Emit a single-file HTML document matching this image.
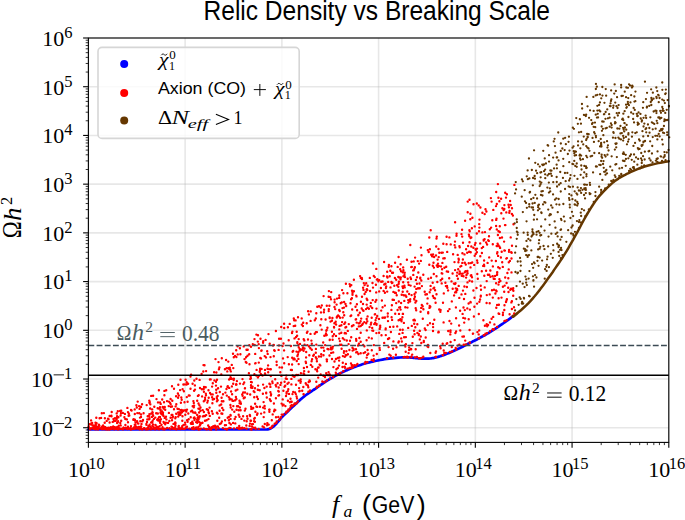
<!DOCTYPE html>
<html><head><meta charset="utf-8"><style>
html,body{margin:0;padding:0;background:#fff;width:685px;height:520px;overflow:hidden}
svg{display:block}
</style></head><body>
<svg width="685" height="520" viewBox="0 0 685 520">
<rect width="685" height="520" fill="#fff"/>
<g stroke="#b0b0b0" stroke-opacity="0.3" stroke-width="1.6"><line x1="88.40" y1="38.0" x2="88.40" y2="442.4"/><line x1="185.13" y1="38.0" x2="185.13" y2="442.4"/><line x1="281.87" y1="38.0" x2="281.87" y2="442.4"/><line x1="378.60" y1="38.0" x2="378.60" y2="442.4"/><line x1="475.33" y1="38.0" x2="475.33" y2="442.4"/><line x1="572.07" y1="38.0" x2="572.07" y2="442.4"/><line x1="668.80" y1="38.0" x2="668.80" y2="442.4"/><line x1="88.4" y1="427.73" x2="668.8" y2="427.73"/><line x1="88.4" y1="379.02" x2="668.8" y2="379.02"/><line x1="88.4" y1="330.30" x2="668.8" y2="330.30"/><line x1="88.4" y1="281.58" x2="668.8" y2="281.58"/><line x1="88.4" y1="232.87" x2="668.8" y2="232.87"/><line x1="88.4" y1="184.15" x2="668.8" y2="184.15"/><line x1="88.4" y1="135.43" x2="668.8" y2="135.43"/><line x1="88.4" y1="86.72" x2="668.8" y2="86.72"/><line x1="88.4" y1="38.00" x2="668.8" y2="38.00"/></g>
<polyline points="88.4,429.5 94.9,429.5 103.7,429.5 114.2,429.5 125.8,429.5 138.0,429.5 150.0,429.5 162.8,429.5 177.1,429.5 191.8,429.5 206.2,429.5 219.2,429.5 230.0,429.5 238.4,429.5 245.2,429.5 250.7,429.5 255.1,429.5 258.8,429.5 262.0,429.5 264.5,429.5 265.9,429.5 266.5,429.5 266.8,429.5 267.0,429.5 267.5,429.4 268.2,429.3 268.8,429.1 269.4,429.0 269.9,428.7 270.4,428.5 271.0,428.2 271.6,427.9 272.1,427.5 272.7,427.1 273.3,426.7 273.9,426.2 274.5,425.6 275.1,425.0 275.8,424.2 276.5,423.5 277.2,422.7 277.9,421.9 278.5,421.2 279.0,420.6 279.4,420.1 279.8,419.6 280.2,419.1 280.7,418.4 281.5,417.6 282.5,416.6 283.7,415.4 285.1,414.0 286.5,412.7 288.0,411.3 289.4,409.9 290.8,408.5 292.3,407.1 293.8,405.7 295.3,404.3 296.8,402.9 298.2,401.6 299.5,400.4 300.8,399.3 302.0,398.2 303.2,397.2 304.5,396.1 306.0,395.0 307.7,393.8 309.5,392.6 311.4,391.3 313.3,390.0 315.2,388.8 316.9,387.6 318.5,386.5 320.0,385.4 321.5,384.4 323.0,383.3 324.4,382.3 326.0,381.3 327.6,380.3 329.3,379.3 331.1,378.3 332.8,377.3 334.5,376.3 336.2,375.4 337.9,374.5 339.5,373.7 341.1,372.9 342.8,372.1 344.4,371.3 346.0,370.6 347.6,369.9 349.1,369.2 350.7,368.6 352.2,367.9 353.8,367.3 355.4,366.7 357.1,366.1 358.9,365.5 360.6,364.9 362.4,364.3 364.2,363.8 366.0,363.3 367.7,362.8 369.4,362.4 371.0,362.0 372.7,361.6 374.4,361.2 376.3,360.8 378.3,360.4 380.3,360.0 382.5,359.6 384.6,359.2 386.8,358.9 389.0,358.6 391.3,358.3 393.6,358.1 396.0,357.9 398.3,357.7 400.5,357.5 402.5,357.4 404.2,357.3 405.7,357.3 407.1,357.4 408.4,357.4 409.7,357.5 411.0,357.6 412.3,357.7 413.6,357.8 414.8,357.9 416.0,358.1 417.2,358.2 418.3,358.3 419.3,358.4 420.3,358.5 421.2,358.6 422.1,358.6 423.1,358.7 424.0,358.7 425.0,358.7 426.0,358.7 427.0,358.7 428.0,358.7 429.0,358.6 430.0,358.5 431.0,358.4 432.0,358.2 433.0,358.1 434.0,357.9 435.0,357.6 436.0,357.4 437.0,357.1 438.0,356.9 439.0,356.6 440.0,356.3 441.0,355.9 442.0,355.6 443.1,355.2 444.1,354.9 445.2,354.5 446.3,354.1 447.4,353.6 448.5,353.2 449.6,352.7 450.7,352.2 451.8,351.7 452.9,351.2 454.0,350.7 455.1,350.2 456.2,349.7 457.2,349.2 458.3,348.7 459.4,348.2 460.4,347.7 461.5,347.2 462.6,346.7 463.7,346.1 464.8,345.5 466.0,344.9 467.1,344.4 468.2,343.8 469.3,343.2 470.4,342.7 471.5,342.2 472.6,341.6 473.7,341.1 474.8,340.5 475.9,339.9 477.0,339.4 478.1,338.8 479.2,338.2 480.3,337.6 481.4,337.0 482.5,336.4 483.6,335.8 484.7,335.2 485.8,334.6 486.9,333.9 488.0,333.3 489.1,332.7 490.1,332.0 491.1,331.4 492.1,330.7 493.3,330.0 494.5,329.2 495.9,328.3 497.4,327.3 498.9,326.3 500.5,325.2 502.1,324.1 503.7,323.0 505.3,321.8 507.1,320.6 508.9,319.3 510.5,318.1 511.9,317.0 512.9,316.3" fill="none" stroke="#0000ff" stroke-width="2.7" stroke-linejoin="round" stroke-linecap="round"/>
<path fill="#ff0000" d="M184.1 424.6a1.2 1.2 0 1 0 2.4 0a1.2 1.2 0 1 0 -2.4 0M222.2 401.3a1.2 1.2 0 1 0 2.4 0a1.2 1.2 0 1 0 -2.4 0M427.0 312.2a1.2 1.2 0 1 0 2.4 0a1.2 1.2 0 1 0 -2.4 0M375.4 323.9a1.2 1.2 0 1 0 2.4 0a1.2 1.2 0 1 0 -2.4 0M253.9 403.7a1.2 1.2 0 1 0 2.4 0a1.2 1.2 0 1 0 -2.4 0M229.0 378.9a1.2 1.2 0 1 0 2.4 0a1.2 1.2 0 1 0 -2.4 0M342.1 312.3a1.2 1.2 0 1 0 2.4 0a1.2 1.2 0 1 0 -2.4 0M166.8 422.9a1.2 1.2 0 1 0 2.4 0a1.2 1.2 0 1 0 -2.4 0M373.9 314.2a1.2 1.2 0 1 0 2.4 0a1.2 1.2 0 1 0 -2.4 0M488.5 294.4a1.2 1.2 0 1 0 2.4 0a1.2 1.2 0 1 0 -2.4 0M193.0 428.4a1.2 1.2 0 1 0 2.4 0a1.2 1.2 0 1 0 -2.4 0M491.5 276.3a1.2 1.2 0 1 0 2.4 0a1.2 1.2 0 1 0 -2.4 0M371.5 300.1a1.2 1.2 0 1 0 2.4 0a1.2 1.2 0 1 0 -2.4 0M275.5 365.0a1.2 1.2 0 1 0 2.4 0a1.2 1.2 0 1 0 -2.4 0M464.9 277.6a1.2 1.2 0 1 0 2.4 0a1.2 1.2 0 1 0 -2.4 0M384.4 329.4a1.2 1.2 0 1 0 2.4 0a1.2 1.2 0 1 0 -2.4 0M399.9 303.0a1.2 1.2 0 1 0 2.4 0a1.2 1.2 0 1 0 -2.4 0M181.0 426.1a1.2 1.2 0 1 0 2.4 0a1.2 1.2 0 1 0 -2.4 0M155.3 399.1a1.2 1.2 0 1 0 2.4 0a1.2 1.2 0 1 0 -2.4 0M232.1 406.1a1.2 1.2 0 1 0 2.4 0a1.2 1.2 0 1 0 -2.4 0M285.4 393.5a1.2 1.2 0 1 0 2.4 0a1.2 1.2 0 1 0 -2.4 0M200.7 389.3a1.2 1.2 0 1 0 2.4 0a1.2 1.2 0 1 0 -2.4 0M434.8 255.4a1.2 1.2 0 1 0 2.4 0a1.2 1.2 0 1 0 -2.4 0M169.6 406.7a1.2 1.2 0 1 0 2.4 0a1.2 1.2 0 1 0 -2.4 0M142.4 413.2a1.2 1.2 0 1 0 2.4 0a1.2 1.2 0 1 0 -2.4 0M126.3 429.0a1.2 1.2 0 1 0 2.4 0a1.2 1.2 0 1 0 -2.4 0M342.2 293.3a1.2 1.2 0 1 0 2.4 0a1.2 1.2 0 1 0 -2.4 0M451.4 273.5a1.2 1.2 0 1 0 2.4 0a1.2 1.2 0 1 0 -2.4 0M343.6 332.9a1.2 1.2 0 1 0 2.4 0a1.2 1.2 0 1 0 -2.4 0M484.3 209.2a1.2 1.2 0 1 0 2.4 0a1.2 1.2 0 1 0 -2.4 0M396.0 326.4a1.2 1.2 0 1 0 2.4 0a1.2 1.2 0 1 0 -2.4 0M453.9 270.1a1.2 1.2 0 1 0 2.4 0a1.2 1.2 0 1 0 -2.4 0M483.2 335.3a1.2 1.2 0 1 0 2.4 0a1.2 1.2 0 1 0 -2.4 0M319.9 356.6a1.2 1.2 0 1 0 2.4 0a1.2 1.2 0 1 0 -2.4 0M486.7 274.7a1.2 1.2 0 1 0 2.4 0a1.2 1.2 0 1 0 -2.4 0M298.1 391.2a1.2 1.2 0 1 0 2.4 0a1.2 1.2 0 1 0 -2.4 0M203.9 399.5a1.2 1.2 0 1 0 2.4 0a1.2 1.2 0 1 0 -2.4 0M279.7 338.8a1.2 1.2 0 1 0 2.4 0a1.2 1.2 0 1 0 -2.4 0M370.6 338.4a1.2 1.2 0 1 0 2.4 0a1.2 1.2 0 1 0 -2.4 0M472.2 247.8a1.2 1.2 0 1 0 2.4 0a1.2 1.2 0 1 0 -2.4 0M196.7 395.9a1.2 1.2 0 1 0 2.4 0a1.2 1.2 0 1 0 -2.4 0M232.0 383.8a1.2 1.2 0 1 0 2.4 0a1.2 1.2 0 1 0 -2.4 0M197.5 429.5a1.2 1.2 0 1 0 2.4 0a1.2 1.2 0 1 0 -2.4 0M238.7 407.4a1.2 1.2 0 1 0 2.4 0a1.2 1.2 0 1 0 -2.4 0M89.3 429.3a1.2 1.2 0 1 0 2.4 0a1.2 1.2 0 1 0 -2.4 0M355.0 295.6a1.2 1.2 0 1 0 2.4 0a1.2 1.2 0 1 0 -2.4 0M207.5 397.7a1.2 1.2 0 1 0 2.4 0a1.2 1.2 0 1 0 -2.4 0M116.2 429.2a1.2 1.2 0 1 0 2.4 0a1.2 1.2 0 1 0 -2.4 0M350.0 315.5a1.2 1.2 0 1 0 2.4 0a1.2 1.2 0 1 0 -2.4 0M162.3 408.6a1.2 1.2 0 1 0 2.4 0a1.2 1.2 0 1 0 -2.4 0M216.9 388.2a1.2 1.2 0 1 0 2.4 0a1.2 1.2 0 1 0 -2.4 0M151.2 412.3a1.2 1.2 0 1 0 2.4 0a1.2 1.2 0 1 0 -2.4 0M180.1 397.4a1.2 1.2 0 1 0 2.4 0a1.2 1.2 0 1 0 -2.4 0M289.3 398.7a1.2 1.2 0 1 0 2.4 0a1.2 1.2 0 1 0 -2.4 0M290.2 384.4a1.2 1.2 0 1 0 2.4 0a1.2 1.2 0 1 0 -2.4 0M196.0 422.7a1.2 1.2 0 1 0 2.4 0a1.2 1.2 0 1 0 -2.4 0M206.1 402.6a1.2 1.2 0 1 0 2.4 0a1.2 1.2 0 1 0 -2.4 0M198.2 417.4a1.2 1.2 0 1 0 2.4 0a1.2 1.2 0 1 0 -2.4 0M292.9 358.4a1.2 1.2 0 1 0 2.4 0a1.2 1.2 0 1 0 -2.4 0M298.4 350.3a1.2 1.2 0 1 0 2.4 0a1.2 1.2 0 1 0 -2.4 0M164.0 409.7a1.2 1.2 0 1 0 2.4 0a1.2 1.2 0 1 0 -2.4 0M454.6 288.4a1.2 1.2 0 1 0 2.4 0a1.2 1.2 0 1 0 -2.4 0M163.2 429.4a1.2 1.2 0 1 0 2.4 0a1.2 1.2 0 1 0 -2.4 0M407.0 282.4a1.2 1.2 0 1 0 2.4 0a1.2 1.2 0 1 0 -2.4 0M347.6 324.1a1.2 1.2 0 1 0 2.4 0a1.2 1.2 0 1 0 -2.4 0M176.3 408.7a1.2 1.2 0 1 0 2.4 0a1.2 1.2 0 1 0 -2.4 0M411.0 354.6a1.2 1.2 0 1 0 2.4 0a1.2 1.2 0 1 0 -2.4 0M193.4 429.1a1.2 1.2 0 1 0 2.4 0a1.2 1.2 0 1 0 -2.4 0M123.7 413.9a1.2 1.2 0 1 0 2.4 0a1.2 1.2 0 1 0 -2.4 0M350.6 365.5a1.2 1.2 0 1 0 2.4 0a1.2 1.2 0 1 0 -2.4 0M316.0 371.3a1.2 1.2 0 1 0 2.4 0a1.2 1.2 0 1 0 -2.4 0M357.6 323.4a1.2 1.2 0 1 0 2.4 0a1.2 1.2 0 1 0 -2.4 0M161.5 406.9a1.2 1.2 0 1 0 2.4 0a1.2 1.2 0 1 0 -2.4 0M192.9 390.7a1.2 1.2 0 1 0 2.4 0a1.2 1.2 0 1 0 -2.4 0M379.0 327.2a1.2 1.2 0 1 0 2.4 0a1.2 1.2 0 1 0 -2.4 0M460.1 265.9a1.2 1.2 0 1 0 2.4 0a1.2 1.2 0 1 0 -2.4 0M269.9 394.2a1.2 1.2 0 1 0 2.4 0a1.2 1.2 0 1 0 -2.4 0M350.7 326.2a1.2 1.2 0 1 0 2.4 0a1.2 1.2 0 1 0 -2.4 0M220.6 401.2a1.2 1.2 0 1 0 2.4 0a1.2 1.2 0 1 0 -2.4 0M163.5 417.9a1.2 1.2 0 1 0 2.4 0a1.2 1.2 0 1 0 -2.4 0M91.3 425.4a1.2 1.2 0 1 0 2.4 0a1.2 1.2 0 1 0 -2.4 0M176.7 393.5a1.2 1.2 0 1 0 2.4 0a1.2 1.2 0 1 0 -2.4 0M457.9 325.5a1.2 1.2 0 1 0 2.4 0a1.2 1.2 0 1 0 -2.4 0M501.7 286.7a1.2 1.2 0 1 0 2.4 0a1.2 1.2 0 1 0 -2.4 0M275.4 361.8a1.2 1.2 0 1 0 2.4 0a1.2 1.2 0 1 0 -2.4 0M248.6 415.0a1.2 1.2 0 1 0 2.4 0a1.2 1.2 0 1 0 -2.4 0M204.8 395.3a1.2 1.2 0 1 0 2.4 0a1.2 1.2 0 1 0 -2.4 0M498.9 247.9a1.2 1.2 0 1 0 2.4 0a1.2 1.2 0 1 0 -2.4 0M112.0 426.5a1.2 1.2 0 1 0 2.4 0a1.2 1.2 0 1 0 -2.4 0M261.4 426.5a1.2 1.2 0 1 0 2.4 0a1.2 1.2 0 1 0 -2.4 0M159.1 428.6a1.2 1.2 0 1 0 2.4 0a1.2 1.2 0 1 0 -2.4 0M189.5 417.3a1.2 1.2 0 1 0 2.4 0a1.2 1.2 0 1 0 -2.4 0M419.6 336.5a1.2 1.2 0 1 0 2.4 0a1.2 1.2 0 1 0 -2.4 0M174.0 422.5a1.2 1.2 0 1 0 2.4 0a1.2 1.2 0 1 0 -2.4 0M322.4 296.1a1.2 1.2 0 1 0 2.4 0a1.2 1.2 0 1 0 -2.4 0M243.6 397.5a1.2 1.2 0 1 0 2.4 0a1.2 1.2 0 1 0 -2.4 0M303.4 344.8a1.2 1.2 0 1 0 2.4 0a1.2 1.2 0 1 0 -2.4 0M229.3 415.0a1.2 1.2 0 1 0 2.4 0a1.2 1.2 0 1 0 -2.4 0M207.7 413.3a1.2 1.2 0 1 0 2.4 0a1.2 1.2 0 1 0 -2.4 0M207.3 390.3a1.2 1.2 0 1 0 2.4 0a1.2 1.2 0 1 0 -2.4 0M123.6 428.3a1.2 1.2 0 1 0 2.4 0a1.2 1.2 0 1 0 -2.4 0M292.5 326.1a1.2 1.2 0 1 0 2.4 0a1.2 1.2 0 1 0 -2.4 0M463.6 262.8a1.2 1.2 0 1 0 2.4 0a1.2 1.2 0 1 0 -2.4 0M490.8 290.3a1.2 1.2 0 1 0 2.4 0a1.2 1.2 0 1 0 -2.4 0M98.9 428.1a1.2 1.2 0 1 0 2.4 0a1.2 1.2 0 1 0 -2.4 0M478.3 219.6a1.2 1.2 0 1 0 2.4 0a1.2 1.2 0 1 0 -2.4 0M405.9 357.5a1.2 1.2 0 1 0 2.4 0a1.2 1.2 0 1 0 -2.4 0M469.2 213.8a1.2 1.2 0 1 0 2.4 0a1.2 1.2 0 1 0 -2.4 0M158.8 407.3a1.2 1.2 0 1 0 2.4 0a1.2 1.2 0 1 0 -2.4 0M228.4 399.5a1.2 1.2 0 1 0 2.4 0a1.2 1.2 0 1 0 -2.4 0M248.3 364.2a1.2 1.2 0 1 0 2.4 0a1.2 1.2 0 1 0 -2.4 0M235.0 350.2a1.2 1.2 0 1 0 2.4 0a1.2 1.2 0 1 0 -2.4 0M307.2 391.8a1.2 1.2 0 1 0 2.4 0a1.2 1.2 0 1 0 -2.4 0M91.0 427.9a1.2 1.2 0 1 0 2.4 0a1.2 1.2 0 1 0 -2.4 0M461.2 253.3a1.2 1.2 0 1 0 2.4 0a1.2 1.2 0 1 0 -2.4 0M124.4 419.1a1.2 1.2 0 1 0 2.4 0a1.2 1.2 0 1 0 -2.4 0M293.5 359.3a1.2 1.2 0 1 0 2.4 0a1.2 1.2 0 1 0 -2.4 0M292.3 359.4a1.2 1.2 0 1 0 2.4 0a1.2 1.2 0 1 0 -2.4 0M420.7 286.1a1.2 1.2 0 1 0 2.4 0a1.2 1.2 0 1 0 -2.4 0M498.2 201.3a1.2 1.2 0 1 0 2.4 0a1.2 1.2 0 1 0 -2.4 0M388.5 276.2a1.2 1.2 0 1 0 2.4 0a1.2 1.2 0 1 0 -2.4 0M203.8 420.7a1.2 1.2 0 1 0 2.4 0a1.2 1.2 0 1 0 -2.4 0M372.7 345.1a1.2 1.2 0 1 0 2.4 0a1.2 1.2 0 1 0 -2.4 0M235.3 409.8a1.2 1.2 0 1 0 2.4 0a1.2 1.2 0 1 0 -2.4 0M414.5 349.3a1.2 1.2 0 1 0 2.4 0a1.2 1.2 0 1 0 -2.4 0M375.1 268.9a1.2 1.2 0 1 0 2.4 0a1.2 1.2 0 1 0 -2.4 0M503.7 250.6a1.2 1.2 0 1 0 2.4 0a1.2 1.2 0 1 0 -2.4 0M456.5 345.6a1.2 1.2 0 1 0 2.4 0a1.2 1.2 0 1 0 -2.4 0M106.8 418.7a1.2 1.2 0 1 0 2.4 0a1.2 1.2 0 1 0 -2.4 0M210.9 397.3a1.2 1.2 0 1 0 2.4 0a1.2 1.2 0 1 0 -2.4 0M454.7 307.4a1.2 1.2 0 1 0 2.4 0a1.2 1.2 0 1 0 -2.4 0M343.2 339.6a1.2 1.2 0 1 0 2.4 0a1.2 1.2 0 1 0 -2.4 0M233.9 355.9a1.2 1.2 0 1 0 2.4 0a1.2 1.2 0 1 0 -2.4 0M110.9 427.3a1.2 1.2 0 1 0 2.4 0a1.2 1.2 0 1 0 -2.4 0M412.3 320.3a1.2 1.2 0 1 0 2.4 0a1.2 1.2 0 1 0 -2.4 0M126.8 422.3a1.2 1.2 0 1 0 2.4 0a1.2 1.2 0 1 0 -2.4 0M510.5 252.7a1.2 1.2 0 1 0 2.4 0a1.2 1.2 0 1 0 -2.4 0M417.9 263.6a1.2 1.2 0 1 0 2.4 0a1.2 1.2 0 1 0 -2.4 0M457.2 262.2a1.2 1.2 0 1 0 2.4 0a1.2 1.2 0 1 0 -2.4 0M290.5 405.0a1.2 1.2 0 1 0 2.4 0a1.2 1.2 0 1 0 -2.4 0M159.1 428.6a1.2 1.2 0 1 0 2.4 0a1.2 1.2 0 1 0 -2.4 0M314.7 348.9a1.2 1.2 0 1 0 2.4 0a1.2 1.2 0 1 0 -2.4 0M268.6 399.1a1.2 1.2 0 1 0 2.4 0a1.2 1.2 0 1 0 -2.4 0M156.7 427.2a1.2 1.2 0 1 0 2.4 0a1.2 1.2 0 1 0 -2.4 0M157.9 429.2a1.2 1.2 0 1 0 2.4 0a1.2 1.2 0 1 0 -2.4 0M197.2 427.0a1.2 1.2 0 1 0 2.4 0a1.2 1.2 0 1 0 -2.4 0M489.1 270.5a1.2 1.2 0 1 0 2.4 0a1.2 1.2 0 1 0 -2.4 0M507.7 207.3a1.2 1.2 0 1 0 2.4 0a1.2 1.2 0 1 0 -2.4 0M387.0 281.9a1.2 1.2 0 1 0 2.4 0a1.2 1.2 0 1 0 -2.4 0M395.3 347.3a1.2 1.2 0 1 0 2.4 0a1.2 1.2 0 1 0 -2.4 0M399.3 279.2a1.2 1.2 0 1 0 2.4 0a1.2 1.2 0 1 0 -2.4 0M307.7 314.4a1.2 1.2 0 1 0 2.4 0a1.2 1.2 0 1 0 -2.4 0M162.8 402.3a1.2 1.2 0 1 0 2.4 0a1.2 1.2 0 1 0 -2.4 0M461.2 336.6a1.2 1.2 0 1 0 2.4 0a1.2 1.2 0 1 0 -2.4 0M462.3 307.5a1.2 1.2 0 1 0 2.4 0a1.2 1.2 0 1 0 -2.4 0M389.5 355.7a1.2 1.2 0 1 0 2.4 0a1.2 1.2 0 1 0 -2.4 0M484.9 270.8a1.2 1.2 0 1 0 2.4 0a1.2 1.2 0 1 0 -2.4 0M504.8 197.6a1.2 1.2 0 1 0 2.4 0a1.2 1.2 0 1 0 -2.4 0M301.7 326.0a1.2 1.2 0 1 0 2.4 0a1.2 1.2 0 1 0 -2.4 0M410.0 267.1a1.2 1.2 0 1 0 2.4 0a1.2 1.2 0 1 0 -2.4 0M349.9 299.3a1.2 1.2 0 1 0 2.4 0a1.2 1.2 0 1 0 -2.4 0M136.2 422.4a1.2 1.2 0 1 0 2.4 0a1.2 1.2 0 1 0 -2.4 0M221.8 394.3a1.2 1.2 0 1 0 2.4 0a1.2 1.2 0 1 0 -2.4 0M116.1 429.3a1.2 1.2 0 1 0 2.4 0a1.2 1.2 0 1 0 -2.4 0M465.1 344.5a1.2 1.2 0 1 0 2.4 0a1.2 1.2 0 1 0 -2.4 0M96.6 428.4a1.2 1.2 0 1 0 2.4 0a1.2 1.2 0 1 0 -2.4 0M316.1 306.8a1.2 1.2 0 1 0 2.4 0a1.2 1.2 0 1 0 -2.4 0M162.9 428.8a1.2 1.2 0 1 0 2.4 0a1.2 1.2 0 1 0 -2.4 0M157.9 408.6a1.2 1.2 0 1 0 2.4 0a1.2 1.2 0 1 0 -2.4 0M460.9 229.7a1.2 1.2 0 1 0 2.4 0a1.2 1.2 0 1 0 -2.4 0M297.9 388.1a1.2 1.2 0 1 0 2.4 0a1.2 1.2 0 1 0 -2.4 0M232.5 380.1a1.2 1.2 0 1 0 2.4 0a1.2 1.2 0 1 0 -2.4 0M513.0 313.5a1.2 1.2 0 1 0 2.4 0a1.2 1.2 0 1 0 -2.4 0M319.8 312.4a1.2 1.2 0 1 0 2.4 0a1.2 1.2 0 1 0 -2.4 0M216.4 413.6a1.2 1.2 0 1 0 2.4 0a1.2 1.2 0 1 0 -2.4 0M245.1 425.5a1.2 1.2 0 1 0 2.4 0a1.2 1.2 0 1 0 -2.4 0M383.7 317.8a1.2 1.2 0 1 0 2.4 0a1.2 1.2 0 1 0 -2.4 0M138.4 408.9a1.2 1.2 0 1 0 2.4 0a1.2 1.2 0 1 0 -2.4 0M410.3 261.8a1.2 1.2 0 1 0 2.4 0a1.2 1.2 0 1 0 -2.4 0M463.8 344.7a1.2 1.2 0 1 0 2.4 0a1.2 1.2 0 1 0 -2.4 0M289.7 346.0a1.2 1.2 0 1 0 2.4 0a1.2 1.2 0 1 0 -2.4 0M273.5 350.7a1.2 1.2 0 1 0 2.4 0a1.2 1.2 0 1 0 -2.4 0M148.2 414.1a1.2 1.2 0 1 0 2.4 0a1.2 1.2 0 1 0 -2.4 0M267.3 334.1a1.2 1.2 0 1 0 2.4 0a1.2 1.2 0 1 0 -2.4 0M412.9 330.8a1.2 1.2 0 1 0 2.4 0a1.2 1.2 0 1 0 -2.4 0M263.6 424.0a1.2 1.2 0 1 0 2.4 0a1.2 1.2 0 1 0 -2.4 0M351.4 350.6a1.2 1.2 0 1 0 2.4 0a1.2 1.2 0 1 0 -2.4 0M105.9 428.0a1.2 1.2 0 1 0 2.4 0a1.2 1.2 0 1 0 -2.4 0M180.8 412.3a1.2 1.2 0 1 0 2.4 0a1.2 1.2 0 1 0 -2.4 0M174.1 427.9a1.2 1.2 0 1 0 2.4 0a1.2 1.2 0 1 0 -2.4 0M505.3 320.3a1.2 1.2 0 1 0 2.4 0a1.2 1.2 0 1 0 -2.4 0M106.2 429.5a1.2 1.2 0 1 0 2.4 0a1.2 1.2 0 1 0 -2.4 0M178.9 390.1a1.2 1.2 0 1 0 2.4 0a1.2 1.2 0 1 0 -2.4 0M100.6 413.2a1.2 1.2 0 1 0 2.4 0a1.2 1.2 0 1 0 -2.4 0M359.7 301.8a1.2 1.2 0 1 0 2.4 0a1.2 1.2 0 1 0 -2.4 0M365.5 304.6a1.2 1.2 0 1 0 2.4 0a1.2 1.2 0 1 0 -2.4 0M234.4 417.0a1.2 1.2 0 1 0 2.4 0a1.2 1.2 0 1 0 -2.4 0M102.7 413.1a1.2 1.2 0 1 0 2.4 0a1.2 1.2 0 1 0 -2.4 0M272.6 345.0a1.2 1.2 0 1 0 2.4 0a1.2 1.2 0 1 0 -2.4 0M160.2 413.9a1.2 1.2 0 1 0 2.4 0a1.2 1.2 0 1 0 -2.4 0M269.0 384.4a1.2 1.2 0 1 0 2.4 0a1.2 1.2 0 1 0 -2.4 0M246.1 393.8a1.2 1.2 0 1 0 2.4 0a1.2 1.2 0 1 0 -2.4 0M445.8 285.9a1.2 1.2 0 1 0 2.4 0a1.2 1.2 0 1 0 -2.4 0M382.3 317.6a1.2 1.2 0 1 0 2.4 0a1.2 1.2 0 1 0 -2.4 0M287.7 364.3a1.2 1.2 0 1 0 2.4 0a1.2 1.2 0 1 0 -2.4 0M257.5 344.2a1.2 1.2 0 1 0 2.4 0a1.2 1.2 0 1 0 -2.4 0M133.7 419.7a1.2 1.2 0 1 0 2.4 0a1.2 1.2 0 1 0 -2.4 0M344.2 327.5a1.2 1.2 0 1 0 2.4 0a1.2 1.2 0 1 0 -2.4 0M302.0 322.8a1.2 1.2 0 1 0 2.4 0a1.2 1.2 0 1 0 -2.4 0M473.0 264.9a1.2 1.2 0 1 0 2.4 0a1.2 1.2 0 1 0 -2.4 0M500.1 213.2a1.2 1.2 0 1 0 2.4 0a1.2 1.2 0 1 0 -2.4 0M432.2 288.4a1.2 1.2 0 1 0 2.4 0a1.2 1.2 0 1 0 -2.4 0M298.5 391.0a1.2 1.2 0 1 0 2.4 0a1.2 1.2 0 1 0 -2.4 0M246.5 349.8a1.2 1.2 0 1 0 2.4 0a1.2 1.2 0 1 0 -2.4 0M291.3 394.1a1.2 1.2 0 1 0 2.4 0a1.2 1.2 0 1 0 -2.4 0M313.6 320.3a1.2 1.2 0 1 0 2.4 0a1.2 1.2 0 1 0 -2.4 0M435.6 236.6a1.2 1.2 0 1 0 2.4 0a1.2 1.2 0 1 0 -2.4 0M151.5 420.8a1.2 1.2 0 1 0 2.4 0a1.2 1.2 0 1 0 -2.4 0M343.1 323.9a1.2 1.2 0 1 0 2.4 0a1.2 1.2 0 1 0 -2.4 0M473.2 306.8a1.2 1.2 0 1 0 2.4 0a1.2 1.2 0 1 0 -2.4 0M182.0 428.8a1.2 1.2 0 1 0 2.4 0a1.2 1.2 0 1 0 -2.4 0M209.9 429.5a1.2 1.2 0 1 0 2.4 0a1.2 1.2 0 1 0 -2.4 0M446.1 287.8a1.2 1.2 0 1 0 2.4 0a1.2 1.2 0 1 0 -2.4 0M365.0 323.2a1.2 1.2 0 1 0 2.4 0a1.2 1.2 0 1 0 -2.4 0M498.6 232.0a1.2 1.2 0 1 0 2.4 0a1.2 1.2 0 1 0 -2.4 0M360.8 296.8a1.2 1.2 0 1 0 2.4 0a1.2 1.2 0 1 0 -2.4 0M491.7 266.4a1.2 1.2 0 1 0 2.4 0a1.2 1.2 0 1 0 -2.4 0M439.5 280.2a1.2 1.2 0 1 0 2.4 0a1.2 1.2 0 1 0 -2.4 0M374.7 284.7a1.2 1.2 0 1 0 2.4 0a1.2 1.2 0 1 0 -2.4 0M168.2 428.3a1.2 1.2 0 1 0 2.4 0a1.2 1.2 0 1 0 -2.4 0M178.2 413.5a1.2 1.2 0 1 0 2.4 0a1.2 1.2 0 1 0 -2.4 0M454.9 349.5a1.2 1.2 0 1 0 2.4 0a1.2 1.2 0 1 0 -2.4 0M229.5 407.5a1.2 1.2 0 1 0 2.4 0a1.2 1.2 0 1 0 -2.4 0M379.7 288.0a1.2 1.2 0 1 0 2.4 0a1.2 1.2 0 1 0 -2.4 0M272.7 403.5a1.2 1.2 0 1 0 2.4 0a1.2 1.2 0 1 0 -2.4 0M282.9 323.8a1.2 1.2 0 1 0 2.4 0a1.2 1.2 0 1 0 -2.4 0M91.7 427.8a1.2 1.2 0 1 0 2.4 0a1.2 1.2 0 1 0 -2.4 0M437.6 266.0a1.2 1.2 0 1 0 2.4 0a1.2 1.2 0 1 0 -2.4 0M219.9 423.2a1.2 1.2 0 1 0 2.4 0a1.2 1.2 0 1 0 -2.4 0M230.9 394.2a1.2 1.2 0 1 0 2.4 0a1.2 1.2 0 1 0 -2.4 0M353.4 365.2a1.2 1.2 0 1 0 2.4 0a1.2 1.2 0 1 0 -2.4 0M419.0 278.4a1.2 1.2 0 1 0 2.4 0a1.2 1.2 0 1 0 -2.4 0M305.0 352.0a1.2 1.2 0 1 0 2.4 0a1.2 1.2 0 1 0 -2.4 0M290.8 333.0a1.2 1.2 0 1 0 2.4 0a1.2 1.2 0 1 0 -2.4 0M416.2 332.9a1.2 1.2 0 1 0 2.4 0a1.2 1.2 0 1 0 -2.4 0M317.7 356.5a1.2 1.2 0 1 0 2.4 0a1.2 1.2 0 1 0 -2.4 0M406.3 307.6a1.2 1.2 0 1 0 2.4 0a1.2 1.2 0 1 0 -2.4 0M243.3 359.1a1.2 1.2 0 1 0 2.4 0a1.2 1.2 0 1 0 -2.4 0M460.5 275.7a1.2 1.2 0 1 0 2.4 0a1.2 1.2 0 1 0 -2.4 0M281.8 358.4a1.2 1.2 0 1 0 2.4 0a1.2 1.2 0 1 0 -2.4 0M136.6 428.5a1.2 1.2 0 1 0 2.4 0a1.2 1.2 0 1 0 -2.4 0M503.5 285.6a1.2 1.2 0 1 0 2.4 0a1.2 1.2 0 1 0 -2.4 0M281.5 405.6a1.2 1.2 0 1 0 2.4 0a1.2 1.2 0 1 0 -2.4 0M431.8 331.0a1.2 1.2 0 1 0 2.4 0a1.2 1.2 0 1 0 -2.4 0M140.4 428.9a1.2 1.2 0 1 0 2.4 0a1.2 1.2 0 1 0 -2.4 0M205.0 415.1a1.2 1.2 0 1 0 2.4 0a1.2 1.2 0 1 0 -2.4 0M268.2 411.8a1.2 1.2 0 1 0 2.4 0a1.2 1.2 0 1 0 -2.4 0M269.7 395.4a1.2 1.2 0 1 0 2.4 0a1.2 1.2 0 1 0 -2.4 0M101.9 425.5a1.2 1.2 0 1 0 2.4 0a1.2 1.2 0 1 0 -2.4 0M341.6 338.3a1.2 1.2 0 1 0 2.4 0a1.2 1.2 0 1 0 -2.4 0M403.3 274.9a1.2 1.2 0 1 0 2.4 0a1.2 1.2 0 1 0 -2.4 0M504.2 225.1a1.2 1.2 0 1 0 2.4 0a1.2 1.2 0 1 0 -2.4 0M323.3 381.9a1.2 1.2 0 1 0 2.4 0a1.2 1.2 0 1 0 -2.4 0M484.3 333.6a1.2 1.2 0 1 0 2.4 0a1.2 1.2 0 1 0 -2.4 0M492.8 289.7a1.2 1.2 0 1 0 2.4 0a1.2 1.2 0 1 0 -2.4 0M177.7 409.1a1.2 1.2 0 1 0 2.4 0a1.2 1.2 0 1 0 -2.4 0M115.5 419.1a1.2 1.2 0 1 0 2.4 0a1.2 1.2 0 1 0 -2.4 0M159.5 403.9a1.2 1.2 0 1 0 2.4 0a1.2 1.2 0 1 0 -2.4 0M404.4 295.4a1.2 1.2 0 1 0 2.4 0a1.2 1.2 0 1 0 -2.4 0M198.4 379.9a1.2 1.2 0 1 0 2.4 0a1.2 1.2 0 1 0 -2.4 0M135.0 427.9a1.2 1.2 0 1 0 2.4 0a1.2 1.2 0 1 0 -2.4 0M489.2 276.8a1.2 1.2 0 1 0 2.4 0a1.2 1.2 0 1 0 -2.4 0M378.5 328.9a1.2 1.2 0 1 0 2.4 0a1.2 1.2 0 1 0 -2.4 0M495.5 246.0a1.2 1.2 0 1 0 2.4 0a1.2 1.2 0 1 0 -2.4 0M227.6 397.1a1.2 1.2 0 1 0 2.4 0a1.2 1.2 0 1 0 -2.4 0M169.1 429.1a1.2 1.2 0 1 0 2.4 0a1.2 1.2 0 1 0 -2.4 0M145.5 405.1a1.2 1.2 0 1 0 2.4 0a1.2 1.2 0 1 0 -2.4 0M489.2 270.6a1.2 1.2 0 1 0 2.4 0a1.2 1.2 0 1 0 -2.4 0M429.1 306.7a1.2 1.2 0 1 0 2.4 0a1.2 1.2 0 1 0 -2.4 0M177.4 428.8a1.2 1.2 0 1 0 2.4 0a1.2 1.2 0 1 0 -2.4 0M454.9 331.4a1.2 1.2 0 1 0 2.4 0a1.2 1.2 0 1 0 -2.4 0M111.3 428.5a1.2 1.2 0 1 0 2.4 0a1.2 1.2 0 1 0 -2.4 0M249.7 378.2a1.2 1.2 0 1 0 2.4 0a1.2 1.2 0 1 0 -2.4 0M258.5 371.8a1.2 1.2 0 1 0 2.4 0a1.2 1.2 0 1 0 -2.4 0M503.2 250.5a1.2 1.2 0 1 0 2.4 0a1.2 1.2 0 1 0 -2.4 0M469.7 263.1a1.2 1.2 0 1 0 2.4 0a1.2 1.2 0 1 0 -2.4 0M251.0 387.9a1.2 1.2 0 1 0 2.4 0a1.2 1.2 0 1 0 -2.4 0M268.2 383.7a1.2 1.2 0 1 0 2.4 0a1.2 1.2 0 1 0 -2.4 0M391.9 348.8a1.2 1.2 0 1 0 2.4 0a1.2 1.2 0 1 0 -2.4 0M360.0 318.6a1.2 1.2 0 1 0 2.4 0a1.2 1.2 0 1 0 -2.4 0M468.2 230.3a1.2 1.2 0 1 0 2.4 0a1.2 1.2 0 1 0 -2.4 0M380.0 310.6a1.2 1.2 0 1 0 2.4 0a1.2 1.2 0 1 0 -2.4 0M306.8 339.5a1.2 1.2 0 1 0 2.4 0a1.2 1.2 0 1 0 -2.4 0M471.0 262.5a1.2 1.2 0 1 0 2.4 0a1.2 1.2 0 1 0 -2.4 0M228.2 423.0a1.2 1.2 0 1 0 2.4 0a1.2 1.2 0 1 0 -2.4 0M243.8 388.1a1.2 1.2 0 1 0 2.4 0a1.2 1.2 0 1 0 -2.4 0M236.9 406.2a1.2 1.2 0 1 0 2.4 0a1.2 1.2 0 1 0 -2.4 0M295.8 398.4a1.2 1.2 0 1 0 2.4 0a1.2 1.2 0 1 0 -2.4 0M102.0 429.0a1.2 1.2 0 1 0 2.4 0a1.2 1.2 0 1 0 -2.4 0M280.2 375.9a1.2 1.2 0 1 0 2.4 0a1.2 1.2 0 1 0 -2.4 0M222.1 410.0a1.2 1.2 0 1 0 2.4 0a1.2 1.2 0 1 0 -2.4 0M190.8 428.0a1.2 1.2 0 1 0 2.4 0a1.2 1.2 0 1 0 -2.4 0M192.6 403.0a1.2 1.2 0 1 0 2.4 0a1.2 1.2 0 1 0 -2.4 0M427.0 347.0a1.2 1.2 0 1 0 2.4 0a1.2 1.2 0 1 0 -2.4 0M251.5 408.5a1.2 1.2 0 1 0 2.4 0a1.2 1.2 0 1 0 -2.4 0M505.1 212.4a1.2 1.2 0 1 0 2.4 0a1.2 1.2 0 1 0 -2.4 0M263.1 412.4a1.2 1.2 0 1 0 2.4 0a1.2 1.2 0 1 0 -2.4 0M384.5 328.4a1.2 1.2 0 1 0 2.4 0a1.2 1.2 0 1 0 -2.4 0M439.4 310.0a1.2 1.2 0 1 0 2.4 0a1.2 1.2 0 1 0 -2.4 0M178.0 412.4a1.2 1.2 0 1 0 2.4 0a1.2 1.2 0 1 0 -2.4 0M204.5 387.2a1.2 1.2 0 1 0 2.4 0a1.2 1.2 0 1 0 -2.4 0M211.8 427.8a1.2 1.2 0 1 0 2.4 0a1.2 1.2 0 1 0 -2.4 0M407.0 300.1a1.2 1.2 0 1 0 2.4 0a1.2 1.2 0 1 0 -2.4 0M271.1 381.4a1.2 1.2 0 1 0 2.4 0a1.2 1.2 0 1 0 -2.4 0M315.7 361.3a1.2 1.2 0 1 0 2.4 0a1.2 1.2 0 1 0 -2.4 0M295.3 351.6a1.2 1.2 0 1 0 2.4 0a1.2 1.2 0 1 0 -2.4 0M302.5 394.2a1.2 1.2 0 1 0 2.4 0a1.2 1.2 0 1 0 -2.4 0M390.8 272.7a1.2 1.2 0 1 0 2.4 0a1.2 1.2 0 1 0 -2.4 0M115.5 413.4a1.2 1.2 0 1 0 2.4 0a1.2 1.2 0 1 0 -2.4 0M296.8 317.2a1.2 1.2 0 1 0 2.4 0a1.2 1.2 0 1 0 -2.4 0M109.2 428.7a1.2 1.2 0 1 0 2.4 0a1.2 1.2 0 1 0 -2.4 0M503.1 310.0a1.2 1.2 0 1 0 2.4 0a1.2 1.2 0 1 0 -2.4 0M368.4 327.1a1.2 1.2 0 1 0 2.4 0a1.2 1.2 0 1 0 -2.4 0M479.0 243.4a1.2 1.2 0 1 0 2.4 0a1.2 1.2 0 1 0 -2.4 0M161.8 414.5a1.2 1.2 0 1 0 2.4 0a1.2 1.2 0 1 0 -2.4 0M238.3 400.7a1.2 1.2 0 1 0 2.4 0a1.2 1.2 0 1 0 -2.4 0M107.4 419.3a1.2 1.2 0 1 0 2.4 0a1.2 1.2 0 1 0 -2.4 0M245.4 428.7a1.2 1.2 0 1 0 2.4 0a1.2 1.2 0 1 0 -2.4 0M398.9 307.3a1.2 1.2 0 1 0 2.4 0a1.2 1.2 0 1 0 -2.4 0M139.1 421.3a1.2 1.2 0 1 0 2.4 0a1.2 1.2 0 1 0 -2.4 0M418.3 283.5a1.2 1.2 0 1 0 2.4 0a1.2 1.2 0 1 0 -2.4 0M269.2 386.9a1.2 1.2 0 1 0 2.4 0a1.2 1.2 0 1 0 -2.4 0M429.1 353.0a1.2 1.2 0 1 0 2.4 0a1.2 1.2 0 1 0 -2.4 0M161.3 429.0a1.2 1.2 0 1 0 2.4 0a1.2 1.2 0 1 0 -2.4 0M471.7 333.8a1.2 1.2 0 1 0 2.4 0a1.2 1.2 0 1 0 -2.4 0M397.1 276.9a1.2 1.2 0 1 0 2.4 0a1.2 1.2 0 1 0 -2.4 0M107.7 428.1a1.2 1.2 0 1 0 2.4 0a1.2 1.2 0 1 0 -2.4 0M291.4 375.4a1.2 1.2 0 1 0 2.4 0a1.2 1.2 0 1 0 -2.4 0M395.0 279.8a1.2 1.2 0 1 0 2.4 0a1.2 1.2 0 1 0 -2.4 0M242.0 392.5a1.2 1.2 0 1 0 2.4 0a1.2 1.2 0 1 0 -2.4 0M417.1 272.5a1.2 1.2 0 1 0 2.4 0a1.2 1.2 0 1 0 -2.4 0M463.2 286.5a1.2 1.2 0 1 0 2.4 0a1.2 1.2 0 1 0 -2.4 0M162.3 415.9a1.2 1.2 0 1 0 2.4 0a1.2 1.2 0 1 0 -2.4 0M432.5 297.7a1.2 1.2 0 1 0 2.4 0a1.2 1.2 0 1 0 -2.4 0M251.6 344.2a1.2 1.2 0 1 0 2.4 0a1.2 1.2 0 1 0 -2.4 0M250.1 408.9a1.2 1.2 0 1 0 2.4 0a1.2 1.2 0 1 0 -2.4 0M366.0 354.9a1.2 1.2 0 1 0 2.4 0a1.2 1.2 0 1 0 -2.4 0M502.3 218.6a1.2 1.2 0 1 0 2.4 0a1.2 1.2 0 1 0 -2.4 0M378.0 291.4a1.2 1.2 0 1 0 2.4 0a1.2 1.2 0 1 0 -2.4 0M181.4 389.2a1.2 1.2 0 1 0 2.4 0a1.2 1.2 0 1 0 -2.4 0M87.4 426.6a1.2 1.2 0 1 0 2.4 0a1.2 1.2 0 1 0 -2.4 0M212.8 399.0a1.2 1.2 0 1 0 2.4 0a1.2 1.2 0 1 0 -2.4 0M116.6 422.3a1.2 1.2 0 1 0 2.4 0a1.2 1.2 0 1 0 -2.4 0M490.4 201.6a1.2 1.2 0 1 0 2.4 0a1.2 1.2 0 1 0 -2.4 0M151.8 415.2a1.2 1.2 0 1 0 2.4 0a1.2 1.2 0 1 0 -2.4 0M229.5 415.6a1.2 1.2 0 1 0 2.4 0a1.2 1.2 0 1 0 -2.4 0M498.7 238.0a1.2 1.2 0 1 0 2.4 0a1.2 1.2 0 1 0 -2.4 0M314.6 357.3a1.2 1.2 0 1 0 2.4 0a1.2 1.2 0 1 0 -2.4 0M382.4 276.0a1.2 1.2 0 1 0 2.4 0a1.2 1.2 0 1 0 -2.4 0M371.0 308.0a1.2 1.2 0 1 0 2.4 0a1.2 1.2 0 1 0 -2.4 0M156.7 419.8a1.2 1.2 0 1 0 2.4 0a1.2 1.2 0 1 0 -2.4 0M473.5 226.4a1.2 1.2 0 1 0 2.4 0a1.2 1.2 0 1 0 -2.4 0M398.1 333.9a1.2 1.2 0 1 0 2.4 0a1.2 1.2 0 1 0 -2.4 0M284.2 406.1a1.2 1.2 0 1 0 2.4 0a1.2 1.2 0 1 0 -2.4 0M282.3 343.5a1.2 1.2 0 1 0 2.4 0a1.2 1.2 0 1 0 -2.4 0M403.5 287.4a1.2 1.2 0 1 0 2.4 0a1.2 1.2 0 1 0 -2.4 0M256.7 377.4a1.2 1.2 0 1 0 2.4 0a1.2 1.2 0 1 0 -2.4 0M271.5 425.8a1.2 1.2 0 1 0 2.4 0a1.2 1.2 0 1 0 -2.4 0M329.1 297.1a1.2 1.2 0 1 0 2.4 0a1.2 1.2 0 1 0 -2.4 0M325.7 361.3a1.2 1.2 0 1 0 2.4 0a1.2 1.2 0 1 0 -2.4 0M283.4 381.8a1.2 1.2 0 1 0 2.4 0a1.2 1.2 0 1 0 -2.4 0M344.8 333.4a1.2 1.2 0 1 0 2.4 0a1.2 1.2 0 1 0 -2.4 0M151.1 422.2a1.2 1.2 0 1 0 2.4 0a1.2 1.2 0 1 0 -2.4 0M402.0 267.4a1.2 1.2 0 1 0 2.4 0a1.2 1.2 0 1 0 -2.4 0M156.5 408.3a1.2 1.2 0 1 0 2.4 0a1.2 1.2 0 1 0 -2.4 0M431.7 295.9a1.2 1.2 0 1 0 2.4 0a1.2 1.2 0 1 0 -2.4 0M331.2 318.0a1.2 1.2 0 1 0 2.4 0a1.2 1.2 0 1 0 -2.4 0M486.0 326.2a1.2 1.2 0 1 0 2.4 0a1.2 1.2 0 1 0 -2.4 0M265.0 392.8a1.2 1.2 0 1 0 2.4 0a1.2 1.2 0 1 0 -2.4 0M367.7 308.8a1.2 1.2 0 1 0 2.4 0a1.2 1.2 0 1 0 -2.4 0M216.5 400.3a1.2 1.2 0 1 0 2.4 0a1.2 1.2 0 1 0 -2.4 0M156.3 427.0a1.2 1.2 0 1 0 2.4 0a1.2 1.2 0 1 0 -2.4 0M372.0 330.7a1.2 1.2 0 1 0 2.4 0a1.2 1.2 0 1 0 -2.4 0M138.8 417.6a1.2 1.2 0 1 0 2.4 0a1.2 1.2 0 1 0 -2.4 0M299.6 381.6a1.2 1.2 0 1 0 2.4 0a1.2 1.2 0 1 0 -2.4 0M194.9 422.1a1.2 1.2 0 1 0 2.4 0a1.2 1.2 0 1 0 -2.4 0M433.8 298.4a1.2 1.2 0 1 0 2.4 0a1.2 1.2 0 1 0 -2.4 0M191.1 421.7a1.2 1.2 0 1 0 2.4 0a1.2 1.2 0 1 0 -2.4 0M121.2 429.0a1.2 1.2 0 1 0 2.4 0a1.2 1.2 0 1 0 -2.4 0M254.4 363.1a1.2 1.2 0 1 0 2.4 0a1.2 1.2 0 1 0 -2.4 0M177.0 412.4a1.2 1.2 0 1 0 2.4 0a1.2 1.2 0 1 0 -2.4 0M391.4 299.7a1.2 1.2 0 1 0 2.4 0a1.2 1.2 0 1 0 -2.4 0M350.8 290.8a1.2 1.2 0 1 0 2.4 0a1.2 1.2 0 1 0 -2.4 0M491.5 329.2a1.2 1.2 0 1 0 2.4 0a1.2 1.2 0 1 0 -2.4 0M450.0 323.6a1.2 1.2 0 1 0 2.4 0a1.2 1.2 0 1 0 -2.4 0M217.6 428.2a1.2 1.2 0 1 0 2.4 0a1.2 1.2 0 1 0 -2.4 0M454.1 247.4a1.2 1.2 0 1 0 2.4 0a1.2 1.2 0 1 0 -2.4 0M195.0 427.5a1.2 1.2 0 1 0 2.4 0a1.2 1.2 0 1 0 -2.4 0M450.9 351.5a1.2 1.2 0 1 0 2.4 0a1.2 1.2 0 1 0 -2.4 0M149.0 408.4a1.2 1.2 0 1 0 2.4 0a1.2 1.2 0 1 0 -2.4 0M482.9 260.5a1.2 1.2 0 1 0 2.4 0a1.2 1.2 0 1 0 -2.4 0M327.7 291.1a1.2 1.2 0 1 0 2.4 0a1.2 1.2 0 1 0 -2.4 0M282.1 414.5a1.2 1.2 0 1 0 2.4 0a1.2 1.2 0 1 0 -2.4 0M258.9 368.7a1.2 1.2 0 1 0 2.4 0a1.2 1.2 0 1 0 -2.4 0M248.0 354.2a1.2 1.2 0 1 0 2.4 0a1.2 1.2 0 1 0 -2.4 0M154.2 427.8a1.2 1.2 0 1 0 2.4 0a1.2 1.2 0 1 0 -2.4 0M356.2 364.0a1.2 1.2 0 1 0 2.4 0a1.2 1.2 0 1 0 -2.4 0M238.8 383.6a1.2 1.2 0 1 0 2.4 0a1.2 1.2 0 1 0 -2.4 0M462.4 344.8a1.2 1.2 0 1 0 2.4 0a1.2 1.2 0 1 0 -2.4 0M139.9 414.4a1.2 1.2 0 1 0 2.4 0a1.2 1.2 0 1 0 -2.4 0M286.6 391.1a1.2 1.2 0 1 0 2.4 0a1.2 1.2 0 1 0 -2.4 0M336.6 368.0a1.2 1.2 0 1 0 2.4 0a1.2 1.2 0 1 0 -2.4 0M397.8 313.9a1.2 1.2 0 1 0 2.4 0a1.2 1.2 0 1 0 -2.4 0M366.4 350.0a1.2 1.2 0 1 0 2.4 0a1.2 1.2 0 1 0 -2.4 0M268.9 428.1a1.2 1.2 0 1 0 2.4 0a1.2 1.2 0 1 0 -2.4 0M398.9 329.7a1.2 1.2 0 1 0 2.4 0a1.2 1.2 0 1 0 -2.4 0M389.7 332.0a1.2 1.2 0 1 0 2.4 0a1.2 1.2 0 1 0 -2.4 0M249.8 346.7a1.2 1.2 0 1 0 2.4 0a1.2 1.2 0 1 0 -2.4 0M269.6 376.1a1.2 1.2 0 1 0 2.4 0a1.2 1.2 0 1 0 -2.4 0M238.3 416.7a1.2 1.2 0 1 0 2.4 0a1.2 1.2 0 1 0 -2.4 0M418.5 330.9a1.2 1.2 0 1 0 2.4 0a1.2 1.2 0 1 0 -2.4 0M148.1 400.8a1.2 1.2 0 1 0 2.4 0a1.2 1.2 0 1 0 -2.4 0M434.7 356.9a1.2 1.2 0 1 0 2.4 0a1.2 1.2 0 1 0 -2.4 0M337.8 365.6a1.2 1.2 0 1 0 2.4 0a1.2 1.2 0 1 0 -2.4 0M245.3 362.8a1.2 1.2 0 1 0 2.4 0a1.2 1.2 0 1 0 -2.4 0M488.8 322.4a1.2 1.2 0 1 0 2.4 0a1.2 1.2 0 1 0 -2.4 0M495.3 218.8a1.2 1.2 0 1 0 2.4 0a1.2 1.2 0 1 0 -2.4 0M499.9 198.8a1.2 1.2 0 1 0 2.4 0a1.2 1.2 0 1 0 -2.4 0M296.2 343.1a1.2 1.2 0 1 0 2.4 0a1.2 1.2 0 1 0 -2.4 0M479.6 295.7a1.2 1.2 0 1 0 2.4 0a1.2 1.2 0 1 0 -2.4 0M91.0 423.0a1.2 1.2 0 1 0 2.4 0a1.2 1.2 0 1 0 -2.4 0M215.0 429.4a1.2 1.2 0 1 0 2.4 0a1.2 1.2 0 1 0 -2.4 0M283.0 363.3a1.2 1.2 0 1 0 2.4 0a1.2 1.2 0 1 0 -2.4 0M330.7 331.8a1.2 1.2 0 1 0 2.4 0a1.2 1.2 0 1 0 -2.4 0M315.7 369.7a1.2 1.2 0 1 0 2.4 0a1.2 1.2 0 1 0 -2.4 0M446.9 290.4a1.2 1.2 0 1 0 2.4 0a1.2 1.2 0 1 0 -2.4 0M409.4 285.6a1.2 1.2 0 1 0 2.4 0a1.2 1.2 0 1 0 -2.4 0M297.5 380.6a1.2 1.2 0 1 0 2.4 0a1.2 1.2 0 1 0 -2.4 0M498.5 268.2a1.2 1.2 0 1 0 2.4 0a1.2 1.2 0 1 0 -2.4 0M452.9 295.4a1.2 1.2 0 1 0 2.4 0a1.2 1.2 0 1 0 -2.4 0M257.5 428.9a1.2 1.2 0 1 0 2.4 0a1.2 1.2 0 1 0 -2.4 0M295.2 375.0a1.2 1.2 0 1 0 2.4 0a1.2 1.2 0 1 0 -2.4 0M511.7 289.8a1.2 1.2 0 1 0 2.4 0a1.2 1.2 0 1 0 -2.4 0M334.0 309.1a1.2 1.2 0 1 0 2.4 0a1.2 1.2 0 1 0 -2.4 0M116.6 411.2a1.2 1.2 0 1 0 2.4 0a1.2 1.2 0 1 0 -2.4 0M405.7 259.7a1.2 1.2 0 1 0 2.4 0a1.2 1.2 0 1 0 -2.4 0M172.8 388.7a1.2 1.2 0 1 0 2.4 0a1.2 1.2 0 1 0 -2.4 0M358.2 338.0a1.2 1.2 0 1 0 2.4 0a1.2 1.2 0 1 0 -2.4 0M476.1 274.0a1.2 1.2 0 1 0 2.4 0a1.2 1.2 0 1 0 -2.4 0M232.6 357.2a1.2 1.2 0 1 0 2.4 0a1.2 1.2 0 1 0 -2.4 0M370.6 350.3a1.2 1.2 0 1 0 2.4 0a1.2 1.2 0 1 0 -2.4 0M113.8 418.3a1.2 1.2 0 1 0 2.4 0a1.2 1.2 0 1 0 -2.4 0M268.5 343.7a1.2 1.2 0 1 0 2.4 0a1.2 1.2 0 1 0 -2.4 0M338.5 311.0a1.2 1.2 0 1 0 2.4 0a1.2 1.2 0 1 0 -2.4 0M207.9 427.0a1.2 1.2 0 1 0 2.4 0a1.2 1.2 0 1 0 -2.4 0M403.6 357.0a1.2 1.2 0 1 0 2.4 0a1.2 1.2 0 1 0 -2.4 0M223.9 420.3a1.2 1.2 0 1 0 2.4 0a1.2 1.2 0 1 0 -2.4 0M202.3 365.1a1.2 1.2 0 1 0 2.4 0a1.2 1.2 0 1 0 -2.4 0M383.7 305.6a1.2 1.2 0 1 0 2.4 0a1.2 1.2 0 1 0 -2.4 0M389.1 270.8a1.2 1.2 0 1 0 2.4 0a1.2 1.2 0 1 0 -2.4 0M503.2 205.1a1.2 1.2 0 1 0 2.4 0a1.2 1.2 0 1 0 -2.4 0M128.3 428.7a1.2 1.2 0 1 0 2.4 0a1.2 1.2 0 1 0 -2.4 0M441.6 355.2a1.2 1.2 0 1 0 2.4 0a1.2 1.2 0 1 0 -2.4 0M204.9 371.1a1.2 1.2 0 1 0 2.4 0a1.2 1.2 0 1 0 -2.4 0M473.3 297.7a1.2 1.2 0 1 0 2.4 0a1.2 1.2 0 1 0 -2.4 0M330.8 359.0a1.2 1.2 0 1 0 2.4 0a1.2 1.2 0 1 0 -2.4 0M343.6 356.7a1.2 1.2 0 1 0 2.4 0a1.2 1.2 0 1 0 -2.4 0M89.2 428.4a1.2 1.2 0 1 0 2.4 0a1.2 1.2 0 1 0 -2.4 0M328.5 318.0a1.2 1.2 0 1 0 2.4 0a1.2 1.2 0 1 0 -2.4 0M458.1 344.7a1.2 1.2 0 1 0 2.4 0a1.2 1.2 0 1 0 -2.4 0M510.7 309.0a1.2 1.2 0 1 0 2.4 0a1.2 1.2 0 1 0 -2.4 0M249.4 376.4a1.2 1.2 0 1 0 2.4 0a1.2 1.2 0 1 0 -2.4 0M158.8 422.8a1.2 1.2 0 1 0 2.4 0a1.2 1.2 0 1 0 -2.4 0M472.3 204.3a1.2 1.2 0 1 0 2.4 0a1.2 1.2 0 1 0 -2.4 0M263.8 369.9a1.2 1.2 0 1 0 2.4 0a1.2 1.2 0 1 0 -2.4 0M279.9 382.7a1.2 1.2 0 1 0 2.4 0a1.2 1.2 0 1 0 -2.4 0M287.1 389.2a1.2 1.2 0 1 0 2.4 0a1.2 1.2 0 1 0 -2.4 0M320.5 329.6a1.2 1.2 0 1 0 2.4 0a1.2 1.2 0 1 0 -2.4 0M113.0 427.7a1.2 1.2 0 1 0 2.4 0a1.2 1.2 0 1 0 -2.4 0M93.7 428.7a1.2 1.2 0 1 0 2.4 0a1.2 1.2 0 1 0 -2.4 0M414.1 327.3a1.2 1.2 0 1 0 2.4 0a1.2 1.2 0 1 0 -2.4 0M356.8 345.5a1.2 1.2 0 1 0 2.4 0a1.2 1.2 0 1 0 -2.4 0M255.2 406.5a1.2 1.2 0 1 0 2.4 0a1.2 1.2 0 1 0 -2.4 0M366.1 300.0a1.2 1.2 0 1 0 2.4 0a1.2 1.2 0 1 0 -2.4 0M390.9 319.9a1.2 1.2 0 1 0 2.4 0a1.2 1.2 0 1 0 -2.4 0M211.2 403.2a1.2 1.2 0 1 0 2.4 0a1.2 1.2 0 1 0 -2.4 0M254.2 411.8a1.2 1.2 0 1 0 2.4 0a1.2 1.2 0 1 0 -2.4 0M192.6 407.3a1.2 1.2 0 1 0 2.4 0a1.2 1.2 0 1 0 -2.4 0M146.1 428.1a1.2 1.2 0 1 0 2.4 0a1.2 1.2 0 1 0 -2.4 0M339.4 372.9a1.2 1.2 0 1 0 2.4 0a1.2 1.2 0 1 0 -2.4 0M401.5 291.8a1.2 1.2 0 1 0 2.4 0a1.2 1.2 0 1 0 -2.4 0M346.2 293.3a1.2 1.2 0 1 0 2.4 0a1.2 1.2 0 1 0 -2.4 0M196.0 400.7a1.2 1.2 0 1 0 2.4 0a1.2 1.2 0 1 0 -2.4 0M360.5 308.5a1.2 1.2 0 1 0 2.4 0a1.2 1.2 0 1 0 -2.4 0M262.4 402.1a1.2 1.2 0 1 0 2.4 0a1.2 1.2 0 1 0 -2.4 0M277.5 387.5a1.2 1.2 0 1 0 2.4 0a1.2 1.2 0 1 0 -2.4 0M92.8 426.7a1.2 1.2 0 1 0 2.4 0a1.2 1.2 0 1 0 -2.4 0M419.1 277.6a1.2 1.2 0 1 0 2.4 0a1.2 1.2 0 1 0 -2.4 0M469.6 275.4a1.2 1.2 0 1 0 2.4 0a1.2 1.2 0 1 0 -2.4 0M211.5 394.4a1.2 1.2 0 1 0 2.4 0a1.2 1.2 0 1 0 -2.4 0M241.4 395.8a1.2 1.2 0 1 0 2.4 0a1.2 1.2 0 1 0 -2.4 0M296.6 401.5a1.2 1.2 0 1 0 2.4 0a1.2 1.2 0 1 0 -2.4 0M256.7 399.0a1.2 1.2 0 1 0 2.4 0a1.2 1.2 0 1 0 -2.4 0M244.6 362.0a1.2 1.2 0 1 0 2.4 0a1.2 1.2 0 1 0 -2.4 0M405.1 296.8a1.2 1.2 0 1 0 2.4 0a1.2 1.2 0 1 0 -2.4 0M365.7 289.1a1.2 1.2 0 1 0 2.4 0a1.2 1.2 0 1 0 -2.4 0M223.9 428.9a1.2 1.2 0 1 0 2.4 0a1.2 1.2 0 1 0 -2.4 0M357.6 326.4a1.2 1.2 0 1 0 2.4 0a1.2 1.2 0 1 0 -2.4 0M378.4 348.0a1.2 1.2 0 1 0 2.4 0a1.2 1.2 0 1 0 -2.4 0M274.7 331.0a1.2 1.2 0 1 0 2.4 0a1.2 1.2 0 1 0 -2.4 0M198.3 408.9a1.2 1.2 0 1 0 2.4 0a1.2 1.2 0 1 0 -2.4 0M454.9 318.3a1.2 1.2 0 1 0 2.4 0a1.2 1.2 0 1 0 -2.4 0M89.6 428.6a1.2 1.2 0 1 0 2.4 0a1.2 1.2 0 1 0 -2.4 0M393.7 292.7a1.2 1.2 0 1 0 2.4 0a1.2 1.2 0 1 0 -2.4 0M431.9 327.1a1.2 1.2 0 1 0 2.4 0a1.2 1.2 0 1 0 -2.4 0M177.1 384.7a1.2 1.2 0 1 0 2.4 0a1.2 1.2 0 1 0 -2.4 0M505.7 194.2a1.2 1.2 0 1 0 2.4 0a1.2 1.2 0 1 0 -2.4 0M215.7 401.2a1.2 1.2 0 1 0 2.4 0a1.2 1.2 0 1 0 -2.4 0M349.3 303.2a1.2 1.2 0 1 0 2.4 0a1.2 1.2 0 1 0 -2.4 0M263.5 356.1a1.2 1.2 0 1 0 2.4 0a1.2 1.2 0 1 0 -2.4 0M275.1 422.9a1.2 1.2 0 1 0 2.4 0a1.2 1.2 0 1 0 -2.4 0M407.9 294.0a1.2 1.2 0 1 0 2.4 0a1.2 1.2 0 1 0 -2.4 0M319.5 374.4a1.2 1.2 0 1 0 2.4 0a1.2 1.2 0 1 0 -2.4 0M403.1 300.9a1.2 1.2 0 1 0 2.4 0a1.2 1.2 0 1 0 -2.4 0M325.5 359.5a1.2 1.2 0 1 0 2.4 0a1.2 1.2 0 1 0 -2.4 0M218.4 405.4a1.2 1.2 0 1 0 2.4 0a1.2 1.2 0 1 0 -2.4 0M341.6 362.8a1.2 1.2 0 1 0 2.4 0a1.2 1.2 0 1 0 -2.4 0M403.5 272.8a1.2 1.2 0 1 0 2.4 0a1.2 1.2 0 1 0 -2.4 0M157.7 390.2a1.2 1.2 0 1 0 2.4 0a1.2 1.2 0 1 0 -2.4 0M237.5 414.8a1.2 1.2 0 1 0 2.4 0a1.2 1.2 0 1 0 -2.4 0M328.5 317.5a1.2 1.2 0 1 0 2.4 0a1.2 1.2 0 1 0 -2.4 0M108.1 429.5a1.2 1.2 0 1 0 2.4 0a1.2 1.2 0 1 0 -2.4 0M478.2 338.1a1.2 1.2 0 1 0 2.4 0a1.2 1.2 0 1 0 -2.4 0M400.6 341.5a1.2 1.2 0 1 0 2.4 0a1.2 1.2 0 1 0 -2.4 0M266.0 351.3a1.2 1.2 0 1 0 2.4 0a1.2 1.2 0 1 0 -2.4 0M151.9 395.7a1.2 1.2 0 1 0 2.4 0a1.2 1.2 0 1 0 -2.4 0M113.9 427.9a1.2 1.2 0 1 0 2.4 0a1.2 1.2 0 1 0 -2.4 0M402.2 276.2a1.2 1.2 0 1 0 2.4 0a1.2 1.2 0 1 0 -2.4 0M328.6 339.6a1.2 1.2 0 1 0 2.4 0a1.2 1.2 0 1 0 -2.4 0M264.1 374.4a1.2 1.2 0 1 0 2.4 0a1.2 1.2 0 1 0 -2.4 0M221.0 407.9a1.2 1.2 0 1 0 2.4 0a1.2 1.2 0 1 0 -2.4 0M110.3 416.2a1.2 1.2 0 1 0 2.4 0a1.2 1.2 0 1 0 -2.4 0M410.4 295.1a1.2 1.2 0 1 0 2.4 0a1.2 1.2 0 1 0 -2.4 0M177.0 416.6a1.2 1.2 0 1 0 2.4 0a1.2 1.2 0 1 0 -2.4 0M201.3 422.8a1.2 1.2 0 1 0 2.4 0a1.2 1.2 0 1 0 -2.4 0M186.4 421.7a1.2 1.2 0 1 0 2.4 0a1.2 1.2 0 1 0 -2.4 0M328.5 374.4a1.2 1.2 0 1 0 2.4 0a1.2 1.2 0 1 0 -2.4 0M210.9 386.6a1.2 1.2 0 1 0 2.4 0a1.2 1.2 0 1 0 -2.4 0M133.5 409.4a1.2 1.2 0 1 0 2.4 0a1.2 1.2 0 1 0 -2.4 0M459.1 330.5a1.2 1.2 0 1 0 2.4 0a1.2 1.2 0 1 0 -2.4 0M161.0 414.5a1.2 1.2 0 1 0 2.4 0a1.2 1.2 0 1 0 -2.4 0M179.2 414.8a1.2 1.2 0 1 0 2.4 0a1.2 1.2 0 1 0 -2.4 0M402.7 322.9a1.2 1.2 0 1 0 2.4 0a1.2 1.2 0 1 0 -2.4 0M282.9 350.4a1.2 1.2 0 1 0 2.4 0a1.2 1.2 0 1 0 -2.4 0M485.5 281.1a1.2 1.2 0 1 0 2.4 0a1.2 1.2 0 1 0 -2.4 0M468.4 330.0a1.2 1.2 0 1 0 2.4 0a1.2 1.2 0 1 0 -2.4 0M326.2 327.8a1.2 1.2 0 1 0 2.4 0a1.2 1.2 0 1 0 -2.4 0M218.4 410.8a1.2 1.2 0 1 0 2.4 0a1.2 1.2 0 1 0 -2.4 0M370.0 322.7a1.2 1.2 0 1 0 2.4 0a1.2 1.2 0 1 0 -2.4 0M213.8 425.7a1.2 1.2 0 1 0 2.4 0a1.2 1.2 0 1 0 -2.4 0M305.7 332.7a1.2 1.2 0 1 0 2.4 0a1.2 1.2 0 1 0 -2.4 0M139.3 407.1a1.2 1.2 0 1 0 2.4 0a1.2 1.2 0 1 0 -2.4 0M326.3 375.0a1.2 1.2 0 1 0 2.4 0a1.2 1.2 0 1 0 -2.4 0M488.5 303.2a1.2 1.2 0 1 0 2.4 0a1.2 1.2 0 1 0 -2.4 0M352.4 349.0a1.2 1.2 0 1 0 2.4 0a1.2 1.2 0 1 0 -2.4 0M209.5 379.4a1.2 1.2 0 1 0 2.4 0a1.2 1.2 0 1 0 -2.4 0M136.5 401.6a1.2 1.2 0 1 0 2.4 0a1.2 1.2 0 1 0 -2.4 0M342.0 371.3a1.2 1.2 0 1 0 2.4 0a1.2 1.2 0 1 0 -2.4 0M322.2 347.6a1.2 1.2 0 1 0 2.4 0a1.2 1.2 0 1 0 -2.4 0M409.0 299.3a1.2 1.2 0 1 0 2.4 0a1.2 1.2 0 1 0 -2.4 0M88.0 428.5a1.2 1.2 0 1 0 2.4 0a1.2 1.2 0 1 0 -2.4 0M152.0 415.8a1.2 1.2 0 1 0 2.4 0a1.2 1.2 0 1 0 -2.4 0M349.3 367.9a1.2 1.2 0 1 0 2.4 0a1.2 1.2 0 1 0 -2.4 0M332.0 352.4a1.2 1.2 0 1 0 2.4 0a1.2 1.2 0 1 0 -2.4 0M386.5 316.5a1.2 1.2 0 1 0 2.4 0a1.2 1.2 0 1 0 -2.4 0M468.1 236.3a1.2 1.2 0 1 0 2.4 0a1.2 1.2 0 1 0 -2.4 0M414.5 292.4a1.2 1.2 0 1 0 2.4 0a1.2 1.2 0 1 0 -2.4 0M347.4 344.1a1.2 1.2 0 1 0 2.4 0a1.2 1.2 0 1 0 -2.4 0M510.8 245.8a1.2 1.2 0 1 0 2.4 0a1.2 1.2 0 1 0 -2.4 0M230.7 386.4a1.2 1.2 0 1 0 2.4 0a1.2 1.2 0 1 0 -2.4 0M189.8 411.4a1.2 1.2 0 1 0 2.4 0a1.2 1.2 0 1 0 -2.4 0M201.6 416.4a1.2 1.2 0 1 0 2.4 0a1.2 1.2 0 1 0 -2.4 0M354.9 339.0a1.2 1.2 0 1 0 2.4 0a1.2 1.2 0 1 0 -2.4 0M138.1 413.2a1.2 1.2 0 1 0 2.4 0a1.2 1.2 0 1 0 -2.4 0M440.5 273.3a1.2 1.2 0 1 0 2.4 0a1.2 1.2 0 1 0 -2.4 0M442.5 350.5a1.2 1.2 0 1 0 2.4 0a1.2 1.2 0 1 0 -2.4 0M194.3 413.1a1.2 1.2 0 1 0 2.4 0a1.2 1.2 0 1 0 -2.4 0M125.2 428.3a1.2 1.2 0 1 0 2.4 0a1.2 1.2 0 1 0 -2.4 0M354.5 319.5a1.2 1.2 0 1 0 2.4 0a1.2 1.2 0 1 0 -2.4 0M174.1 426.0a1.2 1.2 0 1 0 2.4 0a1.2 1.2 0 1 0 -2.4 0M335.8 298.6a1.2 1.2 0 1 0 2.4 0a1.2 1.2 0 1 0 -2.4 0M253.7 421.7a1.2 1.2 0 1 0 2.4 0a1.2 1.2 0 1 0 -2.4 0M453.9 292.4a1.2 1.2 0 1 0 2.4 0a1.2 1.2 0 1 0 -2.4 0M220.0 404.5a1.2 1.2 0 1 0 2.4 0a1.2 1.2 0 1 0 -2.4 0M308.7 381.2a1.2 1.2 0 1 0 2.4 0a1.2 1.2 0 1 0 -2.4 0M122.2 427.8a1.2 1.2 0 1 0 2.4 0a1.2 1.2 0 1 0 -2.4 0M242.5 346.4a1.2 1.2 0 1 0 2.4 0a1.2 1.2 0 1 0 -2.4 0M471.9 333.6a1.2 1.2 0 1 0 2.4 0a1.2 1.2 0 1 0 -2.4 0M149.1 404.3a1.2 1.2 0 1 0 2.4 0a1.2 1.2 0 1 0 -2.4 0M408.0 300.8a1.2 1.2 0 1 0 2.4 0a1.2 1.2 0 1 0 -2.4 0M279.1 372.3a1.2 1.2 0 1 0 2.4 0a1.2 1.2 0 1 0 -2.4 0M327.7 375.1a1.2 1.2 0 1 0 2.4 0a1.2 1.2 0 1 0 -2.4 0M468.4 342.4a1.2 1.2 0 1 0 2.4 0a1.2 1.2 0 1 0 -2.4 0M471.2 217.8a1.2 1.2 0 1 0 2.4 0a1.2 1.2 0 1 0 -2.4 0M272.9 411.2a1.2 1.2 0 1 0 2.4 0a1.2 1.2 0 1 0 -2.4 0M510.7 301.3a1.2 1.2 0 1 0 2.4 0a1.2 1.2 0 1 0 -2.4 0M208.4 429.3a1.2 1.2 0 1 0 2.4 0a1.2 1.2 0 1 0 -2.4 0M182.2 384.5a1.2 1.2 0 1 0 2.4 0a1.2 1.2 0 1 0 -2.4 0M349.8 363.4a1.2 1.2 0 1 0 2.4 0a1.2 1.2 0 1 0 -2.4 0M338.8 344.7a1.2 1.2 0 1 0 2.4 0a1.2 1.2 0 1 0 -2.4 0M309.1 348.3a1.2 1.2 0 1 0 2.4 0a1.2 1.2 0 1 0 -2.4 0M218.0 417.8a1.2 1.2 0 1 0 2.4 0a1.2 1.2 0 1 0 -2.4 0M320.0 354.2a1.2 1.2 0 1 0 2.4 0a1.2 1.2 0 1 0 -2.4 0M444.7 353.0a1.2 1.2 0 1 0 2.4 0a1.2 1.2 0 1 0 -2.4 0M351.3 365.1a1.2 1.2 0 1 0 2.4 0a1.2 1.2 0 1 0 -2.4 0M220.7 421.5a1.2 1.2 0 1 0 2.4 0a1.2 1.2 0 1 0 -2.4 0M332.0 377.0a1.2 1.2 0 1 0 2.4 0a1.2 1.2 0 1 0 -2.4 0M461.0 236.6a1.2 1.2 0 1 0 2.4 0a1.2 1.2 0 1 0 -2.4 0M129.6 429.5a1.2 1.2 0 1 0 2.4 0a1.2 1.2 0 1 0 -2.4 0M170.8 386.2a1.2 1.2 0 1 0 2.4 0a1.2 1.2 0 1 0 -2.4 0M227.7 416.9a1.2 1.2 0 1 0 2.4 0a1.2 1.2 0 1 0 -2.4 0M282.4 404.6a1.2 1.2 0 1 0 2.4 0a1.2 1.2 0 1 0 -2.4 0M239.8 428.5a1.2 1.2 0 1 0 2.4 0a1.2 1.2 0 1 0 -2.4 0M448.7 352.0a1.2 1.2 0 1 0 2.4 0a1.2 1.2 0 1 0 -2.4 0M319.6 307.6a1.2 1.2 0 1 0 2.4 0a1.2 1.2 0 1 0 -2.4 0M119.8 413.3a1.2 1.2 0 1 0 2.4 0a1.2 1.2 0 1 0 -2.4 0M199.3 410.7a1.2 1.2 0 1 0 2.4 0a1.2 1.2 0 1 0 -2.4 0M303.3 348.5a1.2 1.2 0 1 0 2.4 0a1.2 1.2 0 1 0 -2.4 0M410.6 266.9a1.2 1.2 0 1 0 2.4 0a1.2 1.2 0 1 0 -2.4 0M355.1 340.8a1.2 1.2 0 1 0 2.4 0a1.2 1.2 0 1 0 -2.4 0M511.7 215.5a1.2 1.2 0 1 0 2.4 0a1.2 1.2 0 1 0 -2.4 0M351.3 347.7a1.2 1.2 0 1 0 2.4 0a1.2 1.2 0 1 0 -2.4 0M495.9 274.8a1.2 1.2 0 1 0 2.4 0a1.2 1.2 0 1 0 -2.4 0M277.9 395.2a1.2 1.2 0 1 0 2.4 0a1.2 1.2 0 1 0 -2.4 0M155.8 427.6a1.2 1.2 0 1 0 2.4 0a1.2 1.2 0 1 0 -2.4 0M185.1 411.5a1.2 1.2 0 1 0 2.4 0a1.2 1.2 0 1 0 -2.4 0M258.8 370.4a1.2 1.2 0 1 0 2.4 0a1.2 1.2 0 1 0 -2.4 0M140.3 424.0a1.2 1.2 0 1 0 2.4 0a1.2 1.2 0 1 0 -2.4 0M289.7 369.9a1.2 1.2 0 1 0 2.4 0a1.2 1.2 0 1 0 -2.4 0M500.5 251.8a1.2 1.2 0 1 0 2.4 0a1.2 1.2 0 1 0 -2.4 0M461.4 313.9a1.2 1.2 0 1 0 2.4 0a1.2 1.2 0 1 0 -2.4 0M341.3 367.0a1.2 1.2 0 1 0 2.4 0a1.2 1.2 0 1 0 -2.4 0M486.4 262.9a1.2 1.2 0 1 0 2.4 0a1.2 1.2 0 1 0 -2.4 0M355.0 352.4a1.2 1.2 0 1 0 2.4 0a1.2 1.2 0 1 0 -2.4 0M121.6 428.4a1.2 1.2 0 1 0 2.4 0a1.2 1.2 0 1 0 -2.4 0M366.1 321.3a1.2 1.2 0 1 0 2.4 0a1.2 1.2 0 1 0 -2.4 0M337.9 360.6a1.2 1.2 0 1 0 2.4 0a1.2 1.2 0 1 0 -2.4 0M362.3 289.9a1.2 1.2 0 1 0 2.4 0a1.2 1.2 0 1 0 -2.4 0M197.7 429.1a1.2 1.2 0 1 0 2.4 0a1.2 1.2 0 1 0 -2.4 0M399.4 264.2a1.2 1.2 0 1 0 2.4 0a1.2 1.2 0 1 0 -2.4 0M314.6 352.8a1.2 1.2 0 1 0 2.4 0a1.2 1.2 0 1 0 -2.4 0M499.2 281.0a1.2 1.2 0 1 0 2.4 0a1.2 1.2 0 1 0 -2.4 0M311.1 366.8a1.2 1.2 0 1 0 2.4 0a1.2 1.2 0 1 0 -2.4 0M450.6 301.4a1.2 1.2 0 1 0 2.4 0a1.2 1.2 0 1 0 -2.4 0M158.4 426.1a1.2 1.2 0 1 0 2.4 0a1.2 1.2 0 1 0 -2.4 0M416.1 324.2a1.2 1.2 0 1 0 2.4 0a1.2 1.2 0 1 0 -2.4 0M485.4 303.0a1.2 1.2 0 1 0 2.4 0a1.2 1.2 0 1 0 -2.4 0M401.6 272.3a1.2 1.2 0 1 0 2.4 0a1.2 1.2 0 1 0 -2.4 0M365.6 330.4a1.2 1.2 0 1 0 2.4 0a1.2 1.2 0 1 0 -2.4 0M179.4 429.0a1.2 1.2 0 1 0 2.4 0a1.2 1.2 0 1 0 -2.4 0M482.8 264.6a1.2 1.2 0 1 0 2.4 0a1.2 1.2 0 1 0 -2.4 0M122.3 427.6a1.2 1.2 0 1 0 2.4 0a1.2 1.2 0 1 0 -2.4 0M243.0 382.5a1.2 1.2 0 1 0 2.4 0a1.2 1.2 0 1 0 -2.4 0M111.0 428.3a1.2 1.2 0 1 0 2.4 0a1.2 1.2 0 1 0 -2.4 0M286.3 383.7a1.2 1.2 0 1 0 2.4 0a1.2 1.2 0 1 0 -2.4 0M401.2 317.3a1.2 1.2 0 1 0 2.4 0a1.2 1.2 0 1 0 -2.4 0M301.1 349.2a1.2 1.2 0 1 0 2.4 0a1.2 1.2 0 1 0 -2.4 0M186.9 383.7a1.2 1.2 0 1 0 2.4 0a1.2 1.2 0 1 0 -2.4 0M356.0 352.3a1.2 1.2 0 1 0 2.4 0a1.2 1.2 0 1 0 -2.4 0M401.8 313.9a1.2 1.2 0 1 0 2.4 0a1.2 1.2 0 1 0 -2.4 0M195.3 378.8a1.2 1.2 0 1 0 2.4 0a1.2 1.2 0 1 0 -2.4 0M227.1 361.6a1.2 1.2 0 1 0 2.4 0a1.2 1.2 0 1 0 -2.4 0M175.1 404.3a1.2 1.2 0 1 0 2.4 0a1.2 1.2 0 1 0 -2.4 0M280.4 403.6a1.2 1.2 0 1 0 2.4 0a1.2 1.2 0 1 0 -2.4 0M112.3 419.0a1.2 1.2 0 1 0 2.4 0a1.2 1.2 0 1 0 -2.4 0M264.8 357.4a1.2 1.2 0 1 0 2.4 0a1.2 1.2 0 1 0 -2.4 0M123.2 417.2a1.2 1.2 0 1 0 2.4 0a1.2 1.2 0 1 0 -2.4 0M198.2 405.3a1.2 1.2 0 1 0 2.4 0a1.2 1.2 0 1 0 -2.4 0M509.5 237.4a1.2 1.2 0 1 0 2.4 0a1.2 1.2 0 1 0 -2.4 0M116.7 428.6a1.2 1.2 0 1 0 2.4 0a1.2 1.2 0 1 0 -2.4 0M212.9 372.2a1.2 1.2 0 1 0 2.4 0a1.2 1.2 0 1 0 -2.4 0M249.3 429.3a1.2 1.2 0 1 0 2.4 0a1.2 1.2 0 1 0 -2.4 0M441.1 273.6a1.2 1.2 0 1 0 2.4 0a1.2 1.2 0 1 0 -2.4 0M135.6 407.5a1.2 1.2 0 1 0 2.4 0a1.2 1.2 0 1 0 -2.4 0M482.5 239.8a1.2 1.2 0 1 0 2.4 0a1.2 1.2 0 1 0 -2.4 0M394.7 354.7a1.2 1.2 0 1 0 2.4 0a1.2 1.2 0 1 0 -2.4 0M470.1 237.4a1.2 1.2 0 1 0 2.4 0a1.2 1.2 0 1 0 -2.4 0M436.4 259.6a1.2 1.2 0 1 0 2.4 0a1.2 1.2 0 1 0 -2.4 0M337.6 316.1a1.2 1.2 0 1 0 2.4 0a1.2 1.2 0 1 0 -2.4 0M109.8 429.1a1.2 1.2 0 1 0 2.4 0a1.2 1.2 0 1 0 -2.4 0M472.2 290.5a1.2 1.2 0 1 0 2.4 0a1.2 1.2 0 1 0 -2.4 0M335.8 375.0a1.2 1.2 0 1 0 2.4 0a1.2 1.2 0 1 0 -2.4 0M159.4 409.5a1.2 1.2 0 1 0 2.4 0a1.2 1.2 0 1 0 -2.4 0M493.2 324.4a1.2 1.2 0 1 0 2.4 0a1.2 1.2 0 1 0 -2.4 0M157.0 420.5a1.2 1.2 0 1 0 2.4 0a1.2 1.2 0 1 0 -2.4 0M345.2 351.2a1.2 1.2 0 1 0 2.4 0a1.2 1.2 0 1 0 -2.4 0M401.6 313.9a1.2 1.2 0 1 0 2.4 0a1.2 1.2 0 1 0 -2.4 0M255.1 375.6a1.2 1.2 0 1 0 2.4 0a1.2 1.2 0 1 0 -2.4 0M278.4 367.4a1.2 1.2 0 1 0 2.4 0a1.2 1.2 0 1 0 -2.4 0M282.2 390.8a1.2 1.2 0 1 0 2.4 0a1.2 1.2 0 1 0 -2.4 0M291.3 406.1a1.2 1.2 0 1 0 2.4 0a1.2 1.2 0 1 0 -2.4 0M94.7 426.1a1.2 1.2 0 1 0 2.4 0a1.2 1.2 0 1 0 -2.4 0M485.5 324.3a1.2 1.2 0 1 0 2.4 0a1.2 1.2 0 1 0 -2.4 0M333.3 307.0a1.2 1.2 0 1 0 2.4 0a1.2 1.2 0 1 0 -2.4 0M388.1 354.6a1.2 1.2 0 1 0 2.4 0a1.2 1.2 0 1 0 -2.4 0M369.6 324.5a1.2 1.2 0 1 0 2.4 0a1.2 1.2 0 1 0 -2.4 0M494.9 283.3a1.2 1.2 0 1 0 2.4 0a1.2 1.2 0 1 0 -2.4 0M323.1 335.8a1.2 1.2 0 1 0 2.4 0a1.2 1.2 0 1 0 -2.4 0M237.5 410.3a1.2 1.2 0 1 0 2.4 0a1.2 1.2 0 1 0 -2.4 0M408.0 347.4a1.2 1.2 0 1 0 2.4 0a1.2 1.2 0 1 0 -2.4 0M164.7 422.8a1.2 1.2 0 1 0 2.4 0a1.2 1.2 0 1 0 -2.4 0M340.4 348.7a1.2 1.2 0 1 0 2.4 0a1.2 1.2 0 1 0 -2.4 0M402.0 282.3a1.2 1.2 0 1 0 2.4 0a1.2 1.2 0 1 0 -2.4 0M329.8 299.2a1.2 1.2 0 1 0 2.4 0a1.2 1.2 0 1 0 -2.4 0M445.6 271.4a1.2 1.2 0 1 0 2.4 0a1.2 1.2 0 1 0 -2.4 0M148.3 418.2a1.2 1.2 0 1 0 2.4 0a1.2 1.2 0 1 0 -2.4 0M434.3 357.0a1.2 1.2 0 1 0 2.4 0a1.2 1.2 0 1 0 -2.4 0M488.8 331.2a1.2 1.2 0 1 0 2.4 0a1.2 1.2 0 1 0 -2.4 0M449.3 330.4a1.2 1.2 0 1 0 2.4 0a1.2 1.2 0 1 0 -2.4 0M152.4 427.6a1.2 1.2 0 1 0 2.4 0a1.2 1.2 0 1 0 -2.4 0M341.3 308.1a1.2 1.2 0 1 0 2.4 0a1.2 1.2 0 1 0 -2.4 0M197.9 412.5a1.2 1.2 0 1 0 2.4 0a1.2 1.2 0 1 0 -2.4 0M386.0 271.7a1.2 1.2 0 1 0 2.4 0a1.2 1.2 0 1 0 -2.4 0M221.7 428.1a1.2 1.2 0 1 0 2.4 0a1.2 1.2 0 1 0 -2.4 0M393.7 278.0a1.2 1.2 0 1 0 2.4 0a1.2 1.2 0 1 0 -2.4 0M253.5 345.0a1.2 1.2 0 1 0 2.4 0a1.2 1.2 0 1 0 -2.4 0M289.8 401.6a1.2 1.2 0 1 0 2.4 0a1.2 1.2 0 1 0 -2.4 0M475.3 288.0a1.2 1.2 0 1 0 2.4 0a1.2 1.2 0 1 0 -2.4 0M256.8 335.3a1.2 1.2 0 1 0 2.4 0a1.2 1.2 0 1 0 -2.4 0M109.6 428.2a1.2 1.2 0 1 0 2.4 0a1.2 1.2 0 1 0 -2.4 0M497.1 245.2a1.2 1.2 0 1 0 2.4 0a1.2 1.2 0 1 0 -2.4 0M157.5 428.6a1.2 1.2 0 1 0 2.4 0a1.2 1.2 0 1 0 -2.4 0M211.5 413.8a1.2 1.2 0 1 0 2.4 0a1.2 1.2 0 1 0 -2.4 0M413.2 268.6a1.2 1.2 0 1 0 2.4 0a1.2 1.2 0 1 0 -2.4 0M410.2 357.2a1.2 1.2 0 1 0 2.4 0a1.2 1.2 0 1 0 -2.4 0M296.9 375.0a1.2 1.2 0 1 0 2.4 0a1.2 1.2 0 1 0 -2.4 0M372.4 361.1a1.2 1.2 0 1 0 2.4 0a1.2 1.2 0 1 0 -2.4 0M230.5 378.7a1.2 1.2 0 1 0 2.4 0a1.2 1.2 0 1 0 -2.4 0M216.4 396.0a1.2 1.2 0 1 0 2.4 0a1.2 1.2 0 1 0 -2.4 0M494.2 293.5a1.2 1.2 0 1 0 2.4 0a1.2 1.2 0 1 0 -2.4 0M468.3 199.7a1.2 1.2 0 1 0 2.4 0a1.2 1.2 0 1 0 -2.4 0M359.4 321.2a1.2 1.2 0 1 0 2.4 0a1.2 1.2 0 1 0 -2.4 0M235.8 428.0a1.2 1.2 0 1 0 2.4 0a1.2 1.2 0 1 0 -2.4 0M129.8 426.1a1.2 1.2 0 1 0 2.4 0a1.2 1.2 0 1 0 -2.4 0M203.8 416.0a1.2 1.2 0 1 0 2.4 0a1.2 1.2 0 1 0 -2.4 0M400.3 321.2a1.2 1.2 0 1 0 2.4 0a1.2 1.2 0 1 0 -2.4 0M197.3 403.5a1.2 1.2 0 1 0 2.4 0a1.2 1.2 0 1 0 -2.4 0M197.2 408.6a1.2 1.2 0 1 0 2.4 0a1.2 1.2 0 1 0 -2.4 0M312.0 355.7a1.2 1.2 0 1 0 2.4 0a1.2 1.2 0 1 0 -2.4 0M415.0 310.2a1.2 1.2 0 1 0 2.4 0a1.2 1.2 0 1 0 -2.4 0M505.4 283.0a1.2 1.2 0 1 0 2.4 0a1.2 1.2 0 1 0 -2.4 0M496.4 243.8a1.2 1.2 0 1 0 2.4 0a1.2 1.2 0 1 0 -2.4 0M330.0 292.1a1.2 1.2 0 1 0 2.4 0a1.2 1.2 0 1 0 -2.4 0M362.4 353.1a1.2 1.2 0 1 0 2.4 0a1.2 1.2 0 1 0 -2.4 0M229.3 377.2a1.2 1.2 0 1 0 2.4 0a1.2 1.2 0 1 0 -2.4 0M150.7 416.9a1.2 1.2 0 1 0 2.4 0a1.2 1.2 0 1 0 -2.4 0M355.3 296.4a1.2 1.2 0 1 0 2.4 0a1.2 1.2 0 1 0 -2.4 0M152.7 418.9a1.2 1.2 0 1 0 2.4 0a1.2 1.2 0 1 0 -2.4 0M466.5 212.3a1.2 1.2 0 1 0 2.4 0a1.2 1.2 0 1 0 -2.4 0M150.1 428.9a1.2 1.2 0 1 0 2.4 0a1.2 1.2 0 1 0 -2.4 0M371.8 287.6a1.2 1.2 0 1 0 2.4 0a1.2 1.2 0 1 0 -2.4 0M110.2 415.7a1.2 1.2 0 1 0 2.4 0a1.2 1.2 0 1 0 -2.4 0M380.0 281.7a1.2 1.2 0 1 0 2.4 0a1.2 1.2 0 1 0 -2.4 0M171.4 417.5a1.2 1.2 0 1 0 2.4 0a1.2 1.2 0 1 0 -2.4 0M366.4 316.4a1.2 1.2 0 1 0 2.4 0a1.2 1.2 0 1 0 -2.4 0M445.0 266.8a1.2 1.2 0 1 0 2.4 0a1.2 1.2 0 1 0 -2.4 0M98.2 425.8a1.2 1.2 0 1 0 2.4 0a1.2 1.2 0 1 0 -2.4 0M234.9 384.7a1.2 1.2 0 1 0 2.4 0a1.2 1.2 0 1 0 -2.4 0M142.8 428.2a1.2 1.2 0 1 0 2.4 0a1.2 1.2 0 1 0 -2.4 0M202.1 371.5a1.2 1.2 0 1 0 2.4 0a1.2 1.2 0 1 0 -2.4 0M236.2 389.6a1.2 1.2 0 1 0 2.4 0a1.2 1.2 0 1 0 -2.4 0M501.0 262.3a1.2 1.2 0 1 0 2.4 0a1.2 1.2 0 1 0 -2.4 0M242.5 398.3a1.2 1.2 0 1 0 2.4 0a1.2 1.2 0 1 0 -2.4 0M381.4 307.2a1.2 1.2 0 1 0 2.4 0a1.2 1.2 0 1 0 -2.4 0M202.6 428.4a1.2 1.2 0 1 0 2.4 0a1.2 1.2 0 1 0 -2.4 0M192.6 418.0a1.2 1.2 0 1 0 2.4 0a1.2 1.2 0 1 0 -2.4 0M254.5 429.0a1.2 1.2 0 1 0 2.4 0a1.2 1.2 0 1 0 -2.4 0M349.3 356.7a1.2 1.2 0 1 0 2.4 0a1.2 1.2 0 1 0 -2.4 0M338.4 325.9a1.2 1.2 0 1 0 2.4 0a1.2 1.2 0 1 0 -2.4 0M164.8 416.8a1.2 1.2 0 1 0 2.4 0a1.2 1.2 0 1 0 -2.4 0M442.1 258.4a1.2 1.2 0 1 0 2.4 0a1.2 1.2 0 1 0 -2.4 0M325.1 330.8a1.2 1.2 0 1 0 2.4 0a1.2 1.2 0 1 0 -2.4 0M340.2 344.7a1.2 1.2 0 1 0 2.4 0a1.2 1.2 0 1 0 -2.4 0M397.7 277.2a1.2 1.2 0 1 0 2.4 0a1.2 1.2 0 1 0 -2.4 0M177.3 426.7a1.2 1.2 0 1 0 2.4 0a1.2 1.2 0 1 0 -2.4 0M492.4 329.7a1.2 1.2 0 1 0 2.4 0a1.2 1.2 0 1 0 -2.4 0M424.4 330.0a1.2 1.2 0 1 0 2.4 0a1.2 1.2 0 1 0 -2.4 0M426.2 346.2a1.2 1.2 0 1 0 2.4 0a1.2 1.2 0 1 0 -2.4 0M405.9 356.6a1.2 1.2 0 1 0 2.4 0a1.2 1.2 0 1 0 -2.4 0M174.5 417.3a1.2 1.2 0 1 0 2.4 0a1.2 1.2 0 1 0 -2.4 0M365.0 283.2a1.2 1.2 0 1 0 2.4 0a1.2 1.2 0 1 0 -2.4 0M191.0 428.9a1.2 1.2 0 1 0 2.4 0a1.2 1.2 0 1 0 -2.4 0M312.7 354.7a1.2 1.2 0 1 0 2.4 0a1.2 1.2 0 1 0 -2.4 0M466.9 246.0a1.2 1.2 0 1 0 2.4 0a1.2 1.2 0 1 0 -2.4 0M314.7 332.3a1.2 1.2 0 1 0 2.4 0a1.2 1.2 0 1 0 -2.4 0M115.4 427.8a1.2 1.2 0 1 0 2.4 0a1.2 1.2 0 1 0 -2.4 0M404.5 351.7a1.2 1.2 0 1 0 2.4 0a1.2 1.2 0 1 0 -2.4 0M502.5 210.0a1.2 1.2 0 1 0 2.4 0a1.2 1.2 0 1 0 -2.4 0M420.0 307.9a1.2 1.2 0 1 0 2.4 0a1.2 1.2 0 1 0 -2.4 0M370.4 359.9a1.2 1.2 0 1 0 2.4 0a1.2 1.2 0 1 0 -2.4 0M119.5 425.4a1.2 1.2 0 1 0 2.4 0a1.2 1.2 0 1 0 -2.4 0M208.7 379.5a1.2 1.2 0 1 0 2.4 0a1.2 1.2 0 1 0 -2.4 0M108.4 422.5a1.2 1.2 0 1 0 2.4 0a1.2 1.2 0 1 0 -2.4 0M261.3 375.5a1.2 1.2 0 1 0 2.4 0a1.2 1.2 0 1 0 -2.4 0M358.4 322.9a1.2 1.2 0 1 0 2.4 0a1.2 1.2 0 1 0 -2.4 0M436.8 263.6a1.2 1.2 0 1 0 2.4 0a1.2 1.2 0 1 0 -2.4 0M249.1 378.9a1.2 1.2 0 1 0 2.4 0a1.2 1.2 0 1 0 -2.4 0M245.9 416.3a1.2 1.2 0 1 0 2.4 0a1.2 1.2 0 1 0 -2.4 0M170.8 406.5a1.2 1.2 0 1 0 2.4 0a1.2 1.2 0 1 0 -2.4 0M381.4 281.5a1.2 1.2 0 1 0 2.4 0a1.2 1.2 0 1 0 -2.4 0M273.4 409.8a1.2 1.2 0 1 0 2.4 0a1.2 1.2 0 1 0 -2.4 0M332.9 327.5a1.2 1.2 0 1 0 2.4 0a1.2 1.2 0 1 0 -2.4 0M385.8 276.4a1.2 1.2 0 1 0 2.4 0a1.2 1.2 0 1 0 -2.4 0M257.7 348.1a1.2 1.2 0 1 0 2.4 0a1.2 1.2 0 1 0 -2.4 0M449.3 331.9a1.2 1.2 0 1 0 2.4 0a1.2 1.2 0 1 0 -2.4 0M292.0 351.0a1.2 1.2 0 1 0 2.4 0a1.2 1.2 0 1 0 -2.4 0M317.0 377.6a1.2 1.2 0 1 0 2.4 0a1.2 1.2 0 1 0 -2.4 0M434.8 351.5a1.2 1.2 0 1 0 2.4 0a1.2 1.2 0 1 0 -2.4 0M214.8 381.7a1.2 1.2 0 1 0 2.4 0a1.2 1.2 0 1 0 -2.4 0M399.0 269.3a1.2 1.2 0 1 0 2.4 0a1.2 1.2 0 1 0 -2.4 0M202.8 387.0a1.2 1.2 0 1 0 2.4 0a1.2 1.2 0 1 0 -2.4 0M411.6 336.7a1.2 1.2 0 1 0 2.4 0a1.2 1.2 0 1 0 -2.4 0M348.4 367.9a1.2 1.2 0 1 0 2.4 0a1.2 1.2 0 1 0 -2.4 0M494.7 261.0a1.2 1.2 0 1 0 2.4 0a1.2 1.2 0 1 0 -2.4 0M289.1 408.0a1.2 1.2 0 1 0 2.4 0a1.2 1.2 0 1 0 -2.4 0M397.1 286.8a1.2 1.2 0 1 0 2.4 0a1.2 1.2 0 1 0 -2.4 0M392.2 291.9a1.2 1.2 0 1 0 2.4 0a1.2 1.2 0 1 0 -2.4 0M317.8 306.2a1.2 1.2 0 1 0 2.4 0a1.2 1.2 0 1 0 -2.4 0M185.6 397.1a1.2 1.2 0 1 0 2.4 0a1.2 1.2 0 1 0 -2.4 0M428.7 249.3a1.2 1.2 0 1 0 2.4 0a1.2 1.2 0 1 0 -2.4 0M171.2 428.2a1.2 1.2 0 1 0 2.4 0a1.2 1.2 0 1 0 -2.4 0M302.1 387.0a1.2 1.2 0 1 0 2.4 0a1.2 1.2 0 1 0 -2.4 0M361.9 287.7a1.2 1.2 0 1 0 2.4 0a1.2 1.2 0 1 0 -2.4 0M328.8 378.7a1.2 1.2 0 1 0 2.4 0a1.2 1.2 0 1 0 -2.4 0M135.9 421.2a1.2 1.2 0 1 0 2.4 0a1.2 1.2 0 1 0 -2.4 0M475.8 248.6a1.2 1.2 0 1 0 2.4 0a1.2 1.2 0 1 0 -2.4 0M182.7 391.3a1.2 1.2 0 1 0 2.4 0a1.2 1.2 0 1 0 -2.4 0M331.8 346.6a1.2 1.2 0 1 0 2.4 0a1.2 1.2 0 1 0 -2.4 0M487.0 240.3a1.2 1.2 0 1 0 2.4 0a1.2 1.2 0 1 0 -2.4 0M277.1 416.9a1.2 1.2 0 1 0 2.4 0a1.2 1.2 0 1 0 -2.4 0M91.9 428.6a1.2 1.2 0 1 0 2.4 0a1.2 1.2 0 1 0 -2.4 0M249.8 420.7a1.2 1.2 0 1 0 2.4 0a1.2 1.2 0 1 0 -2.4 0M340.1 332.8a1.2 1.2 0 1 0 2.4 0a1.2 1.2 0 1 0 -2.4 0M317.8 385.9a1.2 1.2 0 1 0 2.4 0a1.2 1.2 0 1 0 -2.4 0M497.4 298.2a1.2 1.2 0 1 0 2.4 0a1.2 1.2 0 1 0 -2.4 0M127.4 415.8a1.2 1.2 0 1 0 2.4 0a1.2 1.2 0 1 0 -2.4 0M136.1 413.1a1.2 1.2 0 1 0 2.4 0a1.2 1.2 0 1 0 -2.4 0M249.3 420.7a1.2 1.2 0 1 0 2.4 0a1.2 1.2 0 1 0 -2.4 0M273.0 350.2a1.2 1.2 0 1 0 2.4 0a1.2 1.2 0 1 0 -2.4 0M435.0 246.5a1.2 1.2 0 1 0 2.4 0a1.2 1.2 0 1 0 -2.4 0M161.4 414.7a1.2 1.2 0 1 0 2.4 0a1.2 1.2 0 1 0 -2.4 0M97.0 426.4a1.2 1.2 0 1 0 2.4 0a1.2 1.2 0 1 0 -2.4 0M385.8 358.3a1.2 1.2 0 1 0 2.4 0a1.2 1.2 0 1 0 -2.4 0M277.4 349.9a1.2 1.2 0 1 0 2.4 0a1.2 1.2 0 1 0 -2.4 0M104.6 429.3a1.2 1.2 0 1 0 2.4 0a1.2 1.2 0 1 0 -2.4 0M483.5 214.1a1.2 1.2 0 1 0 2.4 0a1.2 1.2 0 1 0 -2.4 0M106.5 428.8a1.2 1.2 0 1 0 2.4 0a1.2 1.2 0 1 0 -2.4 0M290.6 370.1a1.2 1.2 0 1 0 2.4 0a1.2 1.2 0 1 0 -2.4 0M241.0 394.5a1.2 1.2 0 1 0 2.4 0a1.2 1.2 0 1 0 -2.4 0M493.9 275.9a1.2 1.2 0 1 0 2.4 0a1.2 1.2 0 1 0 -2.4 0M267.0 369.1a1.2 1.2 0 1 0 2.4 0a1.2 1.2 0 1 0 -2.4 0M176.9 397.7a1.2 1.2 0 1 0 2.4 0a1.2 1.2 0 1 0 -2.4 0M453.8 241.6a1.2 1.2 0 1 0 2.4 0a1.2 1.2 0 1 0 -2.4 0M309.6 364.9a1.2 1.2 0 1 0 2.4 0a1.2 1.2 0 1 0 -2.4 0M155.1 427.1a1.2 1.2 0 1 0 2.4 0a1.2 1.2 0 1 0 -2.4 0M145.2 424.7a1.2 1.2 0 1 0 2.4 0a1.2 1.2 0 1 0 -2.4 0M343.0 315.3a1.2 1.2 0 1 0 2.4 0a1.2 1.2 0 1 0 -2.4 0M113.1 429.2a1.2 1.2 0 1 0 2.4 0a1.2 1.2 0 1 0 -2.4 0M234.7 397.0a1.2 1.2 0 1 0 2.4 0a1.2 1.2 0 1 0 -2.4 0M377.8 318.9a1.2 1.2 0 1 0 2.4 0a1.2 1.2 0 1 0 -2.4 0M392.2 326.8a1.2 1.2 0 1 0 2.4 0a1.2 1.2 0 1 0 -2.4 0M367.6 337.6a1.2 1.2 0 1 0 2.4 0a1.2 1.2 0 1 0 -2.4 0M147.0 428.2a1.2 1.2 0 1 0 2.4 0a1.2 1.2 0 1 0 -2.4 0M95.4 428.0a1.2 1.2 0 1 0 2.4 0a1.2 1.2 0 1 0 -2.4 0M363.4 294.0a1.2 1.2 0 1 0 2.4 0a1.2 1.2 0 1 0 -2.4 0M248.9 416.0a1.2 1.2 0 1 0 2.4 0a1.2 1.2 0 1 0 -2.4 0M322.2 375.8a1.2 1.2 0 1 0 2.4 0a1.2 1.2 0 1 0 -2.4 0M147.3 429.1a1.2 1.2 0 1 0 2.4 0a1.2 1.2 0 1 0 -2.4 0M157.5 420.5a1.2 1.2 0 1 0 2.4 0a1.2 1.2 0 1 0 -2.4 0M390.7 283.1a1.2 1.2 0 1 0 2.4 0a1.2 1.2 0 1 0 -2.4 0M174.9 396.2a1.2 1.2 0 1 0 2.4 0a1.2 1.2 0 1 0 -2.4 0M177.5 428.0a1.2 1.2 0 1 0 2.4 0a1.2 1.2 0 1 0 -2.4 0M435.3 276.2a1.2 1.2 0 1 0 2.4 0a1.2 1.2 0 1 0 -2.4 0M246.3 355.8a1.2 1.2 0 1 0 2.4 0a1.2 1.2 0 1 0 -2.4 0M432.3 262.7a1.2 1.2 0 1 0 2.4 0a1.2 1.2 0 1 0 -2.4 0M301.0 390.7a1.2 1.2 0 1 0 2.4 0a1.2 1.2 0 1 0 -2.4 0M332.8 326.9a1.2 1.2 0 1 0 2.4 0a1.2 1.2 0 1 0 -2.4 0M239.4 410.3a1.2 1.2 0 1 0 2.4 0a1.2 1.2 0 1 0 -2.4 0M287.5 340.2a1.2 1.2 0 1 0 2.4 0a1.2 1.2 0 1 0 -2.4 0M259.1 358.0a1.2 1.2 0 1 0 2.4 0a1.2 1.2 0 1 0 -2.4 0M319.2 325.2a1.2 1.2 0 1 0 2.4 0a1.2 1.2 0 1 0 -2.4 0M467.4 303.5a1.2 1.2 0 1 0 2.4 0a1.2 1.2 0 1 0 -2.4 0M351.3 294.8a1.2 1.2 0 1 0 2.4 0a1.2 1.2 0 1 0 -2.4 0M334.7 359.0a1.2 1.2 0 1 0 2.4 0a1.2 1.2 0 1 0 -2.4 0M355.5 322.6a1.2 1.2 0 1 0 2.4 0a1.2 1.2 0 1 0 -2.4 0M94.3 428.6a1.2 1.2 0 1 0 2.4 0a1.2 1.2 0 1 0 -2.4 0M185.4 384.6a1.2 1.2 0 1 0 2.4 0a1.2 1.2 0 1 0 -2.4 0M263.8 373.4a1.2 1.2 0 1 0 2.4 0a1.2 1.2 0 1 0 -2.4 0M503.3 305.3a1.2 1.2 0 1 0 2.4 0a1.2 1.2 0 1 0 -2.4 0M403.2 285.6a1.2 1.2 0 1 0 2.4 0a1.2 1.2 0 1 0 -2.4 0M475.6 233.5a1.2 1.2 0 1 0 2.4 0a1.2 1.2 0 1 0 -2.4 0M324.5 335.4a1.2 1.2 0 1 0 2.4 0a1.2 1.2 0 1 0 -2.4 0M457.6 259.7a1.2 1.2 0 1 0 2.4 0a1.2 1.2 0 1 0 -2.4 0M285.4 392.3a1.2 1.2 0 1 0 2.4 0a1.2 1.2 0 1 0 -2.4 0M473.5 255.8a1.2 1.2 0 1 0 2.4 0a1.2 1.2 0 1 0 -2.4 0M509.9 288.7a1.2 1.2 0 1 0 2.4 0a1.2 1.2 0 1 0 -2.4 0M370.5 317.7a1.2 1.2 0 1 0 2.4 0a1.2 1.2 0 1 0 -2.4 0M292.2 376.3a1.2 1.2 0 1 0 2.4 0a1.2 1.2 0 1 0 -2.4 0M390.2 282.0a1.2 1.2 0 1 0 2.4 0a1.2 1.2 0 1 0 -2.4 0M492.5 278.8a1.2 1.2 0 1 0 2.4 0a1.2 1.2 0 1 0 -2.4 0M284.8 412.8a1.2 1.2 0 1 0 2.4 0a1.2 1.2 0 1 0 -2.4 0M381.3 317.8a1.2 1.2 0 1 0 2.4 0a1.2 1.2 0 1 0 -2.4 0M335.2 369.2a1.2 1.2 0 1 0 2.4 0a1.2 1.2 0 1 0 -2.4 0M216.7 426.5a1.2 1.2 0 1 0 2.4 0a1.2 1.2 0 1 0 -2.4 0M413.7 296.8a1.2 1.2 0 1 0 2.4 0a1.2 1.2 0 1 0 -2.4 0M211.6 399.5a1.2 1.2 0 1 0 2.4 0a1.2 1.2 0 1 0 -2.4 0M343.5 333.2a1.2 1.2 0 1 0 2.4 0a1.2 1.2 0 1 0 -2.4 0M299.5 379.5a1.2 1.2 0 1 0 2.4 0a1.2 1.2 0 1 0 -2.4 0M512.2 290.8a1.2 1.2 0 1 0 2.4 0a1.2 1.2 0 1 0 -2.4 0M458.5 247.3a1.2 1.2 0 1 0 2.4 0a1.2 1.2 0 1 0 -2.4 0M124.6 427.8a1.2 1.2 0 1 0 2.4 0a1.2 1.2 0 1 0 -2.4 0M476.3 262.8a1.2 1.2 0 1 0 2.4 0a1.2 1.2 0 1 0 -2.4 0M413.7 320.4a1.2 1.2 0 1 0 2.4 0a1.2 1.2 0 1 0 -2.4 0M134.7 428.2a1.2 1.2 0 1 0 2.4 0a1.2 1.2 0 1 0 -2.4 0M479.2 207.5a1.2 1.2 0 1 0 2.4 0a1.2 1.2 0 1 0 -2.4 0M215.1 392.7a1.2 1.2 0 1 0 2.4 0a1.2 1.2 0 1 0 -2.4 0M323.9 345.1a1.2 1.2 0 1 0 2.4 0a1.2 1.2 0 1 0 -2.4 0M152.3 428.5a1.2 1.2 0 1 0 2.4 0a1.2 1.2 0 1 0 -2.4 0M244.3 408.8a1.2 1.2 0 1 0 2.4 0a1.2 1.2 0 1 0 -2.4 0M297.2 352.3a1.2 1.2 0 1 0 2.4 0a1.2 1.2 0 1 0 -2.4 0M271.4 383.1a1.2 1.2 0 1 0 2.4 0a1.2 1.2 0 1 0 -2.4 0M167.7 401.6a1.2 1.2 0 1 0 2.4 0a1.2 1.2 0 1 0 -2.4 0M505.7 299.2a1.2 1.2 0 1 0 2.4 0a1.2 1.2 0 1 0 -2.4 0M95.1 417.7a1.2 1.2 0 1 0 2.4 0a1.2 1.2 0 1 0 -2.4 0M162.4 421.9a1.2 1.2 0 1 0 2.4 0a1.2 1.2 0 1 0 -2.4 0M193.1 380.5a1.2 1.2 0 1 0 2.4 0a1.2 1.2 0 1 0 -2.4 0M112.9 421.0a1.2 1.2 0 1 0 2.4 0a1.2 1.2 0 1 0 -2.4 0M258.8 406.7a1.2 1.2 0 1 0 2.4 0a1.2 1.2 0 1 0 -2.4 0M189.3 388.7a1.2 1.2 0 1 0 2.4 0a1.2 1.2 0 1 0 -2.4 0M229.0 369.8a1.2 1.2 0 1 0 2.4 0a1.2 1.2 0 1 0 -2.4 0M133.0 427.3a1.2 1.2 0 1 0 2.4 0a1.2 1.2 0 1 0 -2.4 0M455.7 275.7a1.2 1.2 0 1 0 2.4 0a1.2 1.2 0 1 0 -2.4 0M422.1 274.7a1.2 1.2 0 1 0 2.4 0a1.2 1.2 0 1 0 -2.4 0M93.5 427.3a1.2 1.2 0 1 0 2.4 0a1.2 1.2 0 1 0 -2.4 0M100.7 429.0a1.2 1.2 0 1 0 2.4 0a1.2 1.2 0 1 0 -2.4 0M371.1 330.6a1.2 1.2 0 1 0 2.4 0a1.2 1.2 0 1 0 -2.4 0M202.5 389.0a1.2 1.2 0 1 0 2.4 0a1.2 1.2 0 1 0 -2.4 0M238.7 348.3a1.2 1.2 0 1 0 2.4 0a1.2 1.2 0 1 0 -2.4 0M293.9 392.5a1.2 1.2 0 1 0 2.4 0a1.2 1.2 0 1 0 -2.4 0M489.9 227.6a1.2 1.2 0 1 0 2.4 0a1.2 1.2 0 1 0 -2.4 0M138.5 427.9a1.2 1.2 0 1 0 2.4 0a1.2 1.2 0 1 0 -2.4 0M240.3 418.9a1.2 1.2 0 1 0 2.4 0a1.2 1.2 0 1 0 -2.4 0M412.1 274.9a1.2 1.2 0 1 0 2.4 0a1.2 1.2 0 1 0 -2.4 0M338.2 333.6a1.2 1.2 0 1 0 2.4 0a1.2 1.2 0 1 0 -2.4 0M243.1 420.6a1.2 1.2 0 1 0 2.4 0a1.2 1.2 0 1 0 -2.4 0M304.8 363.0a1.2 1.2 0 1 0 2.4 0a1.2 1.2 0 1 0 -2.4 0M102.3 428.7a1.2 1.2 0 1 0 2.4 0a1.2 1.2 0 1 0 -2.4 0M235.8 406.2a1.2 1.2 0 1 0 2.4 0a1.2 1.2 0 1 0 -2.4 0M382.9 262.0a1.2 1.2 0 1 0 2.4 0a1.2 1.2 0 1 0 -2.4 0M94.6 424.9a1.2 1.2 0 1 0 2.4 0a1.2 1.2 0 1 0 -2.4 0M294.9 337.0a1.2 1.2 0 1 0 2.4 0a1.2 1.2 0 1 0 -2.4 0M161.3 427.3a1.2 1.2 0 1 0 2.4 0a1.2 1.2 0 1 0 -2.4 0M167.7 412.9a1.2 1.2 0 1 0 2.4 0a1.2 1.2 0 1 0 -2.4 0M215.7 398.4a1.2 1.2 0 1 0 2.4 0a1.2 1.2 0 1 0 -2.4 0M178.9 412.7a1.2 1.2 0 1 0 2.4 0a1.2 1.2 0 1 0 -2.4 0M208.4 407.6a1.2 1.2 0 1 0 2.4 0a1.2 1.2 0 1 0 -2.4 0M413.0 323.8a1.2 1.2 0 1 0 2.4 0a1.2 1.2 0 1 0 -2.4 0M335.8 316.5a1.2 1.2 0 1 0 2.4 0a1.2 1.2 0 1 0 -2.4 0M416.6 261.1a1.2 1.2 0 1 0 2.4 0a1.2 1.2 0 1 0 -2.4 0M444.2 282.7a1.2 1.2 0 1 0 2.4 0a1.2 1.2 0 1 0 -2.4 0M392.2 341.4a1.2 1.2 0 1 0 2.4 0a1.2 1.2 0 1 0 -2.4 0M174.3 425.3a1.2 1.2 0 1 0 2.4 0a1.2 1.2 0 1 0 -2.4 0M250.1 429.1a1.2 1.2 0 1 0 2.4 0a1.2 1.2 0 1 0 -2.4 0M214.3 359.1a1.2 1.2 0 1 0 2.4 0a1.2 1.2 0 1 0 -2.4 0M407.1 357.3a1.2 1.2 0 1 0 2.4 0a1.2 1.2 0 1 0 -2.4 0M350.1 285.1a1.2 1.2 0 1 0 2.4 0a1.2 1.2 0 1 0 -2.4 0M355.7 304.3a1.2 1.2 0 1 0 2.4 0a1.2 1.2 0 1 0 -2.4 0M457.5 285.9a1.2 1.2 0 1 0 2.4 0a1.2 1.2 0 1 0 -2.4 0M188.5 395.6a1.2 1.2 0 1 0 2.4 0a1.2 1.2 0 1 0 -2.4 0M202.6 401.3a1.2 1.2 0 1 0 2.4 0a1.2 1.2 0 1 0 -2.4 0M366.5 285.7a1.2 1.2 0 1 0 2.4 0a1.2 1.2 0 1 0 -2.4 0M449.1 334.4a1.2 1.2 0 1 0 2.4 0a1.2 1.2 0 1 0 -2.4 0M91.9 427.9a1.2 1.2 0 1 0 2.4 0a1.2 1.2 0 1 0 -2.4 0M475.9 260.4a1.2 1.2 0 1 0 2.4 0a1.2 1.2 0 1 0 -2.4 0M225.4 368.2a1.2 1.2 0 1 0 2.4 0a1.2 1.2 0 1 0 -2.4 0M360.6 277.9a1.2 1.2 0 1 0 2.4 0a1.2 1.2 0 1 0 -2.4 0M477.5 338.4a1.2 1.2 0 1 0 2.4 0a1.2 1.2 0 1 0 -2.4 0M115.3 428.6a1.2 1.2 0 1 0 2.4 0a1.2 1.2 0 1 0 -2.4 0M286.7 400.8a1.2 1.2 0 1 0 2.4 0a1.2 1.2 0 1 0 -2.4 0M432.7 267.6a1.2 1.2 0 1 0 2.4 0a1.2 1.2 0 1 0 -2.4 0M298.6 348.9a1.2 1.2 0 1 0 2.4 0a1.2 1.2 0 1 0 -2.4 0M343.5 366.6a1.2 1.2 0 1 0 2.4 0a1.2 1.2 0 1 0 -2.4 0M391.8 272.7a1.2 1.2 0 1 0 2.4 0a1.2 1.2 0 1 0 -2.4 0M354.8 349.3a1.2 1.2 0 1 0 2.4 0a1.2 1.2 0 1 0 -2.4 0M93.3 429.0a1.2 1.2 0 1 0 2.4 0a1.2 1.2 0 1 0 -2.4 0M466.1 308.4a1.2 1.2 0 1 0 2.4 0a1.2 1.2 0 1 0 -2.4 0M191.6 423.9a1.2 1.2 0 1 0 2.4 0a1.2 1.2 0 1 0 -2.4 0M269.6 369.2a1.2 1.2 0 1 0 2.4 0a1.2 1.2 0 1 0 -2.4 0M446.9 271.7a1.2 1.2 0 1 0 2.4 0a1.2 1.2 0 1 0 -2.4 0M236.4 346.2a1.2 1.2 0 1 0 2.4 0a1.2 1.2 0 1 0 -2.4 0M273.5 423.7a1.2 1.2 0 1 0 2.4 0a1.2 1.2 0 1 0 -2.4 0M345.6 340.5a1.2 1.2 0 1 0 2.4 0a1.2 1.2 0 1 0 -2.4 0M236.5 354.4a1.2 1.2 0 1 0 2.4 0a1.2 1.2 0 1 0 -2.4 0M205.7 429.2a1.2 1.2 0 1 0 2.4 0a1.2 1.2 0 1 0 -2.4 0M309.4 320.9a1.2 1.2 0 1 0 2.4 0a1.2 1.2 0 1 0 -2.4 0M163.4 429.3a1.2 1.2 0 1 0 2.4 0a1.2 1.2 0 1 0 -2.4 0M255.7 396.8a1.2 1.2 0 1 0 2.4 0a1.2 1.2 0 1 0 -2.4 0M177.9 428.0a1.2 1.2 0 1 0 2.4 0a1.2 1.2 0 1 0 -2.4 0M139.8 407.0a1.2 1.2 0 1 0 2.4 0a1.2 1.2 0 1 0 -2.4 0M500.8 237.5a1.2 1.2 0 1 0 2.4 0a1.2 1.2 0 1 0 -2.4 0M438.1 252.8a1.2 1.2 0 1 0 2.4 0a1.2 1.2 0 1 0 -2.4 0M495.6 204.0a1.2 1.2 0 1 0 2.4 0a1.2 1.2 0 1 0 -2.4 0M265.0 393.2a1.2 1.2 0 1 0 2.4 0a1.2 1.2 0 1 0 -2.4 0M198.2 417.5a1.2 1.2 0 1 0 2.4 0a1.2 1.2 0 1 0 -2.4 0M470.7 228.2a1.2 1.2 0 1 0 2.4 0a1.2 1.2 0 1 0 -2.4 0M196.0 414.9a1.2 1.2 0 1 0 2.4 0a1.2 1.2 0 1 0 -2.4 0M270.1 427.8a1.2 1.2 0 1 0 2.4 0a1.2 1.2 0 1 0 -2.4 0M351.8 367.0a1.2 1.2 0 1 0 2.4 0a1.2 1.2 0 1 0 -2.4 0M177.6 425.9a1.2 1.2 0 1 0 2.4 0a1.2 1.2 0 1 0 -2.4 0M294.1 403.9a1.2 1.2 0 1 0 2.4 0a1.2 1.2 0 1 0 -2.4 0M424.2 294.5a1.2 1.2 0 1 0 2.4 0a1.2 1.2 0 1 0 -2.4 0M342.8 351.1a1.2 1.2 0 1 0 2.4 0a1.2 1.2 0 1 0 -2.4 0M229.3 418.9a1.2 1.2 0 1 0 2.4 0a1.2 1.2 0 1 0 -2.4 0M148.2 419.0a1.2 1.2 0 1 0 2.4 0a1.2 1.2 0 1 0 -2.4 0M277.8 345.4a1.2 1.2 0 1 0 2.4 0a1.2 1.2 0 1 0 -2.4 0M285.6 378.9a1.2 1.2 0 1 0 2.4 0a1.2 1.2 0 1 0 -2.4 0M205.4 420.3a1.2 1.2 0 1 0 2.4 0a1.2 1.2 0 1 0 -2.4 0M253.0 397.2a1.2 1.2 0 1 0 2.4 0a1.2 1.2 0 1 0 -2.4 0M249.0 394.5a1.2 1.2 0 1 0 2.4 0a1.2 1.2 0 1 0 -2.4 0M472.7 316.5a1.2 1.2 0 1 0 2.4 0a1.2 1.2 0 1 0 -2.4 0M426.5 325.1a1.2 1.2 0 1 0 2.4 0a1.2 1.2 0 1 0 -2.4 0M345.2 355.3a1.2 1.2 0 1 0 2.4 0a1.2 1.2 0 1 0 -2.4 0M196.3 428.9a1.2 1.2 0 1 0 2.4 0a1.2 1.2 0 1 0 -2.4 0M323.8 377.0a1.2 1.2 0 1 0 2.4 0a1.2 1.2 0 1 0 -2.4 0M177.5 414.6a1.2 1.2 0 1 0 2.4 0a1.2 1.2 0 1 0 -2.4 0M206.6 400.7a1.2 1.2 0 1 0 2.4 0a1.2 1.2 0 1 0 -2.4 0M333.4 299.6a1.2 1.2 0 1 0 2.4 0a1.2 1.2 0 1 0 -2.4 0M214.8 385.6a1.2 1.2 0 1 0 2.4 0a1.2 1.2 0 1 0 -2.4 0M359.6 278.1a1.2 1.2 0 1 0 2.4 0a1.2 1.2 0 1 0 -2.4 0M453.4 245.1a1.2 1.2 0 1 0 2.4 0a1.2 1.2 0 1 0 -2.4 0M402.2 270.3a1.2 1.2 0 1 0 2.4 0a1.2 1.2 0 1 0 -2.4 0M464.3 271.2a1.2 1.2 0 1 0 2.4 0a1.2 1.2 0 1 0 -2.4 0M463.3 254.4a1.2 1.2 0 1 0 2.4 0a1.2 1.2 0 1 0 -2.4 0M407.9 350.0a1.2 1.2 0 1 0 2.4 0a1.2 1.2 0 1 0 -2.4 0M294.4 320.4a1.2 1.2 0 1 0 2.4 0a1.2 1.2 0 1 0 -2.4 0M180.2 427.8a1.2 1.2 0 1 0 2.4 0a1.2 1.2 0 1 0 -2.4 0M110.5 412.0a1.2 1.2 0 1 0 2.4 0a1.2 1.2 0 1 0 -2.4 0M250.9 424.3a1.2 1.2 0 1 0 2.4 0a1.2 1.2 0 1 0 -2.4 0M137.2 428.5a1.2 1.2 0 1 0 2.4 0a1.2 1.2 0 1 0 -2.4 0M137.0 427.5a1.2 1.2 0 1 0 2.4 0a1.2 1.2 0 1 0 -2.4 0M214.1 427.7a1.2 1.2 0 1 0 2.4 0a1.2 1.2 0 1 0 -2.4 0M503.3 321.0a1.2 1.2 0 1 0 2.4 0a1.2 1.2 0 1 0 -2.4 0M147.2 426.2a1.2 1.2 0 1 0 2.4 0a1.2 1.2 0 1 0 -2.4 0M352.3 325.3a1.2 1.2 0 1 0 2.4 0a1.2 1.2 0 1 0 -2.4 0M100.2 428.3a1.2 1.2 0 1 0 2.4 0a1.2 1.2 0 1 0 -2.4 0M446.8 311.1a1.2 1.2 0 1 0 2.4 0a1.2 1.2 0 1 0 -2.4 0M133.8 427.4a1.2 1.2 0 1 0 2.4 0a1.2 1.2 0 1 0 -2.4 0M252.9 421.2a1.2 1.2 0 1 0 2.4 0a1.2 1.2 0 1 0 -2.4 0M296.7 354.4a1.2 1.2 0 1 0 2.4 0a1.2 1.2 0 1 0 -2.4 0M424.5 337.5a1.2 1.2 0 1 0 2.4 0a1.2 1.2 0 1 0 -2.4 0M291.2 331.6a1.2 1.2 0 1 0 2.4 0a1.2 1.2 0 1 0 -2.4 0M204.6 393.6a1.2 1.2 0 1 0 2.4 0a1.2 1.2 0 1 0 -2.4 0M426.8 345.0a1.2 1.2 0 1 0 2.4 0a1.2 1.2 0 1 0 -2.4 0M172.6 428.2a1.2 1.2 0 1 0 2.4 0a1.2 1.2 0 1 0 -2.4 0M498.6 226.2a1.2 1.2 0 1 0 2.4 0a1.2 1.2 0 1 0 -2.4 0M363.4 285.1a1.2 1.2 0 1 0 2.4 0a1.2 1.2 0 1 0 -2.4 0M97.7 424.6a1.2 1.2 0 1 0 2.4 0a1.2 1.2 0 1 0 -2.4 0M495.6 229.4a1.2 1.2 0 1 0 2.4 0a1.2 1.2 0 1 0 -2.4 0M455.0 292.2a1.2 1.2 0 1 0 2.4 0a1.2 1.2 0 1 0 -2.4 0M505.1 258.6a1.2 1.2 0 1 0 2.4 0a1.2 1.2 0 1 0 -2.4 0M266.3 368.8a1.2 1.2 0 1 0 2.4 0a1.2 1.2 0 1 0 -2.4 0M503.8 225.1a1.2 1.2 0 1 0 2.4 0a1.2 1.2 0 1 0 -2.4 0M306.9 311.3a1.2 1.2 0 1 0 2.4 0a1.2 1.2 0 1 0 -2.4 0M260.4 350.5a1.2 1.2 0 1 0 2.4 0a1.2 1.2 0 1 0 -2.4 0M403.8 345.1a1.2 1.2 0 1 0 2.4 0a1.2 1.2 0 1 0 -2.4 0M415.1 301.0a1.2 1.2 0 1 0 2.4 0a1.2 1.2 0 1 0 -2.4 0M436.1 282.0a1.2 1.2 0 1 0 2.4 0a1.2 1.2 0 1 0 -2.4 0M415.7 357.0a1.2 1.2 0 1 0 2.4 0a1.2 1.2 0 1 0 -2.4 0M149.9 427.7a1.2 1.2 0 1 0 2.4 0a1.2 1.2 0 1 0 -2.4 0M109.3 427.6a1.2 1.2 0 1 0 2.4 0a1.2 1.2 0 1 0 -2.4 0M215.6 397.1a1.2 1.2 0 1 0 2.4 0a1.2 1.2 0 1 0 -2.4 0M228.1 368.9a1.2 1.2 0 1 0 2.4 0a1.2 1.2 0 1 0 -2.4 0M252.5 391.3a1.2 1.2 0 1 0 2.4 0a1.2 1.2 0 1 0 -2.4 0M329.8 347.5a1.2 1.2 0 1 0 2.4 0a1.2 1.2 0 1 0 -2.4 0M203.8 397.8a1.2 1.2 0 1 0 2.4 0a1.2 1.2 0 1 0 -2.4 0M503.0 291.8a1.2 1.2 0 1 0 2.4 0a1.2 1.2 0 1 0 -2.4 0M248.1 345.2a1.2 1.2 0 1 0 2.4 0a1.2 1.2 0 1 0 -2.4 0M179.3 379.7a1.2 1.2 0 1 0 2.4 0a1.2 1.2 0 1 0 -2.4 0M257.5 376.1a1.2 1.2 0 1 0 2.4 0a1.2 1.2 0 1 0 -2.4 0M278.1 419.8a1.2 1.2 0 1 0 2.4 0a1.2 1.2 0 1 0 -2.4 0M321.1 381.5a1.2 1.2 0 1 0 2.4 0a1.2 1.2 0 1 0 -2.4 0M277.6 391.6a1.2 1.2 0 1 0 2.4 0a1.2 1.2 0 1 0 -2.4 0M487.8 236.2a1.2 1.2 0 1 0 2.4 0a1.2 1.2 0 1 0 -2.4 0M143.3 428.3a1.2 1.2 0 1 0 2.4 0a1.2 1.2 0 1 0 -2.4 0M428.3 307.9a1.2 1.2 0 1 0 2.4 0a1.2 1.2 0 1 0 -2.4 0M190.9 410.7a1.2 1.2 0 1 0 2.4 0a1.2 1.2 0 1 0 -2.4 0M466.5 201.6a1.2 1.2 0 1 0 2.4 0a1.2 1.2 0 1 0 -2.4 0M284.0 385.7a1.2 1.2 0 1 0 2.4 0a1.2 1.2 0 1 0 -2.4 0M482.2 320.3a1.2 1.2 0 1 0 2.4 0a1.2 1.2 0 1 0 -2.4 0M93.0 426.2a1.2 1.2 0 1 0 2.4 0a1.2 1.2 0 1 0 -2.4 0M322.7 312.2a1.2 1.2 0 1 0 2.4 0a1.2 1.2 0 1 0 -2.4 0M118.9 411.0a1.2 1.2 0 1 0 2.4 0a1.2 1.2 0 1 0 -2.4 0M302.4 350.7a1.2 1.2 0 1 0 2.4 0a1.2 1.2 0 1 0 -2.4 0M409.7 349.3a1.2 1.2 0 1 0 2.4 0a1.2 1.2 0 1 0 -2.4 0M148.1 415.7a1.2 1.2 0 1 0 2.4 0a1.2 1.2 0 1 0 -2.4 0M181.4 428.5a1.2 1.2 0 1 0 2.4 0a1.2 1.2 0 1 0 -2.4 0M445.4 236.7a1.2 1.2 0 1 0 2.4 0a1.2 1.2 0 1 0 -2.4 0M407.4 353.1a1.2 1.2 0 1 0 2.4 0a1.2 1.2 0 1 0 -2.4 0M330.4 349.3a1.2 1.2 0 1 0 2.4 0a1.2 1.2 0 1 0 -2.4 0M338.1 295.5a1.2 1.2 0 1 0 2.4 0a1.2 1.2 0 1 0 -2.4 0M170.8 420.2a1.2 1.2 0 1 0 2.4 0a1.2 1.2 0 1 0 -2.4 0M307.1 387.3a1.2 1.2 0 1 0 2.4 0a1.2 1.2 0 1 0 -2.4 0M470.1 275.2a1.2 1.2 0 1 0 2.4 0a1.2 1.2 0 1 0 -2.4 0M271.5 414.4a1.2 1.2 0 1 0 2.4 0a1.2 1.2 0 1 0 -2.4 0M117.5 429.3a1.2 1.2 0 1 0 2.4 0a1.2 1.2 0 1 0 -2.4 0M488.0 257.4a1.2 1.2 0 1 0 2.4 0a1.2 1.2 0 1 0 -2.4 0M420.1 343.0a1.2 1.2 0 1 0 2.4 0a1.2 1.2 0 1 0 -2.4 0M265.6 397.5a1.2 1.2 0 1 0 2.4 0a1.2 1.2 0 1 0 -2.4 0M463.9 318.4a1.2 1.2 0 1 0 2.4 0a1.2 1.2 0 1 0 -2.4 0M366.1 290.1a1.2 1.2 0 1 0 2.4 0a1.2 1.2 0 1 0 -2.4 0M483.4 239.3a1.2 1.2 0 1 0 2.4 0a1.2 1.2 0 1 0 -2.4 0M287.4 410.2a1.2 1.2 0 1 0 2.4 0a1.2 1.2 0 1 0 -2.4 0M509.1 289.8a1.2 1.2 0 1 0 2.4 0a1.2 1.2 0 1 0 -2.4 0M119.6 428.8a1.2 1.2 0 1 0 2.4 0a1.2 1.2 0 1 0 -2.4 0M186.4 401.8a1.2 1.2 0 1 0 2.4 0a1.2 1.2 0 1 0 -2.4 0M431.5 282.8a1.2 1.2 0 1 0 2.4 0a1.2 1.2 0 1 0 -2.4 0M338.9 317.7a1.2 1.2 0 1 0 2.4 0a1.2 1.2 0 1 0 -2.4 0M479.5 296.6a1.2 1.2 0 1 0 2.4 0a1.2 1.2 0 1 0 -2.4 0M246.3 418.8a1.2 1.2 0 1 0 2.4 0a1.2 1.2 0 1 0 -2.4 0M88.2 428.0a1.2 1.2 0 1 0 2.4 0a1.2 1.2 0 1 0 -2.4 0M286.7 327.3a1.2 1.2 0 1 0 2.4 0a1.2 1.2 0 1 0 -2.4 0M146.1 419.4a1.2 1.2 0 1 0 2.4 0a1.2 1.2 0 1 0 -2.4 0M154.3 424.9a1.2 1.2 0 1 0 2.4 0a1.2 1.2 0 1 0 -2.4 0M266.9 365.4a1.2 1.2 0 1 0 2.4 0a1.2 1.2 0 1 0 -2.4 0M327.6 309.3a1.2 1.2 0 1 0 2.4 0a1.2 1.2 0 1 0 -2.4 0M439.4 348.2a1.2 1.2 0 1 0 2.4 0a1.2 1.2 0 1 0 -2.4 0M113.6 428.8a1.2 1.2 0 1 0 2.4 0a1.2 1.2 0 1 0 -2.4 0M234.0 400.2a1.2 1.2 0 1 0 2.4 0a1.2 1.2 0 1 0 -2.4 0M266.5 353.9a1.2 1.2 0 1 0 2.4 0a1.2 1.2 0 1 0 -2.4 0M129.1 429.0a1.2 1.2 0 1 0 2.4 0a1.2 1.2 0 1 0 -2.4 0M414.7 279.9a1.2 1.2 0 1 0 2.4 0a1.2 1.2 0 1 0 -2.4 0M195.7 421.8a1.2 1.2 0 1 0 2.4 0a1.2 1.2 0 1 0 -2.4 0M508.1 212.8a1.2 1.2 0 1 0 2.4 0a1.2 1.2 0 1 0 -2.4 0M365.4 340.3a1.2 1.2 0 1 0 2.4 0a1.2 1.2 0 1 0 -2.4 0M116.0 427.0a1.2 1.2 0 1 0 2.4 0a1.2 1.2 0 1 0 -2.4 0M473.7 244.8a1.2 1.2 0 1 0 2.4 0a1.2 1.2 0 1 0 -2.4 0M429.5 230.3a1.2 1.2 0 1 0 2.4 0a1.2 1.2 0 1 0 -2.4 0M395.0 303.1a1.2 1.2 0 1 0 2.4 0a1.2 1.2 0 1 0 -2.4 0M210.1 427.6a1.2 1.2 0 1 0 2.4 0a1.2 1.2 0 1 0 -2.4 0M297.6 347.4a1.2 1.2 0 1 0 2.4 0a1.2 1.2 0 1 0 -2.4 0M108.4 416.0a1.2 1.2 0 1 0 2.4 0a1.2 1.2 0 1 0 -2.4 0M104.1 427.3a1.2 1.2 0 1 0 2.4 0a1.2 1.2 0 1 0 -2.4 0M231.0 409.6a1.2 1.2 0 1 0 2.4 0a1.2 1.2 0 1 0 -2.4 0M478.2 227.6a1.2 1.2 0 1 0 2.4 0a1.2 1.2 0 1 0 -2.4 0M400.4 319.7a1.2 1.2 0 1 0 2.4 0a1.2 1.2 0 1 0 -2.4 0M413.0 298.7a1.2 1.2 0 1 0 2.4 0a1.2 1.2 0 1 0 -2.4 0M267.0 372.2a1.2 1.2 0 1 0 2.4 0a1.2 1.2 0 1 0 -2.4 0M495.1 307.7a1.2 1.2 0 1 0 2.4 0a1.2 1.2 0 1 0 -2.4 0M328.5 340.1a1.2 1.2 0 1 0 2.4 0a1.2 1.2 0 1 0 -2.4 0M345.0 327.0a1.2 1.2 0 1 0 2.4 0a1.2 1.2 0 1 0 -2.4 0M468.3 242.3a1.2 1.2 0 1 0 2.4 0a1.2 1.2 0 1 0 -2.4 0M187.1 413.5a1.2 1.2 0 1 0 2.4 0a1.2 1.2 0 1 0 -2.4 0M181.7 410.9a1.2 1.2 0 1 0 2.4 0a1.2 1.2 0 1 0 -2.4 0M320.6 305.4a1.2 1.2 0 1 0 2.4 0a1.2 1.2 0 1 0 -2.4 0M319.1 365.4a1.2 1.2 0 1 0 2.4 0a1.2 1.2 0 1 0 -2.4 0M357.2 315.0a1.2 1.2 0 1 0 2.4 0a1.2 1.2 0 1 0 -2.4 0M130.4 410.5a1.2 1.2 0 1 0 2.4 0a1.2 1.2 0 1 0 -2.4 0M207.0 425.5a1.2 1.2 0 1 0 2.4 0a1.2 1.2 0 1 0 -2.4 0M197.0 416.9a1.2 1.2 0 1 0 2.4 0a1.2 1.2 0 1 0 -2.4 0M295.4 396.4a1.2 1.2 0 1 0 2.4 0a1.2 1.2 0 1 0 -2.4 0M338.0 309.9a1.2 1.2 0 1 0 2.4 0a1.2 1.2 0 1 0 -2.4 0M271.0 426.1a1.2 1.2 0 1 0 2.4 0a1.2 1.2 0 1 0 -2.4 0M465.3 274.9a1.2 1.2 0 1 0 2.4 0a1.2 1.2 0 1 0 -2.4 0M262.5 417.1a1.2 1.2 0 1 0 2.4 0a1.2 1.2 0 1 0 -2.4 0M315.7 386.8a1.2 1.2 0 1 0 2.4 0a1.2 1.2 0 1 0 -2.4 0M300.6 324.6a1.2 1.2 0 1 0 2.4 0a1.2 1.2 0 1 0 -2.4 0M492.8 329.3a1.2 1.2 0 1 0 2.4 0a1.2 1.2 0 1 0 -2.4 0M467.5 263.3a1.2 1.2 0 1 0 2.4 0a1.2 1.2 0 1 0 -2.4 0M506.2 273.0a1.2 1.2 0 1 0 2.4 0a1.2 1.2 0 1 0 -2.4 0M324.8 333.4a1.2 1.2 0 1 0 2.4 0a1.2 1.2 0 1 0 -2.4 0M435.3 294.2a1.2 1.2 0 1 0 2.4 0a1.2 1.2 0 1 0 -2.4 0M185.9 420.3a1.2 1.2 0 1 0 2.4 0a1.2 1.2 0 1 0 -2.4 0M115.1 428.3a1.2 1.2 0 1 0 2.4 0a1.2 1.2 0 1 0 -2.4 0M466.2 271.0a1.2 1.2 0 1 0 2.4 0a1.2 1.2 0 1 0 -2.4 0M295.5 331.8a1.2 1.2 0 1 0 2.4 0a1.2 1.2 0 1 0 -2.4 0M198.9 424.4a1.2 1.2 0 1 0 2.4 0a1.2 1.2 0 1 0 -2.4 0M198.8 388.0a1.2 1.2 0 1 0 2.4 0a1.2 1.2 0 1 0 -2.4 0M249.9 406.8a1.2 1.2 0 1 0 2.4 0a1.2 1.2 0 1 0 -2.4 0M192.8 429.1a1.2 1.2 0 1 0 2.4 0a1.2 1.2 0 1 0 -2.4 0M345.0 306.0a1.2 1.2 0 1 0 2.4 0a1.2 1.2 0 1 0 -2.4 0M480.6 271.3a1.2 1.2 0 1 0 2.4 0a1.2 1.2 0 1 0 -2.4 0M362.3 310.7a1.2 1.2 0 1 0 2.4 0a1.2 1.2 0 1 0 -2.4 0M315.2 358.6a1.2 1.2 0 1 0 2.4 0a1.2 1.2 0 1 0 -2.4 0M155.8 428.1a1.2 1.2 0 1 0 2.4 0a1.2 1.2 0 1 0 -2.4 0M89.9 420.4a1.2 1.2 0 1 0 2.4 0a1.2 1.2 0 1 0 -2.4 0M451.5 288.7a1.2 1.2 0 1 0 2.4 0a1.2 1.2 0 1 0 -2.4 0M452.7 283.6a1.2 1.2 0 1 0 2.4 0a1.2 1.2 0 1 0 -2.4 0M458.9 310.8a1.2 1.2 0 1 0 2.4 0a1.2 1.2 0 1 0 -2.4 0M161.8 412.8a1.2 1.2 0 1 0 2.4 0a1.2 1.2 0 1 0 -2.4 0M98.4 418.3a1.2 1.2 0 1 0 2.4 0a1.2 1.2 0 1 0 -2.4 0M290.7 370.0a1.2 1.2 0 1 0 2.4 0a1.2 1.2 0 1 0 -2.4 0M280.0 327.0a1.2 1.2 0 1 0 2.4 0a1.2 1.2 0 1 0 -2.4 0M305.5 323.3a1.2 1.2 0 1 0 2.4 0a1.2 1.2 0 1 0 -2.4 0M392.7 299.9a1.2 1.2 0 1 0 2.4 0a1.2 1.2 0 1 0 -2.4 0M455.3 235.7a1.2 1.2 0 1 0 2.4 0a1.2 1.2 0 1 0 -2.4 0M297.2 358.9a1.2 1.2 0 1 0 2.4 0a1.2 1.2 0 1 0 -2.4 0M417.8 358.2a1.2 1.2 0 1 0 2.4 0a1.2 1.2 0 1 0 -2.4 0M177.6 395.4a1.2 1.2 0 1 0 2.4 0a1.2 1.2 0 1 0 -2.4 0M192.3 427.1a1.2 1.2 0 1 0 2.4 0a1.2 1.2 0 1 0 -2.4 0M253.2 374.3a1.2 1.2 0 1 0 2.4 0a1.2 1.2 0 1 0 -2.4 0M454.3 283.3a1.2 1.2 0 1 0 2.4 0a1.2 1.2 0 1 0 -2.4 0M161.4 428.4a1.2 1.2 0 1 0 2.4 0a1.2 1.2 0 1 0 -2.4 0M443.1 353.0a1.2 1.2 0 1 0 2.4 0a1.2 1.2 0 1 0 -2.4 0M154.9 428.3a1.2 1.2 0 1 0 2.4 0a1.2 1.2 0 1 0 -2.4 0M154.1 417.6a1.2 1.2 0 1 0 2.4 0a1.2 1.2 0 1 0 -2.4 0M241.3 428.3a1.2 1.2 0 1 0 2.4 0a1.2 1.2 0 1 0 -2.4 0M290.2 378.9a1.2 1.2 0 1 0 2.4 0a1.2 1.2 0 1 0 -2.4 0M453.3 262.1a1.2 1.2 0 1 0 2.4 0a1.2 1.2 0 1 0 -2.4 0M338.7 341.1a1.2 1.2 0 1 0 2.4 0a1.2 1.2 0 1 0 -2.4 0M210.6 427.1a1.2 1.2 0 1 0 2.4 0a1.2 1.2 0 1 0 -2.4 0M152.1 428.6a1.2 1.2 0 1 0 2.4 0a1.2 1.2 0 1 0 -2.4 0M330.7 320.8a1.2 1.2 0 1 0 2.4 0a1.2 1.2 0 1 0 -2.4 0M415.1 288.9a1.2 1.2 0 1 0 2.4 0a1.2 1.2 0 1 0 -2.4 0M275.5 421.5a1.2 1.2 0 1 0 2.4 0a1.2 1.2 0 1 0 -2.4 0M183.5 428.7a1.2 1.2 0 1 0 2.4 0a1.2 1.2 0 1 0 -2.4 0M216.1 420.7a1.2 1.2 0 1 0 2.4 0a1.2 1.2 0 1 0 -2.4 0M279.2 384.9a1.2 1.2 0 1 0 2.4 0a1.2 1.2 0 1 0 -2.4 0M459.3 273.4a1.2 1.2 0 1 0 2.4 0a1.2 1.2 0 1 0 -2.4 0M474.8 249.7a1.2 1.2 0 1 0 2.4 0a1.2 1.2 0 1 0 -2.4 0M132.1 419.8a1.2 1.2 0 1 0 2.4 0a1.2 1.2 0 1 0 -2.4 0M117.7 425.7a1.2 1.2 0 1 0 2.4 0a1.2 1.2 0 1 0 -2.4 0M208.8 392.9a1.2 1.2 0 1 0 2.4 0a1.2 1.2 0 1 0 -2.4 0M87.9 427.6a1.2 1.2 0 1 0 2.4 0a1.2 1.2 0 1 0 -2.4 0M310.6 349.8a1.2 1.2 0 1 0 2.4 0a1.2 1.2 0 1 0 -2.4 0M495.0 219.9a1.2 1.2 0 1 0 2.4 0a1.2 1.2 0 1 0 -2.4 0M413.4 286.6a1.2 1.2 0 1 0 2.4 0a1.2 1.2 0 1 0 -2.4 0M220.1 374.5a1.2 1.2 0 1 0 2.4 0a1.2 1.2 0 1 0 -2.4 0M95.4 423.3a1.2 1.2 0 1 0 2.4 0a1.2 1.2 0 1 0 -2.4 0M363.2 346.2a1.2 1.2 0 1 0 2.4 0a1.2 1.2 0 1 0 -2.4 0M401.3 286.4a1.2 1.2 0 1 0 2.4 0a1.2 1.2 0 1 0 -2.4 0M456.0 289.9a1.2 1.2 0 1 0 2.4 0a1.2 1.2 0 1 0 -2.4 0M453.9 222.2a1.2 1.2 0 1 0 2.4 0a1.2 1.2 0 1 0 -2.4 0M400.0 338.4a1.2 1.2 0 1 0 2.4 0a1.2 1.2 0 1 0 -2.4 0M322.3 355.2a1.2 1.2 0 1 0 2.4 0a1.2 1.2 0 1 0 -2.4 0M249.8 387.5a1.2 1.2 0 1 0 2.4 0a1.2 1.2 0 1 0 -2.4 0M423.6 328.5a1.2 1.2 0 1 0 2.4 0a1.2 1.2 0 1 0 -2.4 0M342.9 302.0a1.2 1.2 0 1 0 2.4 0a1.2 1.2 0 1 0 -2.4 0M478.2 301.7a1.2 1.2 0 1 0 2.4 0a1.2 1.2 0 1 0 -2.4 0M413.3 294.3a1.2 1.2 0 1 0 2.4 0a1.2 1.2 0 1 0 -2.4 0M187.6 395.5a1.2 1.2 0 1 0 2.4 0a1.2 1.2 0 1 0 -2.4 0M137.9 406.1a1.2 1.2 0 1 0 2.4 0a1.2 1.2 0 1 0 -2.4 0M120.0 420.7a1.2 1.2 0 1 0 2.4 0a1.2 1.2 0 1 0 -2.4 0M241.9 416.2a1.2 1.2 0 1 0 2.4 0a1.2 1.2 0 1 0 -2.4 0M481.2 212.8a1.2 1.2 0 1 0 2.4 0a1.2 1.2 0 1 0 -2.4 0M448.2 237.4a1.2 1.2 0 1 0 2.4 0a1.2 1.2 0 1 0 -2.4 0M279.8 417.3a1.2 1.2 0 1 0 2.4 0a1.2 1.2 0 1 0 -2.4 0M314.2 369.2a1.2 1.2 0 1 0 2.4 0a1.2 1.2 0 1 0 -2.4 0M359.5 332.7a1.2 1.2 0 1 0 2.4 0a1.2 1.2 0 1 0 -2.4 0M129.6 427.9a1.2 1.2 0 1 0 2.4 0a1.2 1.2 0 1 0 -2.4 0M210.2 428.1a1.2 1.2 0 1 0 2.4 0a1.2 1.2 0 1 0 -2.4 0M191.5 406.2a1.2 1.2 0 1 0 2.4 0a1.2 1.2 0 1 0 -2.4 0M293.3 338.4a1.2 1.2 0 1 0 2.4 0a1.2 1.2 0 1 0 -2.4 0M341.5 317.6a1.2 1.2 0 1 0 2.4 0a1.2 1.2 0 1 0 -2.4 0M354.8 365.5a1.2 1.2 0 1 0 2.4 0a1.2 1.2 0 1 0 -2.4 0M454.6 348.8a1.2 1.2 0 1 0 2.4 0a1.2 1.2 0 1 0 -2.4 0M477.6 314.0a1.2 1.2 0 1 0 2.4 0a1.2 1.2 0 1 0 -2.4 0M297.5 364.1a1.2 1.2 0 1 0 2.4 0a1.2 1.2 0 1 0 -2.4 0M438.0 309.5a1.2 1.2 0 1 0 2.4 0a1.2 1.2 0 1 0 -2.4 0M163.5 406.9a1.2 1.2 0 1 0 2.4 0a1.2 1.2 0 1 0 -2.4 0M317.4 367.6a1.2 1.2 0 1 0 2.4 0a1.2 1.2 0 1 0 -2.4 0M482.0 265.9a1.2 1.2 0 1 0 2.4 0a1.2 1.2 0 1 0 -2.4 0M114.7 428.9a1.2 1.2 0 1 0 2.4 0a1.2 1.2 0 1 0 -2.4 0M423.5 291.8a1.2 1.2 0 1 0 2.4 0a1.2 1.2 0 1 0 -2.4 0M105.5 420.9a1.2 1.2 0 1 0 2.4 0a1.2 1.2 0 1 0 -2.4 0M315.7 332.1a1.2 1.2 0 1 0 2.4 0a1.2 1.2 0 1 0 -2.4 0M459.1 266.6a1.2 1.2 0 1 0 2.4 0a1.2 1.2 0 1 0 -2.4 0M229.2 405.0a1.2 1.2 0 1 0 2.4 0a1.2 1.2 0 1 0 -2.4 0M184.4 379.8a1.2 1.2 0 1 0 2.4 0a1.2 1.2 0 1 0 -2.4 0M220.4 397.8a1.2 1.2 0 1 0 2.4 0a1.2 1.2 0 1 0 -2.4 0M184.0 410.3a1.2 1.2 0 1 0 2.4 0a1.2 1.2 0 1 0 -2.4 0M308.1 355.2a1.2 1.2 0 1 0 2.4 0a1.2 1.2 0 1 0 -2.4 0M132.4 419.3a1.2 1.2 0 1 0 2.4 0a1.2 1.2 0 1 0 -2.4 0M163.2 390.9a1.2 1.2 0 1 0 2.4 0a1.2 1.2 0 1 0 -2.4 0M418.9 358.4a1.2 1.2 0 1 0 2.4 0a1.2 1.2 0 1 0 -2.4 0M181.3 416.3a1.2 1.2 0 1 0 2.4 0a1.2 1.2 0 1 0 -2.4 0M373.6 314.4a1.2 1.2 0 1 0 2.4 0a1.2 1.2 0 1 0 -2.4 0M278.0 419.6a1.2 1.2 0 1 0 2.4 0a1.2 1.2 0 1 0 -2.4 0M134.3 427.8a1.2 1.2 0 1 0 2.4 0a1.2 1.2 0 1 0 -2.4 0M242.1 384.1a1.2 1.2 0 1 0 2.4 0a1.2 1.2 0 1 0 -2.4 0M179.9 412.8a1.2 1.2 0 1 0 2.4 0a1.2 1.2 0 1 0 -2.4 0M415.8 277.3a1.2 1.2 0 1 0 2.4 0a1.2 1.2 0 1 0 -2.4 0M469.4 238.1a1.2 1.2 0 1 0 2.4 0a1.2 1.2 0 1 0 -2.4 0M380.3 335.3a1.2 1.2 0 1 0 2.4 0a1.2 1.2 0 1 0 -2.4 0M298.8 343.9a1.2 1.2 0 1 0 2.4 0a1.2 1.2 0 1 0 -2.4 0M501.8 312.7a1.2 1.2 0 1 0 2.4 0a1.2 1.2 0 1 0 -2.4 0M121.7 412.9a1.2 1.2 0 1 0 2.4 0a1.2 1.2 0 1 0 -2.4 0M177.9 415.0a1.2 1.2 0 1 0 2.4 0a1.2 1.2 0 1 0 -2.4 0M294.7 394.1a1.2 1.2 0 1 0 2.4 0a1.2 1.2 0 1 0 -2.4 0M404.1 307.2a1.2 1.2 0 1 0 2.4 0a1.2 1.2 0 1 0 -2.4 0M128.1 415.5a1.2 1.2 0 1 0 2.4 0a1.2 1.2 0 1 0 -2.4 0M488.6 229.2a1.2 1.2 0 1 0 2.4 0a1.2 1.2 0 1 0 -2.4 0M299.7 373.2a1.2 1.2 0 1 0 2.4 0a1.2 1.2 0 1 0 -2.4 0M430.9 256.2a1.2 1.2 0 1 0 2.4 0a1.2 1.2 0 1 0 -2.4 0M385.0 286.5a1.2 1.2 0 1 0 2.4 0a1.2 1.2 0 1 0 -2.4 0M125.7 419.4a1.2 1.2 0 1 0 2.4 0a1.2 1.2 0 1 0 -2.4 0M439.2 311.7a1.2 1.2 0 1 0 2.4 0a1.2 1.2 0 1 0 -2.4 0M231.4 400.9a1.2 1.2 0 1 0 2.4 0a1.2 1.2 0 1 0 -2.4 0M320.1 319.3a1.2 1.2 0 1 0 2.4 0a1.2 1.2 0 1 0 -2.4 0M352.7 291.2a1.2 1.2 0 1 0 2.4 0a1.2 1.2 0 1 0 -2.4 0M234.5 390.5a1.2 1.2 0 1 0 2.4 0a1.2 1.2 0 1 0 -2.4 0M262.0 341.2a1.2 1.2 0 1 0 2.4 0a1.2 1.2 0 1 0 -2.4 0M399.1 319.1a1.2 1.2 0 1 0 2.4 0a1.2 1.2 0 1 0 -2.4 0M365.4 289.7a1.2 1.2 0 1 0 2.4 0a1.2 1.2 0 1 0 -2.4 0M295.9 335.7a1.2 1.2 0 1 0 2.4 0a1.2 1.2 0 1 0 -2.4 0M434.4 302.8a1.2 1.2 0 1 0 2.4 0a1.2 1.2 0 1 0 -2.4 0M169.4 399.0a1.2 1.2 0 1 0 2.4 0a1.2 1.2 0 1 0 -2.4 0M466.3 282.4a1.2 1.2 0 1 0 2.4 0a1.2 1.2 0 1 0 -2.4 0M256.0 406.9a1.2 1.2 0 1 0 2.4 0a1.2 1.2 0 1 0 -2.4 0M96.4 427.7a1.2 1.2 0 1 0 2.4 0a1.2 1.2 0 1 0 -2.4 0M315.1 381.8a1.2 1.2 0 1 0 2.4 0a1.2 1.2 0 1 0 -2.4 0M288.7 402.3a1.2 1.2 0 1 0 2.4 0a1.2 1.2 0 1 0 -2.4 0M203.3 365.3a1.2 1.2 0 1 0 2.4 0a1.2 1.2 0 1 0 -2.4 0M315.1 313.2a1.2 1.2 0 1 0 2.4 0a1.2 1.2 0 1 0 -2.4 0M485.8 333.2a1.2 1.2 0 1 0 2.4 0a1.2 1.2 0 1 0 -2.4 0M102.4 427.5a1.2 1.2 0 1 0 2.4 0a1.2 1.2 0 1 0 -2.4 0M334.8 335.9a1.2 1.2 0 1 0 2.4 0a1.2 1.2 0 1 0 -2.4 0M497.7 304.8a1.2 1.2 0 1 0 2.4 0a1.2 1.2 0 1 0 -2.4 0M235.0 384.1a1.2 1.2 0 1 0 2.4 0a1.2 1.2 0 1 0 -2.4 0M476.2 332.1a1.2 1.2 0 1 0 2.4 0a1.2 1.2 0 1 0 -2.4 0M230.5 399.4a1.2 1.2 0 1 0 2.4 0a1.2 1.2 0 1 0 -2.4 0M401.5 329.7a1.2 1.2 0 1 0 2.4 0a1.2 1.2 0 1 0 -2.4 0M261.9 407.6a1.2 1.2 0 1 0 2.4 0a1.2 1.2 0 1 0 -2.4 0M358.0 323.3a1.2 1.2 0 1 0 2.4 0a1.2 1.2 0 1 0 -2.4 0M372.6 275.9a1.2 1.2 0 1 0 2.4 0a1.2 1.2 0 1 0 -2.4 0M148.6 402.1a1.2 1.2 0 1 0 2.4 0a1.2 1.2 0 1 0 -2.4 0M165.2 419.4a1.2 1.2 0 1 0 2.4 0a1.2 1.2 0 1 0 -2.4 0M306.7 385.5a1.2 1.2 0 1 0 2.4 0a1.2 1.2 0 1 0 -2.4 0M155.0 413.2a1.2 1.2 0 1 0 2.4 0a1.2 1.2 0 1 0 -2.4 0M440.5 283.4a1.2 1.2 0 1 0 2.4 0a1.2 1.2 0 1 0 -2.4 0M361.7 310.2a1.2 1.2 0 1 0 2.4 0a1.2 1.2 0 1 0 -2.4 0M456.0 272.6a1.2 1.2 0 1 0 2.4 0a1.2 1.2 0 1 0 -2.4 0M428.1 237.5a1.2 1.2 0 1 0 2.4 0a1.2 1.2 0 1 0 -2.4 0M453.5 340.1a1.2 1.2 0 1 0 2.4 0a1.2 1.2 0 1 0 -2.4 0M89.8 424.2a1.2 1.2 0 1 0 2.4 0a1.2 1.2 0 1 0 -2.4 0M128.3 428.5a1.2 1.2 0 1 0 2.4 0a1.2 1.2 0 1 0 -2.4 0M151.9 424.4a1.2 1.2 0 1 0 2.4 0a1.2 1.2 0 1 0 -2.4 0M124.2 424.9a1.2 1.2 0 1 0 2.4 0a1.2 1.2 0 1 0 -2.4 0M363.1 322.1a1.2 1.2 0 1 0 2.4 0a1.2 1.2 0 1 0 -2.4 0M496.9 255.9a1.2 1.2 0 1 0 2.4 0a1.2 1.2 0 1 0 -2.4 0M397.5 283.7a1.2 1.2 0 1 0 2.4 0a1.2 1.2 0 1 0 -2.4 0M113.7 427.2a1.2 1.2 0 1 0 2.4 0a1.2 1.2 0 1 0 -2.4 0M469.5 302.4a1.2 1.2 0 1 0 2.4 0a1.2 1.2 0 1 0 -2.4 0M233.1 411.8a1.2 1.2 0 1 0 2.4 0a1.2 1.2 0 1 0 -2.4 0M285.1 375.6a1.2 1.2 0 1 0 2.4 0a1.2 1.2 0 1 0 -2.4 0M393.1 285.7a1.2 1.2 0 1 0 2.4 0a1.2 1.2 0 1 0 -2.4 0M338.1 329.4a1.2 1.2 0 1 0 2.4 0a1.2 1.2 0 1 0 -2.4 0M458.1 297.9a1.2 1.2 0 1 0 2.4 0a1.2 1.2 0 1 0 -2.4 0M171.0 427.0a1.2 1.2 0 1 0 2.4 0a1.2 1.2 0 1 0 -2.4 0M145.2 424.0a1.2 1.2 0 1 0 2.4 0a1.2 1.2 0 1 0 -2.4 0M307.5 382.0a1.2 1.2 0 1 0 2.4 0a1.2 1.2 0 1 0 -2.4 0M135.2 405.2a1.2 1.2 0 1 0 2.4 0a1.2 1.2 0 1 0 -2.4 0M461.8 242.8a1.2 1.2 0 1 0 2.4 0a1.2 1.2 0 1 0 -2.4 0M432.6 274.0a1.2 1.2 0 1 0 2.4 0a1.2 1.2 0 1 0 -2.4 0M413.4 334.2a1.2 1.2 0 1 0 2.4 0a1.2 1.2 0 1 0 -2.4 0M494.8 206.1a1.2 1.2 0 1 0 2.4 0a1.2 1.2 0 1 0 -2.4 0M326.3 349.0a1.2 1.2 0 1 0 2.4 0a1.2 1.2 0 1 0 -2.4 0M382.4 290.9a1.2 1.2 0 1 0 2.4 0a1.2 1.2 0 1 0 -2.4 0M207.3 419.1a1.2 1.2 0 1 0 2.4 0a1.2 1.2 0 1 0 -2.4 0M478.0 224.1a1.2 1.2 0 1 0 2.4 0a1.2 1.2 0 1 0 -2.4 0M448.3 321.0a1.2 1.2 0 1 0 2.4 0a1.2 1.2 0 1 0 -2.4 0M360.8 279.1a1.2 1.2 0 1 0 2.4 0a1.2 1.2 0 1 0 -2.4 0M169.4 417.8a1.2 1.2 0 1 0 2.4 0a1.2 1.2 0 1 0 -2.4 0M334.9 324.5a1.2 1.2 0 1 0 2.4 0a1.2 1.2 0 1 0 -2.4 0M241.5 428.1a1.2 1.2 0 1 0 2.4 0a1.2 1.2 0 1 0 -2.4 0M172.8 409.3a1.2 1.2 0 1 0 2.4 0a1.2 1.2 0 1 0 -2.4 0M291.0 357.7a1.2 1.2 0 1 0 2.4 0a1.2 1.2 0 1 0 -2.4 0M354.3 306.8a1.2 1.2 0 1 0 2.4 0a1.2 1.2 0 1 0 -2.4 0M460.3 294.4a1.2 1.2 0 1 0 2.4 0a1.2 1.2 0 1 0 -2.4 0M250.7 426.6a1.2 1.2 0 1 0 2.4 0a1.2 1.2 0 1 0 -2.4 0M171.2 414.9a1.2 1.2 0 1 0 2.4 0a1.2 1.2 0 1 0 -2.4 0M217.3 362.1a1.2 1.2 0 1 0 2.4 0a1.2 1.2 0 1 0 -2.4 0M331.4 339.8a1.2 1.2 0 1 0 2.4 0a1.2 1.2 0 1 0 -2.4 0M354.9 319.3a1.2 1.2 0 1 0 2.4 0a1.2 1.2 0 1 0 -2.4 0M229.7 424.4a1.2 1.2 0 1 0 2.4 0a1.2 1.2 0 1 0 -2.4 0M445.4 244.2a1.2 1.2 0 1 0 2.4 0a1.2 1.2 0 1 0 -2.4 0M267.5 424.6a1.2 1.2 0 1 0 2.4 0a1.2 1.2 0 1 0 -2.4 0M325.5 335.0a1.2 1.2 0 1 0 2.4 0a1.2 1.2 0 1 0 -2.4 0M429.4 285.9a1.2 1.2 0 1 0 2.4 0a1.2 1.2 0 1 0 -2.4 0M464.0 340.6a1.2 1.2 0 1 0 2.4 0a1.2 1.2 0 1 0 -2.4 0M288.5 323.9a1.2 1.2 0 1 0 2.4 0a1.2 1.2 0 1 0 -2.4 0M100.7 426.7a1.2 1.2 0 1 0 2.4 0a1.2 1.2 0 1 0 -2.4 0M409.1 245.0a1.2 1.2 0 1 0 2.4 0a1.2 1.2 0 1 0 -2.4 0M156.0 419.8a1.2 1.2 0 1 0 2.4 0a1.2 1.2 0 1 0 -2.4 0M334.9 373.9a1.2 1.2 0 1 0 2.4 0a1.2 1.2 0 1 0 -2.4 0M468.4 280.8a1.2 1.2 0 1 0 2.4 0a1.2 1.2 0 1 0 -2.4 0M346.6 330.9a1.2 1.2 0 1 0 2.4 0a1.2 1.2 0 1 0 -2.4 0M455.1 291.1a1.2 1.2 0 1 0 2.4 0a1.2 1.2 0 1 0 -2.4 0M268.0 409.8a1.2 1.2 0 1 0 2.4 0a1.2 1.2 0 1 0 -2.4 0M134.4 427.5a1.2 1.2 0 1 0 2.4 0a1.2 1.2 0 1 0 -2.4 0M269.3 357.1a1.2 1.2 0 1 0 2.4 0a1.2 1.2 0 1 0 -2.4 0M441.5 355.1a1.2 1.2 0 1 0 2.4 0a1.2 1.2 0 1 0 -2.4 0M495.4 291.2a1.2 1.2 0 1 0 2.4 0a1.2 1.2 0 1 0 -2.4 0M150.0 422.5a1.2 1.2 0 1 0 2.4 0a1.2 1.2 0 1 0 -2.4 0M427.5 252.0a1.2 1.2 0 1 0 2.4 0a1.2 1.2 0 1 0 -2.4 0M189.3 376.6a1.2 1.2 0 1 0 2.4 0a1.2 1.2 0 1 0 -2.4 0M404.1 346.5a1.2 1.2 0 1 0 2.4 0a1.2 1.2 0 1 0 -2.4 0M477.5 205.4a1.2 1.2 0 1 0 2.4 0a1.2 1.2 0 1 0 -2.4 0M227.9 379.5a1.2 1.2 0 1 0 2.4 0a1.2 1.2 0 1 0 -2.4 0M198.6 416.2a1.2 1.2 0 1 0 2.4 0a1.2 1.2 0 1 0 -2.4 0M219.8 386.6a1.2 1.2 0 1 0 2.4 0a1.2 1.2 0 1 0 -2.4 0M303.0 374.2a1.2 1.2 0 1 0 2.4 0a1.2 1.2 0 1 0 -2.4 0M464.9 249.3a1.2 1.2 0 1 0 2.4 0a1.2 1.2 0 1 0 -2.4 0M229.4 428.1a1.2 1.2 0 1 0 2.4 0a1.2 1.2 0 1 0 -2.4 0M495.0 192.0a1.2 1.2 0 1 0 2.4 0a1.2 1.2 0 1 0 -2.4 0M417.5 335.1a1.2 1.2 0 1 0 2.4 0a1.2 1.2 0 1 0 -2.4 0M329.8 349.2a1.2 1.2 0 1 0 2.4 0a1.2 1.2 0 1 0 -2.4 0M377.9 332.8a1.2 1.2 0 1 0 2.4 0a1.2 1.2 0 1 0 -2.4 0M498.2 279.3a1.2 1.2 0 1 0 2.4 0a1.2 1.2 0 1 0 -2.4 0M141.8 419.9a1.2 1.2 0 1 0 2.4 0a1.2 1.2 0 1 0 -2.4 0M295.6 361.0a1.2 1.2 0 1 0 2.4 0a1.2 1.2 0 1 0 -2.4 0M483.1 275.7a1.2 1.2 0 1 0 2.4 0a1.2 1.2 0 1 0 -2.4 0M305.8 367.0a1.2 1.2 0 1 0 2.4 0a1.2 1.2 0 1 0 -2.4 0M231.8 353.7a1.2 1.2 0 1 0 2.4 0a1.2 1.2 0 1 0 -2.4 0M131.7 428.5a1.2 1.2 0 1 0 2.4 0a1.2 1.2 0 1 0 -2.4 0M462.7 336.5a1.2 1.2 0 1 0 2.4 0a1.2 1.2 0 1 0 -2.4 0M140.9 404.2a1.2 1.2 0 1 0 2.4 0a1.2 1.2 0 1 0 -2.4 0M310.9 359.2a1.2 1.2 0 1 0 2.4 0a1.2 1.2 0 1 0 -2.4 0M437.5 257.1a1.2 1.2 0 1 0 2.4 0a1.2 1.2 0 1 0 -2.4 0M372.4 355.6a1.2 1.2 0 1 0 2.4 0a1.2 1.2 0 1 0 -2.4 0M441.8 302.8a1.2 1.2 0 1 0 2.4 0a1.2 1.2 0 1 0 -2.4 0M336.6 358.0a1.2 1.2 0 1 0 2.4 0a1.2 1.2 0 1 0 -2.4 0M403.8 277.1a1.2 1.2 0 1 0 2.4 0a1.2 1.2 0 1 0 -2.4 0M334.5 321.8a1.2 1.2 0 1 0 2.4 0a1.2 1.2 0 1 0 -2.4 0M287.5 382.6a1.2 1.2 0 1 0 2.4 0a1.2 1.2 0 1 0 -2.4 0M422.1 356.7a1.2 1.2 0 1 0 2.4 0a1.2 1.2 0 1 0 -2.4 0M162.9 422.9a1.2 1.2 0 1 0 2.4 0a1.2 1.2 0 1 0 -2.4 0M126.8 426.7a1.2 1.2 0 1 0 2.4 0a1.2 1.2 0 1 0 -2.4 0M386.6 313.5a1.2 1.2 0 1 0 2.4 0a1.2 1.2 0 1 0 -2.4 0M201.5 410.1a1.2 1.2 0 1 0 2.4 0a1.2 1.2 0 1 0 -2.4 0M475.7 252.3a1.2 1.2 0 1 0 2.4 0a1.2 1.2 0 1 0 -2.4 0M152.4 427.3a1.2 1.2 0 1 0 2.4 0a1.2 1.2 0 1 0 -2.4 0M302.5 339.3a1.2 1.2 0 1 0 2.4 0a1.2 1.2 0 1 0 -2.4 0M428.8 323.3a1.2 1.2 0 1 0 2.4 0a1.2 1.2 0 1 0 -2.4 0M390.2 309.9a1.2 1.2 0 1 0 2.4 0a1.2 1.2 0 1 0 -2.4 0M96.9 429.4a1.2 1.2 0 1 0 2.4 0a1.2 1.2 0 1 0 -2.4 0M410.1 356.6a1.2 1.2 0 1 0 2.4 0a1.2 1.2 0 1 0 -2.4 0M493.5 278.9a1.2 1.2 0 1 0 2.4 0a1.2 1.2 0 1 0 -2.4 0M185.8 426.7a1.2 1.2 0 1 0 2.4 0a1.2 1.2 0 1 0 -2.4 0M441.6 252.6a1.2 1.2 0 1 0 2.4 0a1.2 1.2 0 1 0 -2.4 0M330.0 352.9a1.2 1.2 0 1 0 2.4 0a1.2 1.2 0 1 0 -2.4 0M185.8 409.6a1.2 1.2 0 1 0 2.4 0a1.2 1.2 0 1 0 -2.4 0M504.0 192.7a1.2 1.2 0 1 0 2.4 0a1.2 1.2 0 1 0 -2.4 0M477.5 334.4a1.2 1.2 0 1 0 2.4 0a1.2 1.2 0 1 0 -2.4 0M427.1 278.8a1.2 1.2 0 1 0 2.4 0a1.2 1.2 0 1 0 -2.4 0M88.1 424.3a1.2 1.2 0 1 0 2.4 0a1.2 1.2 0 1 0 -2.4 0M371.0 327.9a1.2 1.2 0 1 0 2.4 0a1.2 1.2 0 1 0 -2.4 0M277.1 390.9a1.2 1.2 0 1 0 2.4 0a1.2 1.2 0 1 0 -2.4 0M200.4 373.9a1.2 1.2 0 1 0 2.4 0a1.2 1.2 0 1 0 -2.4 0M450.3 281.4a1.2 1.2 0 1 0 2.4 0a1.2 1.2 0 1 0 -2.4 0M159.3 410.2a1.2 1.2 0 1 0 2.4 0a1.2 1.2 0 1 0 -2.4 0M139.8 417.0a1.2 1.2 0 1 0 2.4 0a1.2 1.2 0 1 0 -2.4 0M343.8 367.8a1.2 1.2 0 1 0 2.4 0a1.2 1.2 0 1 0 -2.4 0M357.1 315.2a1.2 1.2 0 1 0 2.4 0a1.2 1.2 0 1 0 -2.4 0M419.6 260.9a1.2 1.2 0 1 0 2.4 0a1.2 1.2 0 1 0 -2.4 0M211.3 427.5a1.2 1.2 0 1 0 2.4 0a1.2 1.2 0 1 0 -2.4 0M399.6 277.4a1.2 1.2 0 1 0 2.4 0a1.2 1.2 0 1 0 -2.4 0M498.3 246.6a1.2 1.2 0 1 0 2.4 0a1.2 1.2 0 1 0 -2.4 0M510.3 258.5a1.2 1.2 0 1 0 2.4 0a1.2 1.2 0 1 0 -2.4 0M408.9 301.4a1.2 1.2 0 1 0 2.4 0a1.2 1.2 0 1 0 -2.4 0M210.7 411.3a1.2 1.2 0 1 0 2.4 0a1.2 1.2 0 1 0 -2.4 0M275.0 386.4a1.2 1.2 0 1 0 2.4 0a1.2 1.2 0 1 0 -2.4 0M198.5 429.3a1.2 1.2 0 1 0 2.4 0a1.2 1.2 0 1 0 -2.4 0M248.8 423.6a1.2 1.2 0 1 0 2.4 0a1.2 1.2 0 1 0 -2.4 0M153.9 429.3a1.2 1.2 0 1 0 2.4 0a1.2 1.2 0 1 0 -2.4 0M386.0 291.6a1.2 1.2 0 1 0 2.4 0a1.2 1.2 0 1 0 -2.4 0M419.4 358.1a1.2 1.2 0 1 0 2.4 0a1.2 1.2 0 1 0 -2.4 0M263.4 405.9a1.2 1.2 0 1 0 2.4 0a1.2 1.2 0 1 0 -2.4 0M277.2 395.6a1.2 1.2 0 1 0 2.4 0a1.2 1.2 0 1 0 -2.4 0M495.9 304.9a1.2 1.2 0 1 0 2.4 0a1.2 1.2 0 1 0 -2.4 0M386.3 277.5a1.2 1.2 0 1 0 2.4 0a1.2 1.2 0 1 0 -2.4 0M440.9 269.2a1.2 1.2 0 1 0 2.4 0a1.2 1.2 0 1 0 -2.4 0M339.5 303.3a1.2 1.2 0 1 0 2.4 0a1.2 1.2 0 1 0 -2.4 0M426.1 303.6a1.2 1.2 0 1 0 2.4 0a1.2 1.2 0 1 0 -2.4 0M307.8 346.4a1.2 1.2 0 1 0 2.4 0a1.2 1.2 0 1 0 -2.4 0M322.9 350.7a1.2 1.2 0 1 0 2.4 0a1.2 1.2 0 1 0 -2.4 0M415.7 283.7a1.2 1.2 0 1 0 2.4 0a1.2 1.2 0 1 0 -2.4 0M344.3 303.9a1.2 1.2 0 1 0 2.4 0a1.2 1.2 0 1 0 -2.4 0M145.8 421.9a1.2 1.2 0 1 0 2.4 0a1.2 1.2 0 1 0 -2.4 0M421.5 306.3a1.2 1.2 0 1 0 2.4 0a1.2 1.2 0 1 0 -2.4 0M226.0 428.9a1.2 1.2 0 1 0 2.4 0a1.2 1.2 0 1 0 -2.4 0M175.0 413.7a1.2 1.2 0 1 0 2.4 0a1.2 1.2 0 1 0 -2.4 0M327.5 311.1a1.2 1.2 0 1 0 2.4 0a1.2 1.2 0 1 0 -2.4 0M215.6 426.7a1.2 1.2 0 1 0 2.4 0a1.2 1.2 0 1 0 -2.4 0M432.9 257.0a1.2 1.2 0 1 0 2.4 0a1.2 1.2 0 1 0 -2.4 0M419.7 247.6a1.2 1.2 0 1 0 2.4 0a1.2 1.2 0 1 0 -2.4 0M497.0 267.2a1.2 1.2 0 1 0 2.4 0a1.2 1.2 0 1 0 -2.4 0M126.8 412.1a1.2 1.2 0 1 0 2.4 0a1.2 1.2 0 1 0 -2.4 0M394.0 313.7a1.2 1.2 0 1 0 2.4 0a1.2 1.2 0 1 0 -2.4 0M225.3 389.0a1.2 1.2 0 1 0 2.4 0a1.2 1.2 0 1 0 -2.4 0M103.5 422.7a1.2 1.2 0 1 0 2.4 0a1.2 1.2 0 1 0 -2.4 0M243.2 428.1a1.2 1.2 0 1 0 2.4 0a1.2 1.2 0 1 0 -2.4 0M259.6 374.0a1.2 1.2 0 1 0 2.4 0a1.2 1.2 0 1 0 -2.4 0M389.3 287.4a1.2 1.2 0 1 0 2.4 0a1.2 1.2 0 1 0 -2.4 0M159.0 421.2a1.2 1.2 0 1 0 2.4 0a1.2 1.2 0 1 0 -2.4 0M318.4 364.6a1.2 1.2 0 1 0 2.4 0a1.2 1.2 0 1 0 -2.4 0M457.0 269.2a1.2 1.2 0 1 0 2.4 0a1.2 1.2 0 1 0 -2.4 0M366.3 307.7a1.2 1.2 0 1 0 2.4 0a1.2 1.2 0 1 0 -2.4 0M401.4 332.9a1.2 1.2 0 1 0 2.4 0a1.2 1.2 0 1 0 -2.4 0M218.2 367.4a1.2 1.2 0 1 0 2.4 0a1.2 1.2 0 1 0 -2.4 0M264.4 339.9a1.2 1.2 0 1 0 2.4 0a1.2 1.2 0 1 0 -2.4 0M333.3 361.5a1.2 1.2 0 1 0 2.4 0a1.2 1.2 0 1 0 -2.4 0M243.6 410.6a1.2 1.2 0 1 0 2.4 0a1.2 1.2 0 1 0 -2.4 0M505.7 258.1a1.2 1.2 0 1 0 2.4 0a1.2 1.2 0 1 0 -2.4 0M88.0 424.4a1.2 1.2 0 1 0 2.4 0a1.2 1.2 0 1 0 -2.4 0M265.5 386.6a1.2 1.2 0 1 0 2.4 0a1.2 1.2 0 1 0 -2.4 0M461.5 273.6a1.2 1.2 0 1 0 2.4 0a1.2 1.2 0 1 0 -2.4 0M355.9 310.3a1.2 1.2 0 1 0 2.4 0a1.2 1.2 0 1 0 -2.4 0M485.9 244.5a1.2 1.2 0 1 0 2.4 0a1.2 1.2 0 1 0 -2.4 0M126.2 407.9a1.2 1.2 0 1 0 2.4 0a1.2 1.2 0 1 0 -2.4 0M507.0 287.7a1.2 1.2 0 1 0 2.4 0a1.2 1.2 0 1 0 -2.4 0M443.2 267.7a1.2 1.2 0 1 0 2.4 0a1.2 1.2 0 1 0 -2.4 0M464.6 264.5a1.2 1.2 0 1 0 2.4 0a1.2 1.2 0 1 0 -2.4 0M279.8 417.5a1.2 1.2 0 1 0 2.4 0a1.2 1.2 0 1 0 -2.4 0M130.7 429.0a1.2 1.2 0 1 0 2.4 0a1.2 1.2 0 1 0 -2.4 0M395.8 285.3a1.2 1.2 0 1 0 2.4 0a1.2 1.2 0 1 0 -2.4 0M129.8 410.0a1.2 1.2 0 1 0 2.4 0a1.2 1.2 0 1 0 -2.4 0M509.5 205.0a1.2 1.2 0 1 0 2.4 0a1.2 1.2 0 1 0 -2.4 0M291.4 351.8a1.2 1.2 0 1 0 2.4 0a1.2 1.2 0 1 0 -2.4 0M280.8 367.5a1.2 1.2 0 1 0 2.4 0a1.2 1.2 0 1 0 -2.4 0M146.5 416.3a1.2 1.2 0 1 0 2.4 0a1.2 1.2 0 1 0 -2.4 0M227.6 420.2a1.2 1.2 0 1 0 2.4 0a1.2 1.2 0 1 0 -2.4 0M316.8 367.6a1.2 1.2 0 1 0 2.4 0a1.2 1.2 0 1 0 -2.4 0M332.2 367.1a1.2 1.2 0 1 0 2.4 0a1.2 1.2 0 1 0 -2.4 0M398.9 319.8a1.2 1.2 0 1 0 2.4 0a1.2 1.2 0 1 0 -2.4 0M350.0 337.2a1.2 1.2 0 1 0 2.4 0a1.2 1.2 0 1 0 -2.4 0M284.8 396.0a1.2 1.2 0 1 0 2.4 0a1.2 1.2 0 1 0 -2.4 0M325.5 374.6a1.2 1.2 0 1 0 2.4 0a1.2 1.2 0 1 0 -2.4 0M375.0 292.4a1.2 1.2 0 1 0 2.4 0a1.2 1.2 0 1 0 -2.4 0M197.4 419.6a1.2 1.2 0 1 0 2.4 0a1.2 1.2 0 1 0 -2.4 0M399.9 271.2a1.2 1.2 0 1 0 2.4 0a1.2 1.2 0 1 0 -2.4 0M375.2 317.9a1.2 1.2 0 1 0 2.4 0a1.2 1.2 0 1 0 -2.4 0M364.8 309.1a1.2 1.2 0 1 0 2.4 0a1.2 1.2 0 1 0 -2.4 0M200.9 396.4a1.2 1.2 0 1 0 2.4 0a1.2 1.2 0 1 0 -2.4 0M217.7 369.3a1.2 1.2 0 1 0 2.4 0a1.2 1.2 0 1 0 -2.4 0M371.8 263.4a1.2 1.2 0 1 0 2.4 0a1.2 1.2 0 1 0 -2.4 0M228.1 427.9a1.2 1.2 0 1 0 2.4 0a1.2 1.2 0 1 0 -2.4 0M250.4 429.5a1.2 1.2 0 1 0 2.4 0a1.2 1.2 0 1 0 -2.4 0M141.1 429.4a1.2 1.2 0 1 0 2.4 0a1.2 1.2 0 1 0 -2.4 0M507.3 292.0a1.2 1.2 0 1 0 2.4 0a1.2 1.2 0 1 0 -2.4 0M480.6 248.1a1.2 1.2 0 1 0 2.4 0a1.2 1.2 0 1 0 -2.4 0M115.9 429.0a1.2 1.2 0 1 0 2.4 0a1.2 1.2 0 1 0 -2.4 0M314.6 318.5a1.2 1.2 0 1 0 2.4 0a1.2 1.2 0 1 0 -2.4 0M505.3 300.5a1.2 1.2 0 1 0 2.4 0a1.2 1.2 0 1 0 -2.4 0M362.6 283.1a1.2 1.2 0 1 0 2.4 0a1.2 1.2 0 1 0 -2.4 0M429.4 289.8a1.2 1.2 0 1 0 2.4 0a1.2 1.2 0 1 0 -2.4 0M327.4 296.7a1.2 1.2 0 1 0 2.4 0a1.2 1.2 0 1 0 -2.4 0M253.3 339.1a1.2 1.2 0 1 0 2.4 0a1.2 1.2 0 1 0 -2.4 0M293.0 320.2a1.2 1.2 0 1 0 2.4 0a1.2 1.2 0 1 0 -2.4 0M371.3 283.0a1.2 1.2 0 1 0 2.4 0a1.2 1.2 0 1 0 -2.4 0M253.8 388.3a1.2 1.2 0 1 0 2.4 0a1.2 1.2 0 1 0 -2.4 0M439.8 266.4a1.2 1.2 0 1 0 2.4 0a1.2 1.2 0 1 0 -2.4 0M241.1 427.8a1.2 1.2 0 1 0 2.4 0a1.2 1.2 0 1 0 -2.4 0M192.5 412.6a1.2 1.2 0 1 0 2.4 0a1.2 1.2 0 1 0 -2.4 0M295.3 403.2a1.2 1.2 0 1 0 2.4 0a1.2 1.2 0 1 0 -2.4 0M463.6 272.3a1.2 1.2 0 1 0 2.4 0a1.2 1.2 0 1 0 -2.4 0M501.2 208.3a1.2 1.2 0 1 0 2.4 0a1.2 1.2 0 1 0 -2.4 0M136.9 423.6a1.2 1.2 0 1 0 2.4 0a1.2 1.2 0 1 0 -2.4 0M157.0 418.7a1.2 1.2 0 1 0 2.4 0a1.2 1.2 0 1 0 -2.4 0M119.4 415.5a1.2 1.2 0 1 0 2.4 0a1.2 1.2 0 1 0 -2.4 0M465.7 287.0a1.2 1.2 0 1 0 2.4 0a1.2 1.2 0 1 0 -2.4 0M392.0 357.5a1.2 1.2 0 1 0 2.4 0a1.2 1.2 0 1 0 -2.4 0M422.2 309.2a1.2 1.2 0 1 0 2.4 0a1.2 1.2 0 1 0 -2.4 0M412.6 270.3a1.2 1.2 0 1 0 2.4 0a1.2 1.2 0 1 0 -2.4 0M226.5 417.8a1.2 1.2 0 1 0 2.4 0a1.2 1.2 0 1 0 -2.4 0M235.2 399.0a1.2 1.2 0 1 0 2.4 0a1.2 1.2 0 1 0 -2.4 0M309.5 311.4a1.2 1.2 0 1 0 2.4 0a1.2 1.2 0 1 0 -2.4 0M121.8 429.2a1.2 1.2 0 1 0 2.4 0a1.2 1.2 0 1 0 -2.4 0M310.2 340.6a1.2 1.2 0 1 0 2.4 0a1.2 1.2 0 1 0 -2.4 0M479.8 289.7a1.2 1.2 0 1 0 2.4 0a1.2 1.2 0 1 0 -2.4 0M486.9 325.0a1.2 1.2 0 1 0 2.4 0a1.2 1.2 0 1 0 -2.4 0M261.7 393.8a1.2 1.2 0 1 0 2.4 0a1.2 1.2 0 1 0 -2.4 0M127.6 413.5a1.2 1.2 0 1 0 2.4 0a1.2 1.2 0 1 0 -2.4 0M501.7 315.0a1.2 1.2 0 1 0 2.4 0a1.2 1.2 0 1 0 -2.4 0M156.8 402.4a1.2 1.2 0 1 0 2.4 0a1.2 1.2 0 1 0 -2.4 0M475.6 203.5a1.2 1.2 0 1 0 2.4 0a1.2 1.2 0 1 0 -2.4 0M278.2 419.8a1.2 1.2 0 1 0 2.4 0a1.2 1.2 0 1 0 -2.4 0M211.6 383.3a1.2 1.2 0 1 0 2.4 0a1.2 1.2 0 1 0 -2.4 0M199.6 423.2a1.2 1.2 0 1 0 2.4 0a1.2 1.2 0 1 0 -2.4 0M306.3 331.6a1.2 1.2 0 1 0 2.4 0a1.2 1.2 0 1 0 -2.4 0M310.6 343.7a1.2 1.2 0 1 0 2.4 0a1.2 1.2 0 1 0 -2.4 0M420.6 304.9a1.2 1.2 0 1 0 2.4 0a1.2 1.2 0 1 0 -2.4 0M497.3 284.6a1.2 1.2 0 1 0 2.4 0a1.2 1.2 0 1 0 -2.4 0M373.6 277.1a1.2 1.2 0 1 0 2.4 0a1.2 1.2 0 1 0 -2.4 0M320.1 347.6a1.2 1.2 0 1 0 2.4 0a1.2 1.2 0 1 0 -2.4 0M444.7 286.1a1.2 1.2 0 1 0 2.4 0a1.2 1.2 0 1 0 -2.4 0M492.0 316.9a1.2 1.2 0 1 0 2.4 0a1.2 1.2 0 1 0 -2.4 0M171.5 428.0a1.2 1.2 0 1 0 2.4 0a1.2 1.2 0 1 0 -2.4 0M483.0 266.0a1.2 1.2 0 1 0 2.4 0a1.2 1.2 0 1 0 -2.4 0M469.1 219.3a1.2 1.2 0 1 0 2.4 0a1.2 1.2 0 1 0 -2.4 0M340.9 322.1a1.2 1.2 0 1 0 2.4 0a1.2 1.2 0 1 0 -2.4 0M315.5 358.7a1.2 1.2 0 1 0 2.4 0a1.2 1.2 0 1 0 -2.4 0M285.2 411.8a1.2 1.2 0 1 0 2.4 0a1.2 1.2 0 1 0 -2.4 0M397.7 281.8a1.2 1.2 0 1 0 2.4 0a1.2 1.2 0 1 0 -2.4 0M340.9 290.1a1.2 1.2 0 1 0 2.4 0a1.2 1.2 0 1 0 -2.4 0M329.1 375.6a1.2 1.2 0 1 0 2.4 0a1.2 1.2 0 1 0 -2.4 0M470.1 246.5a1.2 1.2 0 1 0 2.4 0a1.2 1.2 0 1 0 -2.4 0M468.6 342.8a1.2 1.2 0 1 0 2.4 0a1.2 1.2 0 1 0 -2.4 0M511.8 315.6a1.2 1.2 0 1 0 2.4 0a1.2 1.2 0 1 0 -2.4 0M265.8 425.2a1.2 1.2 0 1 0 2.4 0a1.2 1.2 0 1 0 -2.4 0M390.2 266.3a1.2 1.2 0 1 0 2.4 0a1.2 1.2 0 1 0 -2.4 0M124.1 418.9a1.2 1.2 0 1 0 2.4 0a1.2 1.2 0 1 0 -2.4 0M510.3 272.4a1.2 1.2 0 1 0 2.4 0a1.2 1.2 0 1 0 -2.4 0M302.7 368.0a1.2 1.2 0 1 0 2.4 0a1.2 1.2 0 1 0 -2.4 0M239.2 354.3a1.2 1.2 0 1 0 2.4 0a1.2 1.2 0 1 0 -2.4 0M383.8 317.5a1.2 1.2 0 1 0 2.4 0a1.2 1.2 0 1 0 -2.4 0M269.2 392.3a1.2 1.2 0 1 0 2.4 0a1.2 1.2 0 1 0 -2.4 0M327.4 349.2a1.2 1.2 0 1 0 2.4 0a1.2 1.2 0 1 0 -2.4 0M309.3 333.9a1.2 1.2 0 1 0 2.4 0a1.2 1.2 0 1 0 -2.4 0M402.6 295.2a1.2 1.2 0 1 0 2.4 0a1.2 1.2 0 1 0 -2.4 0M277.9 338.8a1.2 1.2 0 1 0 2.4 0a1.2 1.2 0 1 0 -2.4 0M479.5 285.7a1.2 1.2 0 1 0 2.4 0a1.2 1.2 0 1 0 -2.4 0M458.5 271.4a1.2 1.2 0 1 0 2.4 0a1.2 1.2 0 1 0 -2.4 0M254.0 353.9a1.2 1.2 0 1 0 2.4 0a1.2 1.2 0 1 0 -2.4 0M369.4 306.2a1.2 1.2 0 1 0 2.4 0a1.2 1.2 0 1 0 -2.4 0M375.3 308.6a1.2 1.2 0 1 0 2.4 0a1.2 1.2 0 1 0 -2.4 0M364.2 362.0a1.2 1.2 0 1 0 2.4 0a1.2 1.2 0 1 0 -2.4 0M402.9 337.3a1.2 1.2 0 1 0 2.4 0a1.2 1.2 0 1 0 -2.4 0M140.6 428.9a1.2 1.2 0 1 0 2.4 0a1.2 1.2 0 1 0 -2.4 0M204.6 429.1a1.2 1.2 0 1 0 2.4 0a1.2 1.2 0 1 0 -2.4 0M351.0 309.5a1.2 1.2 0 1 0 2.4 0a1.2 1.2 0 1 0 -2.4 0M386.8 339.0a1.2 1.2 0 1 0 2.4 0a1.2 1.2 0 1 0 -2.4 0M163.6 407.1a1.2 1.2 0 1 0 2.4 0a1.2 1.2 0 1 0 -2.4 0M189.6 423.2a1.2 1.2 0 1 0 2.4 0a1.2 1.2 0 1 0 -2.4 0M368.6 277.9a1.2 1.2 0 1 0 2.4 0a1.2 1.2 0 1 0 -2.4 0M442.6 293.4a1.2 1.2 0 1 0 2.4 0a1.2 1.2 0 1 0 -2.4 0M325.6 305.7a1.2 1.2 0 1 0 2.4 0a1.2 1.2 0 1 0 -2.4 0M274.0 379.2a1.2 1.2 0 1 0 2.4 0a1.2 1.2 0 1 0 -2.4 0M157.7 408.6a1.2 1.2 0 1 0 2.4 0a1.2 1.2 0 1 0 -2.4 0M218.6 424.0a1.2 1.2 0 1 0 2.4 0a1.2 1.2 0 1 0 -2.4 0M390.7 305.3a1.2 1.2 0 1 0 2.4 0a1.2 1.2 0 1 0 -2.4 0M159.3 412.8a1.2 1.2 0 1 0 2.4 0a1.2 1.2 0 1 0 -2.4 0M270.6 426.7a1.2 1.2 0 1 0 2.4 0a1.2 1.2 0 1 0 -2.4 0M497.8 282.1a1.2 1.2 0 1 0 2.4 0a1.2 1.2 0 1 0 -2.4 0M435.6 265.5a1.2 1.2 0 1 0 2.4 0a1.2 1.2 0 1 0 -2.4 0M468.7 309.6a1.2 1.2 0 1 0 2.4 0a1.2 1.2 0 1 0 -2.4 0M337.9 338.6a1.2 1.2 0 1 0 2.4 0a1.2 1.2 0 1 0 -2.4 0M416.9 288.3a1.2 1.2 0 1 0 2.4 0a1.2 1.2 0 1 0 -2.4 0M302.3 394.2a1.2 1.2 0 1 0 2.4 0a1.2 1.2 0 1 0 -2.4 0M256.3 413.4a1.2 1.2 0 1 0 2.4 0a1.2 1.2 0 1 0 -2.4 0M414.2 302.5a1.2 1.2 0 1 0 2.4 0a1.2 1.2 0 1 0 -2.4 0M324.4 319.5a1.2 1.2 0 1 0 2.4 0a1.2 1.2 0 1 0 -2.4 0M226.1 371.4a1.2 1.2 0 1 0 2.4 0a1.2 1.2 0 1 0 -2.4 0M497.4 313.5a1.2 1.2 0 1 0 2.4 0a1.2 1.2 0 1 0 -2.4 0M119.1 423.0a1.2 1.2 0 1 0 2.4 0a1.2 1.2 0 1 0 -2.4 0M249.8 381.9a1.2 1.2 0 1 0 2.4 0a1.2 1.2 0 1 0 -2.4 0M344.5 355.0a1.2 1.2 0 1 0 2.4 0a1.2 1.2 0 1 0 -2.4 0M475.9 303.6a1.2 1.2 0 1 0 2.4 0a1.2 1.2 0 1 0 -2.4 0M257.6 362.6a1.2 1.2 0 1 0 2.4 0a1.2 1.2 0 1 0 -2.4 0M161.0 411.5a1.2 1.2 0 1 0 2.4 0a1.2 1.2 0 1 0 -2.4 0M286.5 357.1a1.2 1.2 0 1 0 2.4 0a1.2 1.2 0 1 0 -2.4 0M233.5 419.0a1.2 1.2 0 1 0 2.4 0a1.2 1.2 0 1 0 -2.4 0M108.7 428.3a1.2 1.2 0 1 0 2.4 0a1.2 1.2 0 1 0 -2.4 0M193.9 412.5a1.2 1.2 0 1 0 2.4 0a1.2 1.2 0 1 0 -2.4 0M496.7 184.1a1.2 1.2 0 1 0 2.4 0a1.2 1.2 0 1 0 -2.4 0M263.6 408.4a1.2 1.2 0 1 0 2.4 0a1.2 1.2 0 1 0 -2.4 0M266.1 423.1a1.2 1.2 0 1 0 2.4 0a1.2 1.2 0 1 0 -2.4 0M183.3 402.3a1.2 1.2 0 1 0 2.4 0a1.2 1.2 0 1 0 -2.4 0M252.4 427.7a1.2 1.2 0 1 0 2.4 0a1.2 1.2 0 1 0 -2.4 0M325.0 373.3a1.2 1.2 0 1 0 2.4 0a1.2 1.2 0 1 0 -2.4 0M338.2 357.5a1.2 1.2 0 1 0 2.4 0a1.2 1.2 0 1 0 -2.4 0M446.0 343.3a1.2 1.2 0 1 0 2.4 0a1.2 1.2 0 1 0 -2.4 0M276.4 383.2a1.2 1.2 0 1 0 2.4 0a1.2 1.2 0 1 0 -2.4 0M172.3 423.9a1.2 1.2 0 1 0 2.4 0a1.2 1.2 0 1 0 -2.4 0M234.1 423.4a1.2 1.2 0 1 0 2.4 0a1.2 1.2 0 1 0 -2.4 0M496.1 246.1a1.2 1.2 0 1 0 2.4 0a1.2 1.2 0 1 0 -2.4 0M342.3 371.1a1.2 1.2 0 1 0 2.4 0a1.2 1.2 0 1 0 -2.4 0M442.1 243.8a1.2 1.2 0 1 0 2.4 0a1.2 1.2 0 1 0 -2.4 0M462.1 317.9a1.2 1.2 0 1 0 2.4 0a1.2 1.2 0 1 0 -2.4 0M325.8 359.6a1.2 1.2 0 1 0 2.4 0a1.2 1.2 0 1 0 -2.4 0M373.0 324.1a1.2 1.2 0 1 0 2.4 0a1.2 1.2 0 1 0 -2.4 0M235.7 381.1a1.2 1.2 0 1 0 2.4 0a1.2 1.2 0 1 0 -2.4 0M290.5 401.7a1.2 1.2 0 1 0 2.4 0a1.2 1.2 0 1 0 -2.4 0M254.0 427.6a1.2 1.2 0 1 0 2.4 0a1.2 1.2 0 1 0 -2.4 0M325.5 330.0a1.2 1.2 0 1 0 2.4 0a1.2 1.2 0 1 0 -2.4 0M507.9 250.0a1.2 1.2 0 1 0 2.4 0a1.2 1.2 0 1 0 -2.4 0M428.1 264.8a1.2 1.2 0 1 0 2.4 0a1.2 1.2 0 1 0 -2.4 0M469.5 252.2a1.2 1.2 0 1 0 2.4 0a1.2 1.2 0 1 0 -2.4 0M198.7 425.5a1.2 1.2 0 1 0 2.4 0a1.2 1.2 0 1 0 -2.4 0M224.9 360.0a1.2 1.2 0 1 0 2.4 0a1.2 1.2 0 1 0 -2.4 0M498.0 313.9a1.2 1.2 0 1 0 2.4 0a1.2 1.2 0 1 0 -2.4 0M251.4 386.7a1.2 1.2 0 1 0 2.4 0a1.2 1.2 0 1 0 -2.4 0M325.6 380.5a1.2 1.2 0 1 0 2.4 0a1.2 1.2 0 1 0 -2.4 0M103.8 428.4a1.2 1.2 0 1 0 2.4 0a1.2 1.2 0 1 0 -2.4 0M468.0 251.7a1.2 1.2 0 1 0 2.4 0a1.2 1.2 0 1 0 -2.4 0M420.1 280.5a1.2 1.2 0 1 0 2.4 0a1.2 1.2 0 1 0 -2.4 0M422.6 341.0a1.2 1.2 0 1 0 2.4 0a1.2 1.2 0 1 0 -2.4 0M140.0 426.7a1.2 1.2 0 1 0 2.4 0a1.2 1.2 0 1 0 -2.4 0M148.4 424.7a1.2 1.2 0 1 0 2.4 0a1.2 1.2 0 1 0 -2.4 0M263.2 388.0a1.2 1.2 0 1 0 2.4 0a1.2 1.2 0 1 0 -2.4 0M461.8 290.6a1.2 1.2 0 1 0 2.4 0a1.2 1.2 0 1 0 -2.4 0M117.7 428.0a1.2 1.2 0 1 0 2.4 0a1.2 1.2 0 1 0 -2.4 0M115.9 416.1a1.2 1.2 0 1 0 2.4 0a1.2 1.2 0 1 0 -2.4 0M407.5 284.9a1.2 1.2 0 1 0 2.4 0a1.2 1.2 0 1 0 -2.4 0M421.6 318.7a1.2 1.2 0 1 0 2.4 0a1.2 1.2 0 1 0 -2.4 0M305.2 384.5a1.2 1.2 0 1 0 2.4 0a1.2 1.2 0 1 0 -2.4 0M293.4 403.4a1.2 1.2 0 1 0 2.4 0a1.2 1.2 0 1 0 -2.4 0M159.7 419.2a1.2 1.2 0 1 0 2.4 0a1.2 1.2 0 1 0 -2.4 0M165.9 427.9a1.2 1.2 0 1 0 2.4 0a1.2 1.2 0 1 0 -2.4 0M150.1 413.5a1.2 1.2 0 1 0 2.4 0a1.2 1.2 0 1 0 -2.4 0M196.5 417.8a1.2 1.2 0 1 0 2.4 0a1.2 1.2 0 1 0 -2.4 0M454.2 333.0a1.2 1.2 0 1 0 2.4 0a1.2 1.2 0 1 0 -2.4 0M336.9 315.5a1.2 1.2 0 1 0 2.4 0a1.2 1.2 0 1 0 -2.4 0M348.4 284.1a1.2 1.2 0 1 0 2.4 0a1.2 1.2 0 1 0 -2.4 0M507.8 251.7a1.2 1.2 0 1 0 2.4 0a1.2 1.2 0 1 0 -2.4 0M225.6 429.5a1.2 1.2 0 1 0 2.4 0a1.2 1.2 0 1 0 -2.4 0M297.5 339.1a1.2 1.2 0 1 0 2.4 0a1.2 1.2 0 1 0 -2.4 0M435.3 238.5a1.2 1.2 0 1 0 2.4 0a1.2 1.2 0 1 0 -2.4 0M355.8 328.9a1.2 1.2 0 1 0 2.4 0a1.2 1.2 0 1 0 -2.4 0M208.1 429.0a1.2 1.2 0 1 0 2.4 0a1.2 1.2 0 1 0 -2.4 0M168.2 421.0a1.2 1.2 0 1 0 2.4 0a1.2 1.2 0 1 0 -2.4 0M241.3 379.1a1.2 1.2 0 1 0 2.4 0a1.2 1.2 0 1 0 -2.4 0M223.7 425.3a1.2 1.2 0 1 0 2.4 0a1.2 1.2 0 1 0 -2.4 0M192.0 412.4a1.2 1.2 0 1 0 2.4 0a1.2 1.2 0 1 0 -2.4 0M441.2 262.9a1.2 1.2 0 1 0 2.4 0a1.2 1.2 0 1 0 -2.4 0M156.9 429.1a1.2 1.2 0 1 0 2.4 0a1.2 1.2 0 1 0 -2.4 0M413.1 319.8a1.2 1.2 0 1 0 2.4 0a1.2 1.2 0 1 0 -2.4 0M215.2 372.5a1.2 1.2 0 1 0 2.4 0a1.2 1.2 0 1 0 -2.4 0M350.6 368.0a1.2 1.2 0 1 0 2.4 0a1.2 1.2 0 1 0 -2.4 0M260.4 368.9a1.2 1.2 0 1 0 2.4 0a1.2 1.2 0 1 0 -2.4 0M296.2 356.0a1.2 1.2 0 1 0 2.4 0a1.2 1.2 0 1 0 -2.4 0M126.3 428.3a1.2 1.2 0 1 0 2.4 0a1.2 1.2 0 1 0 -2.4 0M510.7 213.9a1.2 1.2 0 1 0 2.4 0a1.2 1.2 0 1 0 -2.4 0M179.7 402.7a1.2 1.2 0 1 0 2.4 0a1.2 1.2 0 1 0 -2.4 0M414.5 308.2a1.2 1.2 0 1 0 2.4 0a1.2 1.2 0 1 0 -2.4 0M507.5 269.4a1.2 1.2 0 1 0 2.4 0a1.2 1.2 0 1 0 -2.4 0M220.2 413.5a1.2 1.2 0 1 0 2.4 0a1.2 1.2 0 1 0 -2.4 0M512.0 295.7a1.2 1.2 0 1 0 2.4 0a1.2 1.2 0 1 0 -2.4 0M290.9 406.0a1.2 1.2 0 1 0 2.4 0a1.2 1.2 0 1 0 -2.4 0M290.9 364.5a1.2 1.2 0 1 0 2.4 0a1.2 1.2 0 1 0 -2.4 0M232.8 428.4a1.2 1.2 0 1 0 2.4 0a1.2 1.2 0 1 0 -2.4 0M203.4 400.6a1.2 1.2 0 1 0 2.4 0a1.2 1.2 0 1 0 -2.4 0M160.3 424.8a1.2 1.2 0 1 0 2.4 0a1.2 1.2 0 1 0 -2.4 0M433.0 287.7a1.2 1.2 0 1 0 2.4 0a1.2 1.2 0 1 0 -2.4 0M202.7 412.0a1.2 1.2 0 1 0 2.4 0a1.2 1.2 0 1 0 -2.4 0M256.6 389.7a1.2 1.2 0 1 0 2.4 0a1.2 1.2 0 1 0 -2.4 0M253.3 392.1a1.2 1.2 0 1 0 2.4 0a1.2 1.2 0 1 0 -2.4 0M365.5 319.0a1.2 1.2 0 1 0 2.4 0a1.2 1.2 0 1 0 -2.4 0M154.0 428.4a1.2 1.2 0 1 0 2.4 0a1.2 1.2 0 1 0 -2.4 0M443.5 258.3a1.2 1.2 0 1 0 2.4 0a1.2 1.2 0 1 0 -2.4 0M148.2 402.8a1.2 1.2 0 1 0 2.4 0a1.2 1.2 0 1 0 -2.4 0M363.6 363.6a1.2 1.2 0 1 0 2.4 0a1.2 1.2 0 1 0 -2.4 0M460.3 234.1a1.2 1.2 0 1 0 2.4 0a1.2 1.2 0 1 0 -2.4 0M208.6 415.9a1.2 1.2 0 1 0 2.4 0a1.2 1.2 0 1 0 -2.4 0M206.9 409.9a1.2 1.2 0 1 0 2.4 0a1.2 1.2 0 1 0 -2.4 0M430.0 254.7a1.2 1.2 0 1 0 2.4 0a1.2 1.2 0 1 0 -2.4 0M373.9 322.9a1.2 1.2 0 1 0 2.4 0a1.2 1.2 0 1 0 -2.4 0M165.4 428.4a1.2 1.2 0 1 0 2.4 0a1.2 1.2 0 1 0 -2.4 0M482.5 240.6a1.2 1.2 0 1 0 2.4 0a1.2 1.2 0 1 0 -2.4 0M453.8 284.0a1.2 1.2 0 1 0 2.4 0a1.2 1.2 0 1 0 -2.4 0M315.4 387.8a1.2 1.2 0 1 0 2.4 0a1.2 1.2 0 1 0 -2.4 0M422.6 342.0a1.2 1.2 0 1 0 2.4 0a1.2 1.2 0 1 0 -2.4 0M256.9 385.6a1.2 1.2 0 1 0 2.4 0a1.2 1.2 0 1 0 -2.4 0M183.8 384.4a1.2 1.2 0 1 0 2.4 0a1.2 1.2 0 1 0 -2.4 0M427.0 313.2a1.2 1.2 0 1 0 2.4 0a1.2 1.2 0 1 0 -2.4 0M258.5 390.2a1.2 1.2 0 1 0 2.4 0a1.2 1.2 0 1 0 -2.4 0M504.0 277.5a1.2 1.2 0 1 0 2.4 0a1.2 1.2 0 1 0 -2.4 0M205.6 409.2a1.2 1.2 0 1 0 2.4 0a1.2 1.2 0 1 0 -2.4 0M359.5 341.8a1.2 1.2 0 1 0 2.4 0a1.2 1.2 0 1 0 -2.4 0M379.0 325.8a1.2 1.2 0 1 0 2.4 0a1.2 1.2 0 1 0 -2.4 0M477.8 231.2a1.2 1.2 0 1 0 2.4 0a1.2 1.2 0 1 0 -2.4 0M497.3 231.3a1.2 1.2 0 1 0 2.4 0a1.2 1.2 0 1 0 -2.4 0M485.2 211.5a1.2 1.2 0 1 0 2.4 0a1.2 1.2 0 1 0 -2.4 0M334.6 372.8a1.2 1.2 0 1 0 2.4 0a1.2 1.2 0 1 0 -2.4 0M499.7 257.5a1.2 1.2 0 1 0 2.4 0a1.2 1.2 0 1 0 -2.4 0M115.9 423.0a1.2 1.2 0 1 0 2.4 0a1.2 1.2 0 1 0 -2.4 0M99.7 428.6a1.2 1.2 0 1 0 2.4 0a1.2 1.2 0 1 0 -2.4 0M397.6 301.5a1.2 1.2 0 1 0 2.4 0a1.2 1.2 0 1 0 -2.4 0M348.1 368.1a1.2 1.2 0 1 0 2.4 0a1.2 1.2 0 1 0 -2.4 0M376.2 279.1a1.2 1.2 0 1 0 2.4 0a1.2 1.2 0 1 0 -2.4 0M442.4 322.4a1.2 1.2 0 1 0 2.4 0a1.2 1.2 0 1 0 -2.4 0M510.2 302.4a1.2 1.2 0 1 0 2.4 0a1.2 1.2 0 1 0 -2.4 0M375.6 354.0a1.2 1.2 0 1 0 2.4 0a1.2 1.2 0 1 0 -2.4 0M391.2 282.7a1.2 1.2 0 1 0 2.4 0a1.2 1.2 0 1 0 -2.4 0M365.5 357.6a1.2 1.2 0 1 0 2.4 0a1.2 1.2 0 1 0 -2.4 0M280.5 414.6a1.2 1.2 0 1 0 2.4 0a1.2 1.2 0 1 0 -2.4 0M283.0 328.0a1.2 1.2 0 1 0 2.4 0a1.2 1.2 0 1 0 -2.4 0M180.5 409.9a1.2 1.2 0 1 0 2.4 0a1.2 1.2 0 1 0 -2.4 0M357.2 354.0a1.2 1.2 0 1 0 2.4 0a1.2 1.2 0 1 0 -2.4 0M238.0 425.9a1.2 1.2 0 1 0 2.4 0a1.2 1.2 0 1 0 -2.4 0M94.7 429.2a1.2 1.2 0 1 0 2.4 0a1.2 1.2 0 1 0 -2.4 0M483.8 232.1a1.2 1.2 0 1 0 2.4 0a1.2 1.2 0 1 0 -2.4 0M335.6 317.5a1.2 1.2 0 1 0 2.4 0a1.2 1.2 0 1 0 -2.4 0M355.1 340.2a1.2 1.2 0 1 0 2.4 0a1.2 1.2 0 1 0 -2.4 0M406.1 291.5a1.2 1.2 0 1 0 2.4 0a1.2 1.2 0 1 0 -2.4 0M202.7 391.8a1.2 1.2 0 1 0 2.4 0a1.2 1.2 0 1 0 -2.4 0M252.0 407.9a1.2 1.2 0 1 0 2.4 0a1.2 1.2 0 1 0 -2.4 0M510.0 252.3a1.2 1.2 0 1 0 2.4 0a1.2 1.2 0 1 0 -2.4 0M193.7 418.6a1.2 1.2 0 1 0 2.4 0a1.2 1.2 0 1 0 -2.4 0M248.4 425.9a1.2 1.2 0 1 0 2.4 0a1.2 1.2 0 1 0 -2.4 0M476.6 278.8a1.2 1.2 0 1 0 2.4 0a1.2 1.2 0 1 0 -2.4 0M197.5 395.2a1.2 1.2 0 1 0 2.4 0a1.2 1.2 0 1 0 -2.4 0M147.9 419.2a1.2 1.2 0 1 0 2.4 0a1.2 1.2 0 1 0 -2.4 0M161.0 399.5a1.2 1.2 0 1 0 2.4 0a1.2 1.2 0 1 0 -2.4 0M165.0 390.2a1.2 1.2 0 1 0 2.4 0a1.2 1.2 0 1 0 -2.4 0M182.4 410.5a1.2 1.2 0 1 0 2.4 0a1.2 1.2 0 1 0 -2.4 0M103.7 427.7a1.2 1.2 0 1 0 2.4 0a1.2 1.2 0 1 0 -2.4 0M375.1 300.0a1.2 1.2 0 1 0 2.4 0a1.2 1.2 0 1 0 -2.4 0M397.2 342.5a1.2 1.2 0 1 0 2.4 0a1.2 1.2 0 1 0 -2.4 0M396.4 310.0a1.2 1.2 0 1 0 2.4 0a1.2 1.2 0 1 0 -2.4 0M298.9 350.6a1.2 1.2 0 1 0 2.4 0a1.2 1.2 0 1 0 -2.4 0M292.0 391.9a1.2 1.2 0 1 0 2.4 0a1.2 1.2 0 1 0 -2.4 0M437.3 249.0a1.2 1.2 0 1 0 2.4 0a1.2 1.2 0 1 0 -2.4 0M364.0 352.2a1.2 1.2 0 1 0 2.4 0a1.2 1.2 0 1 0 -2.4 0M469.3 267.4a1.2 1.2 0 1 0 2.4 0a1.2 1.2 0 1 0 -2.4 0M328.2 305.7a1.2 1.2 0 1 0 2.4 0a1.2 1.2 0 1 0 -2.4 0M496.7 235.0a1.2 1.2 0 1 0 2.4 0a1.2 1.2 0 1 0 -2.4 0M324.8 334.5a1.2 1.2 0 1 0 2.4 0a1.2 1.2 0 1 0 -2.4 0M448.0 278.2a1.2 1.2 0 1 0 2.4 0a1.2 1.2 0 1 0 -2.4 0M357.7 343.7a1.2 1.2 0 1 0 2.4 0a1.2 1.2 0 1 0 -2.4 0M494.9 226.0a1.2 1.2 0 1 0 2.4 0a1.2 1.2 0 1 0 -2.4 0M351.3 292.9a1.2 1.2 0 1 0 2.4 0a1.2 1.2 0 1 0 -2.4 0M171.8 428.7a1.2 1.2 0 1 0 2.4 0a1.2 1.2 0 1 0 -2.4 0M350.7 298.2a1.2 1.2 0 1 0 2.4 0a1.2 1.2 0 1 0 -2.4 0M189.9 374.7a1.2 1.2 0 1 0 2.4 0a1.2 1.2 0 1 0 -2.4 0M445.5 343.8a1.2 1.2 0 1 0 2.4 0a1.2 1.2 0 1 0 -2.4 0M512.3 224.3a1.2 1.2 0 1 0 2.4 0a1.2 1.2 0 1 0 -2.4 0M437.5 332.2a1.2 1.2 0 1 0 2.4 0a1.2 1.2 0 1 0 -2.4 0M296.1 342.2a1.2 1.2 0 1 0 2.4 0a1.2 1.2 0 1 0 -2.4 0M273.7 410.1a1.2 1.2 0 1 0 2.4 0a1.2 1.2 0 1 0 -2.4 0M454.5 348.0a1.2 1.2 0 1 0 2.4 0a1.2 1.2 0 1 0 -2.4 0M139.6 426.4a1.2 1.2 0 1 0 2.4 0a1.2 1.2 0 1 0 -2.4 0M383.0 284.5a1.2 1.2 0 1 0 2.4 0a1.2 1.2 0 1 0 -2.4 0M179.5 410.3a1.2 1.2 0 1 0 2.4 0a1.2 1.2 0 1 0 -2.4 0M138.0 428.8a1.2 1.2 0 1 0 2.4 0a1.2 1.2 0 1 0 -2.4 0M466.0 252.7a1.2 1.2 0 1 0 2.4 0a1.2 1.2 0 1 0 -2.4 0M141.2 421.3a1.2 1.2 0 1 0 2.4 0a1.2 1.2 0 1 0 -2.4 0M221.1 413.7a1.2 1.2 0 1 0 2.4 0a1.2 1.2 0 1 0 -2.4 0M284.6 378.5a1.2 1.2 0 1 0 2.4 0a1.2 1.2 0 1 0 -2.4 0M192.2 401.1a1.2 1.2 0 1 0 2.4 0a1.2 1.2 0 1 0 -2.4 0M441.5 343.8a1.2 1.2 0 1 0 2.4 0a1.2 1.2 0 1 0 -2.4 0M508.9 201.0a1.2 1.2 0 1 0 2.4 0a1.2 1.2 0 1 0 -2.4 0M103.1 427.0a1.2 1.2 0 1 0 2.4 0a1.2 1.2 0 1 0 -2.4 0M469.3 302.0a1.2 1.2 0 1 0 2.4 0a1.2 1.2 0 1 0 -2.4 0M268.4 409.6a1.2 1.2 0 1 0 2.4 0a1.2 1.2 0 1 0 -2.4 0M359.5 326.0a1.2 1.2 0 1 0 2.4 0a1.2 1.2 0 1 0 -2.4 0M286.5 411.2a1.2 1.2 0 1 0 2.4 0a1.2 1.2 0 1 0 -2.4 0M269.6 401.0a1.2 1.2 0 1 0 2.4 0a1.2 1.2 0 1 0 -2.4 0M274.5 384.9a1.2 1.2 0 1 0 2.4 0a1.2 1.2 0 1 0 -2.4 0M412.0 270.4a1.2 1.2 0 1 0 2.4 0a1.2 1.2 0 1 0 -2.4 0M180.5 399.8a1.2 1.2 0 1 0 2.4 0a1.2 1.2 0 1 0 -2.4 0M497.2 197.8a1.2 1.2 0 1 0 2.4 0a1.2 1.2 0 1 0 -2.4 0M428.5 292.3a1.2 1.2 0 1 0 2.4 0a1.2 1.2 0 1 0 -2.4 0M153.1 406.8a1.2 1.2 0 1 0 2.4 0a1.2 1.2 0 1 0 -2.4 0M94.3 422.8a1.2 1.2 0 1 0 2.4 0a1.2 1.2 0 1 0 -2.4 0M228.5 398.4a1.2 1.2 0 1 0 2.4 0a1.2 1.2 0 1 0 -2.4 0M181.9 411.1a1.2 1.2 0 1 0 2.4 0a1.2 1.2 0 1 0 -2.4 0M404.7 344.2a1.2 1.2 0 1 0 2.4 0a1.2 1.2 0 1 0 -2.4 0M124.7 428.5a1.2 1.2 0 1 0 2.4 0a1.2 1.2 0 1 0 -2.4 0M226.6 386.1a1.2 1.2 0 1 0 2.4 0a1.2 1.2 0 1 0 -2.4 0M209.7 394.2a1.2 1.2 0 1 0 2.4 0a1.2 1.2 0 1 0 -2.4 0M418.6 288.2a1.2 1.2 0 1 0 2.4 0a1.2 1.2 0 1 0 -2.4 0M483.5 287.4a1.2 1.2 0 1 0 2.4 0a1.2 1.2 0 1 0 -2.4 0M300.5 318.4a1.2 1.2 0 1 0 2.4 0a1.2 1.2 0 1 0 -2.4 0M253.6 418.0a1.2 1.2 0 1 0 2.4 0a1.2 1.2 0 1 0 -2.4 0M225.6 395.6a1.2 1.2 0 1 0 2.4 0a1.2 1.2 0 1 0 -2.4 0M308.3 380.4a1.2 1.2 0 1 0 2.4 0a1.2 1.2 0 1 0 -2.4 0M218.6 392.0a1.2 1.2 0 1 0 2.4 0a1.2 1.2 0 1 0 -2.4 0M390.4 317.2a1.2 1.2 0 1 0 2.4 0a1.2 1.2 0 1 0 -2.4 0M107.4 427.8a1.2 1.2 0 1 0 2.4 0a1.2 1.2 0 1 0 -2.4 0M462.3 276.2a1.2 1.2 0 1 0 2.4 0a1.2 1.2 0 1 0 -2.4 0M195.9 419.4a1.2 1.2 0 1 0 2.4 0a1.2 1.2 0 1 0 -2.4 0M92.0 428.8a1.2 1.2 0 1 0 2.4 0a1.2 1.2 0 1 0 -2.4 0M399.4 309.6a1.2 1.2 0 1 0 2.4 0a1.2 1.2 0 1 0 -2.4 0M274.1 410.1a1.2 1.2 0 1 0 2.4 0a1.2 1.2 0 1 0 -2.4 0M230.6 364.9a1.2 1.2 0 1 0 2.4 0a1.2 1.2 0 1 0 -2.4 0M318.3 385.3a1.2 1.2 0 1 0 2.4 0a1.2 1.2 0 1 0 -2.4 0M470.9 281.5a1.2 1.2 0 1 0 2.4 0a1.2 1.2 0 1 0 -2.4 0M243.8 392.5a1.2 1.2 0 1 0 2.4 0a1.2 1.2 0 1 0 -2.4 0M406.5 278.7a1.2 1.2 0 1 0 2.4 0a1.2 1.2 0 1 0 -2.4 0M333.2 323.2a1.2 1.2 0 1 0 2.4 0a1.2 1.2 0 1 0 -2.4 0M134.3 422.6a1.2 1.2 0 1 0 2.4 0a1.2 1.2 0 1 0 -2.4 0M387.6 266.8a1.2 1.2 0 1 0 2.4 0a1.2 1.2 0 1 0 -2.4 0M431.8 324.0a1.2 1.2 0 1 0 2.4 0a1.2 1.2 0 1 0 -2.4 0M281.4 346.1a1.2 1.2 0 1 0 2.4 0a1.2 1.2 0 1 0 -2.4 0M259.8 358.4a1.2 1.2 0 1 0 2.4 0a1.2 1.2 0 1 0 -2.4 0M412.3 320.0a1.2 1.2 0 1 0 2.4 0a1.2 1.2 0 1 0 -2.4 0M383.0 342.9a1.2 1.2 0 1 0 2.4 0a1.2 1.2 0 1 0 -2.4 0M193.7 385.4a1.2 1.2 0 1 0 2.4 0a1.2 1.2 0 1 0 -2.4 0M462.8 299.0a1.2 1.2 0 1 0 2.4 0a1.2 1.2 0 1 0 -2.4 0M470.8 277.3a1.2 1.2 0 1 0 2.4 0a1.2 1.2 0 1 0 -2.4 0M420.3 255.2a1.2 1.2 0 1 0 2.4 0a1.2 1.2 0 1 0 -2.4 0M198.2 422.1a1.2 1.2 0 1 0 2.4 0a1.2 1.2 0 1 0 -2.4 0M491.6 244.3a1.2 1.2 0 1 0 2.4 0a1.2 1.2 0 1 0 -2.4 0M402.4 357.2a1.2 1.2 0 1 0 2.4 0a1.2 1.2 0 1 0 -2.4 0M99.9 417.9a1.2 1.2 0 1 0 2.4 0a1.2 1.2 0 1 0 -2.4 0M448.3 309.1a1.2 1.2 0 1 0 2.4 0a1.2 1.2 0 1 0 -2.4 0M303.1 340.4a1.2 1.2 0 1 0 2.4 0a1.2 1.2 0 1 0 -2.4 0M156.6 413.5a1.2 1.2 0 1 0 2.4 0a1.2 1.2 0 1 0 -2.4 0M369.6 302.9a1.2 1.2 0 1 0 2.4 0a1.2 1.2 0 1 0 -2.4 0M183.9 422.6a1.2 1.2 0 1 0 2.4 0a1.2 1.2 0 1 0 -2.4 0M307.4 371.7a1.2 1.2 0 1 0 2.4 0a1.2 1.2 0 1 0 -2.4 0M165.8 401.1a1.2 1.2 0 1 0 2.4 0a1.2 1.2 0 1 0 -2.4 0M187.5 419.2a1.2 1.2 0 1 0 2.4 0a1.2 1.2 0 1 0 -2.4 0M466.4 273.2a1.2 1.2 0 1 0 2.4 0a1.2 1.2 0 1 0 -2.4 0M433.1 319.7a1.2 1.2 0 1 0 2.4 0a1.2 1.2 0 1 0 -2.4 0M193.3 420.1a1.2 1.2 0 1 0 2.4 0a1.2 1.2 0 1 0 -2.4 0M484.9 242.4a1.2 1.2 0 1 0 2.4 0a1.2 1.2 0 1 0 -2.4 0M236.4 427.9a1.2 1.2 0 1 0 2.4 0a1.2 1.2 0 1 0 -2.4 0M151.5 412.7a1.2 1.2 0 1 0 2.4 0a1.2 1.2 0 1 0 -2.4 0M375.2 333.1a1.2 1.2 0 1 0 2.4 0a1.2 1.2 0 1 0 -2.4 0M346.7 354.2a1.2 1.2 0 1 0 2.4 0a1.2 1.2 0 1 0 -2.4 0M310.4 361.2a1.2 1.2 0 1 0 2.4 0a1.2 1.2 0 1 0 -2.4 0M500.3 297.6a1.2 1.2 0 1 0 2.4 0a1.2 1.2 0 1 0 -2.4 0M227.2 368.2a1.2 1.2 0 1 0 2.4 0a1.2 1.2 0 1 0 -2.4 0M344.7 363.9a1.2 1.2 0 1 0 2.4 0a1.2 1.2 0 1 0 -2.4 0M388.8 326.9a1.2 1.2 0 1 0 2.4 0a1.2 1.2 0 1 0 -2.4 0M375.6 279.6a1.2 1.2 0 1 0 2.4 0a1.2 1.2 0 1 0 -2.4 0M238.4 403.3a1.2 1.2 0 1 0 2.4 0a1.2 1.2 0 1 0 -2.4 0M87.9 427.4a1.2 1.2 0 1 0 2.4 0a1.2 1.2 0 1 0 -2.4 0M232.7 378.7a1.2 1.2 0 1 0 2.4 0a1.2 1.2 0 1 0 -2.4 0M163.2 395.2a1.2 1.2 0 1 0 2.4 0a1.2 1.2 0 1 0 -2.4 0M352.7 279.8a1.2 1.2 0 1 0 2.4 0a1.2 1.2 0 1 0 -2.4 0M193.8 389.6a1.2 1.2 0 1 0 2.4 0a1.2 1.2 0 1 0 -2.4 0M158.8 416.9a1.2 1.2 0 1 0 2.4 0a1.2 1.2 0 1 0 -2.4 0M271.8 345.5a1.2 1.2 0 1 0 2.4 0a1.2 1.2 0 1 0 -2.4 0M323.3 382.3a1.2 1.2 0 1 0 2.4 0a1.2 1.2 0 1 0 -2.4 0M114.5 420.7a1.2 1.2 0 1 0 2.4 0a1.2 1.2 0 1 0 -2.4 0M488.0 274.8a1.2 1.2 0 1 0 2.4 0a1.2 1.2 0 1 0 -2.4 0M174.4 423.1a1.2 1.2 0 1 0 2.4 0a1.2 1.2 0 1 0 -2.4 0M250.6 382.3a1.2 1.2 0 1 0 2.4 0a1.2 1.2 0 1 0 -2.4 0M215.0 389.7a1.2 1.2 0 1 0 2.4 0a1.2 1.2 0 1 0 -2.4 0M495.9 327.0a1.2 1.2 0 1 0 2.4 0a1.2 1.2 0 1 0 -2.4 0M455.4 233.8a1.2 1.2 0 1 0 2.4 0a1.2 1.2 0 1 0 -2.4 0M158.3 420.3a1.2 1.2 0 1 0 2.4 0a1.2 1.2 0 1 0 -2.4 0M464.1 293.9a1.2 1.2 0 1 0 2.4 0a1.2 1.2 0 1 0 -2.4 0M338.6 373.4a1.2 1.2 0 1 0 2.4 0a1.2 1.2 0 1 0 -2.4 0M226.3 386.7a1.2 1.2 0 1 0 2.4 0a1.2 1.2 0 1 0 -2.4 0M496.0 272.1a1.2 1.2 0 1 0 2.4 0a1.2 1.2 0 1 0 -2.4 0M404.7 337.1a1.2 1.2 0 1 0 2.4 0a1.2 1.2 0 1 0 -2.4 0M174.1 418.2a1.2 1.2 0 1 0 2.4 0a1.2 1.2 0 1 0 -2.4 0M507.1 278.3a1.2 1.2 0 1 0 2.4 0a1.2 1.2 0 1 0 -2.4 0M361.8 304.0a1.2 1.2 0 1 0 2.4 0a1.2 1.2 0 1 0 -2.4 0M368.9 291.0a1.2 1.2 0 1 0 2.4 0a1.2 1.2 0 1 0 -2.4 0M287.8 393.9a1.2 1.2 0 1 0 2.4 0a1.2 1.2 0 1 0 -2.4 0M255.4 369.9a1.2 1.2 0 1 0 2.4 0a1.2 1.2 0 1 0 -2.4 0M90.3 423.1a1.2 1.2 0 1 0 2.4 0a1.2 1.2 0 1 0 -2.4 0M411.2 343.1a1.2 1.2 0 1 0 2.4 0a1.2 1.2 0 1 0 -2.4 0M344.7 283.8a1.2 1.2 0 1 0 2.4 0a1.2 1.2 0 1 0 -2.4 0M394.7 292.9a1.2 1.2 0 1 0 2.4 0a1.2 1.2 0 1 0 -2.4 0M253.0 418.8a1.2 1.2 0 1 0 2.4 0a1.2 1.2 0 1 0 -2.4 0M413.9 257.6a1.2 1.2 0 1 0 2.4 0a1.2 1.2 0 1 0 -2.4 0M150.0 395.9a1.2 1.2 0 1 0 2.4 0a1.2 1.2 0 1 0 -2.4 0M513.0 315.6a1.2 1.2 0 1 0 2.4 0a1.2 1.2 0 1 0 -2.4 0M418.6 339.4a1.2 1.2 0 1 0 2.4 0a1.2 1.2 0 1 0 -2.4 0M245.5 421.3a1.2 1.2 0 1 0 2.4 0a1.2 1.2 0 1 0 -2.4 0M362.0 344.9a1.2 1.2 0 1 0 2.4 0a1.2 1.2 0 1 0 -2.4 0M150.3 428.7a1.2 1.2 0 1 0 2.4 0a1.2 1.2 0 1 0 -2.4 0M344.0 322.5a1.2 1.2 0 1 0 2.4 0a1.2 1.2 0 1 0 -2.4 0M478.9 299.5a1.2 1.2 0 1 0 2.4 0a1.2 1.2 0 1 0 -2.4 0M409.3 277.4a1.2 1.2 0 1 0 2.4 0a1.2 1.2 0 1 0 -2.4 0M410.0 349.3a1.2 1.2 0 1 0 2.4 0a1.2 1.2 0 1 0 -2.4 0M413.7 267.3a1.2 1.2 0 1 0 2.4 0a1.2 1.2 0 1 0 -2.4 0M207.3 412.3a1.2 1.2 0 1 0 2.4 0a1.2 1.2 0 1 0 -2.4 0M393.9 262.7a1.2 1.2 0 1 0 2.4 0a1.2 1.2 0 1 0 -2.4 0M137.6 428.4a1.2 1.2 0 1 0 2.4 0a1.2 1.2 0 1 0 -2.4 0M220.6 358.3a1.2 1.2 0 1 0 2.4 0a1.2 1.2 0 1 0 -2.4 0M169.5 404.1a1.2 1.2 0 1 0 2.4 0a1.2 1.2 0 1 0 -2.4 0M378.0 280.1a1.2 1.2 0 1 0 2.4 0a1.2 1.2 0 1 0 -2.4 0M440.4 252.7a1.2 1.2 0 1 0 2.4 0a1.2 1.2 0 1 0 -2.4 0M507.6 262.3a1.2 1.2 0 1 0 2.4 0a1.2 1.2 0 1 0 -2.4 0M463.6 310.1a1.2 1.2 0 1 0 2.4 0a1.2 1.2 0 1 0 -2.4 0M409.8 279.0a1.2 1.2 0 1 0 2.4 0a1.2 1.2 0 1 0 -2.4 0M451.9 254.2a1.2 1.2 0 1 0 2.4 0a1.2 1.2 0 1 0 -2.4 0M458.1 274.1a1.2 1.2 0 1 0 2.4 0a1.2 1.2 0 1 0 -2.4 0M304.5 361.7a1.2 1.2 0 1 0 2.4 0a1.2 1.2 0 1 0 -2.4 0M380.7 300.5a1.2 1.2 0 1 0 2.4 0a1.2 1.2 0 1 0 -2.4 0M397.6 341.4a1.2 1.2 0 1 0 2.4 0a1.2 1.2 0 1 0 -2.4 0M117.2 417.3a1.2 1.2 0 1 0 2.4 0a1.2 1.2 0 1 0 -2.4 0M446.0 251.9a1.2 1.2 0 1 0 2.4 0a1.2 1.2 0 1 0 -2.4 0M293.4 376.6a1.2 1.2 0 1 0 2.4 0a1.2 1.2 0 1 0 -2.4 0M322.0 342.5a1.2 1.2 0 1 0 2.4 0a1.2 1.2 0 1 0 -2.4 0M269.0 369.2a1.2 1.2 0 1 0 2.4 0a1.2 1.2 0 1 0 -2.4 0M145.6 429.4a1.2 1.2 0 1 0 2.4 0a1.2 1.2 0 1 0 -2.4 0M456.7 278.8a1.2 1.2 0 1 0 2.4 0a1.2 1.2 0 1 0 -2.4 0M361.0 324.7a1.2 1.2 0 1 0 2.4 0a1.2 1.2 0 1 0 -2.4 0M239.3 402.1a1.2 1.2 0 1 0 2.4 0a1.2 1.2 0 1 0 -2.4 0M292.6 318.5a1.2 1.2 0 1 0 2.4 0a1.2 1.2 0 1 0 -2.4 0M171.1 400.7a1.2 1.2 0 1 0 2.4 0a1.2 1.2 0 1 0 -2.4 0M340.6 302.4a1.2 1.2 0 1 0 2.4 0a1.2 1.2 0 1 0 -2.4 0M283.3 386.8a1.2 1.2 0 1 0 2.4 0a1.2 1.2 0 1 0 -2.4 0M417.7 334.1a1.2 1.2 0 1 0 2.4 0a1.2 1.2 0 1 0 -2.4 0M425.7 294.3a1.2 1.2 0 1 0 2.4 0a1.2 1.2 0 1 0 -2.4 0M397.4 257.0a1.2 1.2 0 1 0 2.4 0a1.2 1.2 0 1 0 -2.4 0M294.0 325.7a1.2 1.2 0 1 0 2.4 0a1.2 1.2 0 1 0 -2.4 0M322.9 309.8a1.2 1.2 0 1 0 2.4 0a1.2 1.2 0 1 0 -2.4 0M224.8 425.1a1.2 1.2 0 1 0 2.4 0a1.2 1.2 0 1 0 -2.4 0M470.1 275.9a1.2 1.2 0 1 0 2.4 0a1.2 1.2 0 1 0 -2.4 0M238.5 403.1a1.2 1.2 0 1 0 2.4 0a1.2 1.2 0 1 0 -2.4 0M287.2 409.4a1.2 1.2 0 1 0 2.4 0a1.2 1.2 0 1 0 -2.4 0M485.6 295.1a1.2 1.2 0 1 0 2.4 0a1.2 1.2 0 1 0 -2.4 0M377.2 281.3a1.2 1.2 0 1 0 2.4 0a1.2 1.2 0 1 0 -2.4 0M437.4 331.6a1.2 1.2 0 1 0 2.4 0a1.2 1.2 0 1 0 -2.4 0M164.0 424.3a1.2 1.2 0 1 0 2.4 0a1.2 1.2 0 1 0 -2.4 0M167.5 406.1a1.2 1.2 0 1 0 2.4 0a1.2 1.2 0 1 0 -2.4 0M508.7 260.9a1.2 1.2 0 1 0 2.4 0a1.2 1.2 0 1 0 -2.4 0M361.6 323.8a1.2 1.2 0 1 0 2.4 0a1.2 1.2 0 1 0 -2.4 0M281.5 399.4a1.2 1.2 0 1 0 2.4 0a1.2 1.2 0 1 0 -2.4 0M308.8 390.5a1.2 1.2 0 1 0 2.4 0a1.2 1.2 0 1 0 -2.4 0M437.1 332.4a1.2 1.2 0 1 0 2.4 0a1.2 1.2 0 1 0 -2.4 0M358.6 312.8a1.2 1.2 0 1 0 2.4 0a1.2 1.2 0 1 0 -2.4 0M413.8 357.4a1.2 1.2 0 1 0 2.4 0a1.2 1.2 0 1 0 -2.4 0M97.3 427.9a1.2 1.2 0 1 0 2.4 0a1.2 1.2 0 1 0 -2.4 0M158.5 428.6a1.2 1.2 0 1 0 2.4 0a1.2 1.2 0 1 0 -2.4 0M501.6 266.9a1.2 1.2 0 1 0 2.4 0a1.2 1.2 0 1 0 -2.4 0M455.9 289.0a1.2 1.2 0 1 0 2.4 0a1.2 1.2 0 1 0 -2.4 0M270.6 420.3a1.2 1.2 0 1 0 2.4 0a1.2 1.2 0 1 0 -2.4 0M256.6 341.6a1.2 1.2 0 1 0 2.4 0a1.2 1.2 0 1 0 -2.4 0M151.2 425.7a1.2 1.2 0 1 0 2.4 0a1.2 1.2 0 1 0 -2.4 0M135.8 428.4a1.2 1.2 0 1 0 2.4 0a1.2 1.2 0 1 0 -2.4 0M274.7 398.2a1.2 1.2 0 1 0 2.4 0a1.2 1.2 0 1 0 -2.4 0M135.5 427.3a1.2 1.2 0 1 0 2.4 0a1.2 1.2 0 1 0 -2.4 0M428.5 305.9a1.2 1.2 0 1 0 2.4 0a1.2 1.2 0 1 0 -2.4 0M342.8 307.6a1.2 1.2 0 1 0 2.4 0a1.2 1.2 0 1 0 -2.4 0M243.7 388.4a1.2 1.2 0 1 0 2.4 0a1.2 1.2 0 1 0 -2.4 0M463.0 322.6a1.2 1.2 0 1 0 2.4 0a1.2 1.2 0 1 0 -2.4 0M175.1 429.3a1.2 1.2 0 1 0 2.4 0a1.2 1.2 0 1 0 -2.4 0M140.4 429.0a1.2 1.2 0 1 0 2.4 0a1.2 1.2 0 1 0 -2.4 0M170.3 426.6a1.2 1.2 0 1 0 2.4 0a1.2 1.2 0 1 0 -2.4 0M467.7 234.6a1.2 1.2 0 1 0 2.4 0a1.2 1.2 0 1 0 -2.4 0M120.0 410.7a1.2 1.2 0 1 0 2.4 0a1.2 1.2 0 1 0 -2.4 0M364.5 291.9a1.2 1.2 0 1 0 2.4 0a1.2 1.2 0 1 0 -2.4 0M374.4 320.3a1.2 1.2 0 1 0 2.4 0a1.2 1.2 0 1 0 -2.4 0M199.3 407.5a1.2 1.2 0 1 0 2.4 0a1.2 1.2 0 1 0 -2.4 0M272.6 356.3a1.2 1.2 0 1 0 2.4 0a1.2 1.2 0 1 0 -2.4 0M434.4 352.7a1.2 1.2 0 1 0 2.4 0a1.2 1.2 0 1 0 -2.4 0M366.1 362.3a1.2 1.2 0 1 0 2.4 0a1.2 1.2 0 1 0 -2.4 0M481.2 232.4a1.2 1.2 0 1 0 2.4 0a1.2 1.2 0 1 0 -2.4 0M504.8 302.0a1.2 1.2 0 1 0 2.4 0a1.2 1.2 0 1 0 -2.4 0M157.8 417.3a1.2 1.2 0 1 0 2.4 0a1.2 1.2 0 1 0 -2.4 0M244.9 357.3a1.2 1.2 0 1 0 2.4 0a1.2 1.2 0 1 0 -2.4 0M348.8 340.7a1.2 1.2 0 1 0 2.4 0a1.2 1.2 0 1 0 -2.4 0M482.6 335.2a1.2 1.2 0 1 0 2.4 0a1.2 1.2 0 1 0 -2.4 0M162.9 423.0a1.2 1.2 0 1 0 2.4 0a1.2 1.2 0 1 0 -2.4 0M168.8 402.7a1.2 1.2 0 1 0 2.4 0a1.2 1.2 0 1 0 -2.4 0M88.0 428.3a1.2 1.2 0 1 0 2.4 0a1.2 1.2 0 1 0 -2.4 0M384.6 335.1a1.2 1.2 0 1 0 2.4 0a1.2 1.2 0 1 0 -2.4 0M418.6 330.9a1.2 1.2 0 1 0 2.4 0a1.2 1.2 0 1 0 -2.4 0M93.7 428.6a1.2 1.2 0 1 0 2.4 0a1.2 1.2 0 1 0 -2.4 0M407.0 327.9a1.2 1.2 0 1 0 2.4 0a1.2 1.2 0 1 0 -2.4 0M315.1 344.6a1.2 1.2 0 1 0 2.4 0a1.2 1.2 0 1 0 -2.4 0M199.7 428.8a1.2 1.2 0 1 0 2.4 0a1.2 1.2 0 1 0 -2.4 0M332.8 334.3a1.2 1.2 0 1 0 2.4 0a1.2 1.2 0 1 0 -2.4 0M235.2 357.1a1.2 1.2 0 1 0 2.4 0a1.2 1.2 0 1 0 -2.4 0M407.1 302.6a1.2 1.2 0 1 0 2.4 0a1.2 1.2 0 1 0 -2.4 0M467.5 319.2a1.2 1.2 0 1 0 2.4 0a1.2 1.2 0 1 0 -2.4 0M401.8 288.0a1.2 1.2 0 1 0 2.4 0a1.2 1.2 0 1 0 -2.4 0M413.1 299.5a1.2 1.2 0 1 0 2.4 0a1.2 1.2 0 1 0 -2.4 0M202.8 416.0a1.2 1.2 0 1 0 2.4 0a1.2 1.2 0 1 0 -2.4 0M383.7 292.8a1.2 1.2 0 1 0 2.4 0a1.2 1.2 0 1 0 -2.4 0M249.8 385.2a1.2 1.2 0 1 0 2.4 0a1.2 1.2 0 1 0 -2.4 0M213.2 380.4a1.2 1.2 0 1 0 2.4 0a1.2 1.2 0 1 0 -2.4 0M333.4 302.3a1.2 1.2 0 1 0 2.4 0a1.2 1.2 0 1 0 -2.4 0M410.6 325.9a1.2 1.2 0 1 0 2.4 0a1.2 1.2 0 1 0 -2.4 0M474.5 253.9a1.2 1.2 0 1 0 2.4 0a1.2 1.2 0 1 0 -2.4 0M468.5 231.2a1.2 1.2 0 1 0 2.4 0a1.2 1.2 0 1 0 -2.4 0M386.8 321.1a1.2 1.2 0 1 0 2.4 0a1.2 1.2 0 1 0 -2.4 0M328.3 355.5a1.2 1.2 0 1 0 2.4 0a1.2 1.2 0 1 0 -2.4 0M412.5 261.4a1.2 1.2 0 1 0 2.4 0a1.2 1.2 0 1 0 -2.4 0M439.0 346.3a1.2 1.2 0 1 0 2.4 0a1.2 1.2 0 1 0 -2.4 0M133.6 414.0a1.2 1.2 0 1 0 2.4 0a1.2 1.2 0 1 0 -2.4 0M384.7 288.1a1.2 1.2 0 1 0 2.4 0a1.2 1.2 0 1 0 -2.4 0M179.4 428.5a1.2 1.2 0 1 0 2.4 0a1.2 1.2 0 1 0 -2.4 0M255.9 396.9a1.2 1.2 0 1 0 2.4 0a1.2 1.2 0 1 0 -2.4 0M115.8 417.3a1.2 1.2 0 1 0 2.4 0a1.2 1.2 0 1 0 -2.4 0M490.4 318.7a1.2 1.2 0 1 0 2.4 0a1.2 1.2 0 1 0 -2.4 0M338.0 297.9a1.2 1.2 0 1 0 2.4 0a1.2 1.2 0 1 0 -2.4 0M367.1 353.8a1.2 1.2 0 1 0 2.4 0a1.2 1.2 0 1 0 -2.4 0M269.0 400.3a1.2 1.2 0 1 0 2.4 0a1.2 1.2 0 1 0 -2.4 0M229.9 391.5a1.2 1.2 0 1 0 2.4 0a1.2 1.2 0 1 0 -2.4 0M185.3 428.1a1.2 1.2 0 1 0 2.4 0a1.2 1.2 0 1 0 -2.4 0M191.4 383.8a1.2 1.2 0 1 0 2.4 0a1.2 1.2 0 1 0 -2.4 0M441.0 278.7a1.2 1.2 0 1 0 2.4 0a1.2 1.2 0 1 0 -2.4 0M144.6 429.3a1.2 1.2 0 1 0 2.4 0a1.2 1.2 0 1 0 -2.4 0M481.9 246.9a1.2 1.2 0 1 0 2.4 0a1.2 1.2 0 1 0 -2.4 0M97.2 429.1a1.2 1.2 0 1 0 2.4 0a1.2 1.2 0 1 0 -2.4 0M508.4 314.2a1.2 1.2 0 1 0 2.4 0a1.2 1.2 0 1 0 -2.4 0M433.9 290.2a1.2 1.2 0 1 0 2.4 0a1.2 1.2 0 1 0 -2.4 0M431.6 265.7a1.2 1.2 0 1 0 2.4 0a1.2 1.2 0 1 0 -2.4 0M421.4 357.4a1.2 1.2 0 1 0 2.4 0a1.2 1.2 0 1 0 -2.4 0M400.5 294.7a1.2 1.2 0 1 0 2.4 0a1.2 1.2 0 1 0 -2.4 0M479.1 256.2a1.2 1.2 0 1 0 2.4 0a1.2 1.2 0 1 0 -2.4 0M149.0 408.6a1.2 1.2 0 1 0 2.4 0a1.2 1.2 0 1 0 -2.4 0M398.0 307.5a1.2 1.2 0 1 0 2.4 0a1.2 1.2 0 1 0 -2.4 0M109.6 427.1a1.2 1.2 0 1 0 2.4 0a1.2 1.2 0 1 0 -2.4 0M239.7 403.7a1.2 1.2 0 1 0 2.4 0a1.2 1.2 0 1 0 -2.4 0M397.4 320.2a1.2 1.2 0 1 0 2.4 0a1.2 1.2 0 1 0 -2.4 0M331.5 336.2a1.2 1.2 0 1 0 2.4 0a1.2 1.2 0 1 0 -2.4 0M302.3 373.5a1.2 1.2 0 1 0 2.4 0a1.2 1.2 0 1 0 -2.4 0M110.5 428.1a1.2 1.2 0 1 0 2.4 0a1.2 1.2 0 1 0 -2.4 0M396.5 266.9a1.2 1.2 0 1 0 2.4 0a1.2 1.2 0 1 0 -2.4 0M304.5 383.2a1.2 1.2 0 1 0 2.4 0a1.2 1.2 0 1 0 -2.4 0M503.1 209.0a1.2 1.2 0 1 0 2.4 0a1.2 1.2 0 1 0 -2.4 0M292.8 404.6a1.2 1.2 0 1 0 2.4 0a1.2 1.2 0 1 0 -2.4 0M376.0 316.0a1.2 1.2 0 1 0 2.4 0a1.2 1.2 0 1 0 -2.4 0M247.7 373.2a1.2 1.2 0 1 0 2.4 0a1.2 1.2 0 1 0 -2.4 0M359.5 353.3a1.2 1.2 0 1 0 2.4 0a1.2 1.2 0 1 0 -2.4 0M133.8 420.5a1.2 1.2 0 1 0 2.4 0a1.2 1.2 0 1 0 -2.4 0M148.7 426.5a1.2 1.2 0 1 0 2.4 0a1.2 1.2 0 1 0 -2.4 0M388.0 338.2a1.2 1.2 0 1 0 2.4 0a1.2 1.2 0 1 0 -2.4 0M171.8 416.8a1.2 1.2 0 1 0 2.4 0a1.2 1.2 0 1 0 -2.4 0M170.4 414.9a1.2 1.2 0 1 0 2.4 0a1.2 1.2 0 1 0 -2.4 0M358.9 276.1a1.2 1.2 0 1 0 2.4 0a1.2 1.2 0 1 0 -2.4 0M228.0 387.9a1.2 1.2 0 1 0 2.4 0a1.2 1.2 0 1 0 -2.4 0M350.9 326.0a1.2 1.2 0 1 0 2.4 0a1.2 1.2 0 1 0 -2.4 0M155.7 426.7a1.2 1.2 0 1 0 2.4 0a1.2 1.2 0 1 0 -2.4 0M138.4 429.2a1.2 1.2 0 1 0 2.4 0a1.2 1.2 0 1 0 -2.4 0M304.9 357.4a1.2 1.2 0 1 0 2.4 0a1.2 1.2 0 1 0 -2.4 0M191.6 423.1a1.2 1.2 0 1 0 2.4 0a1.2 1.2 0 1 0 -2.4 0M490.5 260.6a1.2 1.2 0 1 0 2.4 0a1.2 1.2 0 1 0 -2.4 0M331.2 348.4a1.2 1.2 0 1 0 2.4 0a1.2 1.2 0 1 0 -2.4 0M375.3 324.7a1.2 1.2 0 1 0 2.4 0a1.2 1.2 0 1 0 -2.4 0M474.3 243.0a1.2 1.2 0 1 0 2.4 0a1.2 1.2 0 1 0 -2.4 0M495.9 253.6a1.2 1.2 0 1 0 2.4 0a1.2 1.2 0 1 0 -2.4 0M374.2 301.8a1.2 1.2 0 1 0 2.4 0a1.2 1.2 0 1 0 -2.4 0M507.3 204.8a1.2 1.2 0 1 0 2.4 0a1.2 1.2 0 1 0 -2.4 0M301.8 347.4a1.2 1.2 0 1 0 2.4 0a1.2 1.2 0 1 0 -2.4 0M260.1 350.8a1.2 1.2 0 1 0 2.4 0a1.2 1.2 0 1 0 -2.4 0M158.9 402.4a1.2 1.2 0 1 0 2.4 0a1.2 1.2 0 1 0 -2.4 0M261.9 384.6a1.2 1.2 0 1 0 2.4 0a1.2 1.2 0 1 0 -2.4 0M341.7 356.1a1.2 1.2 0 1 0 2.4 0a1.2 1.2 0 1 0 -2.4 0M232.0 400.9a1.2 1.2 0 1 0 2.4 0a1.2 1.2 0 1 0 -2.4 0M489.7 198.1a1.2 1.2 0 1 0 2.4 0a1.2 1.2 0 1 0 -2.4 0M133.2 428.9a1.2 1.2 0 1 0 2.4 0a1.2 1.2 0 1 0 -2.4 0M478.0 330.4a1.2 1.2 0 1 0 2.4 0a1.2 1.2 0 1 0 -2.4 0M329.3 321.6a1.2 1.2 0 1 0 2.4 0a1.2 1.2 0 1 0 -2.4 0M238.5 427.9a1.2 1.2 0 1 0 2.4 0a1.2 1.2 0 1 0 -2.4 0M184.6 427.5a1.2 1.2 0 1 0 2.4 0a1.2 1.2 0 1 0 -2.4 0M137.5 426.9a1.2 1.2 0 1 0 2.4 0a1.2 1.2 0 1 0 -2.4 0M135.2 427.7a1.2 1.2 0 1 0 2.4 0a1.2 1.2 0 1 0 -2.4 0M104.0 429.0a1.2 1.2 0 1 0 2.4 0a1.2 1.2 0 1 0 -2.4 0M196.4 420.7a1.2 1.2 0 1 0 2.4 0a1.2 1.2 0 1 0 -2.4 0M458.2 246.1a1.2 1.2 0 1 0 2.4 0a1.2 1.2 0 1 0 -2.4 0M137.2 423.6a1.2 1.2 0 1 0 2.4 0a1.2 1.2 0 1 0 -2.4 0M300.4 349.6a1.2 1.2 0 1 0 2.4 0a1.2 1.2 0 1 0 -2.4 0M229.6 371.4a1.2 1.2 0 1 0 2.4 0a1.2 1.2 0 1 0 -2.4 0M104.0 429.3a1.2 1.2 0 1 0 2.4 0a1.2 1.2 0 1 0 -2.4 0M274.8 417.2a1.2 1.2 0 1 0 2.4 0a1.2 1.2 0 1 0 -2.4 0M251.8 424.1a1.2 1.2 0 1 0 2.4 0a1.2 1.2 0 1 0 -2.4 0M508.4 210.9a1.2 1.2 0 1 0 2.4 0a1.2 1.2 0 1 0 -2.4 0M496.2 252.3a1.2 1.2 0 1 0 2.4 0a1.2 1.2 0 1 0 -2.4 0M259.3 338.8a1.2 1.2 0 1 0 2.4 0a1.2 1.2 0 1 0 -2.4 0M480.7 253.0a1.2 1.2 0 1 0 2.4 0a1.2 1.2 0 1 0 -2.4 0M335.4 304.6a1.2 1.2 0 1 0 2.4 0a1.2 1.2 0 1 0 -2.4 0M502.9 241.6a1.2 1.2 0 1 0 2.4 0a1.2 1.2 0 1 0 -2.4 0M255.8 414.8a1.2 1.2 0 1 0 2.4 0a1.2 1.2 0 1 0 -2.4 0M297.2 345.2a1.2 1.2 0 1 0 2.4 0a1.2 1.2 0 1 0 -2.4 0M387.4 347.1a1.2 1.2 0 1 0 2.4 0a1.2 1.2 0 1 0 -2.4 0M185.5 382.2a1.2 1.2 0 1 0 2.4 0a1.2 1.2 0 1 0 -2.4 0M293.1 376.7a1.2 1.2 0 1 0 2.4 0a1.2 1.2 0 1 0 -2.4 0M189.8 423.8a1.2 1.2 0 1 0 2.4 0a1.2 1.2 0 1 0 -2.4 0M192.9 405.7a1.2 1.2 0 1 0 2.4 0a1.2 1.2 0 1 0 -2.4 0M237.9 428.9a1.2 1.2 0 1 0 2.4 0a1.2 1.2 0 1 0 -2.4 0M365.5 298.7a1.2 1.2 0 1 0 2.4 0a1.2 1.2 0 1 0 -2.4 0M254.0 363.4a1.2 1.2 0 1 0 2.4 0a1.2 1.2 0 1 0 -2.4 0M232.1 368.1a1.2 1.2 0 1 0 2.4 0a1.2 1.2 0 1 0 -2.4 0M262.9 427.4a1.2 1.2 0 1 0 2.4 0a1.2 1.2 0 1 0 -2.4 0M149.6 429.3a1.2 1.2 0 1 0 2.4 0a1.2 1.2 0 1 0 -2.4 0M461.1 262.9a1.2 1.2 0 1 0 2.4 0a1.2 1.2 0 1 0 -2.4 0M245.3 349.8a1.2 1.2 0 1 0 2.4 0a1.2 1.2 0 1 0 -2.4 0M294.8 384.8a1.2 1.2 0 1 0 2.4 0a1.2 1.2 0 1 0 -2.4 0M474.4 249.3a1.2 1.2 0 1 0 2.4 0a1.2 1.2 0 1 0 -2.4 0M306.2 345.1a1.2 1.2 0 1 0 2.4 0a1.2 1.2 0 1 0 -2.4 0M511.4 316.5a1.2 1.2 0 1 0 2.4 0a1.2 1.2 0 1 0 -2.4 0M133.6 424.8a1.2 1.2 0 1 0 2.4 0a1.2 1.2 0 1 0 -2.4 0M199.3 424.2a1.2 1.2 0 1 0 2.4 0a1.2 1.2 0 1 0 -2.4 0M349.3 316.1a1.2 1.2 0 1 0 2.4 0a1.2 1.2 0 1 0 -2.4 0M259.9 413.6a1.2 1.2 0 1 0 2.4 0a1.2 1.2 0 1 0 -2.4 0M429.8 277.7a1.2 1.2 0 1 0 2.4 0a1.2 1.2 0 1 0 -2.4 0M340.2 325.2a1.2 1.2 0 1 0 2.4 0a1.2 1.2 0 1 0 -2.4 0M456.5 254.9a1.2 1.2 0 1 0 2.4 0a1.2 1.2 0 1 0 -2.4 0M426.6 250.1a1.2 1.2 0 1 0 2.4 0a1.2 1.2 0 1 0 -2.4 0M97.2 426.5a1.2 1.2 0 1 0 2.4 0a1.2 1.2 0 1 0 -2.4 0M487.6 240.9a1.2 1.2 0 1 0 2.4 0a1.2 1.2 0 1 0 -2.4 0M235.3 384.6a1.2 1.2 0 1 0 2.4 0a1.2 1.2 0 1 0 -2.4 0M317.0 367.6a1.2 1.2 0 1 0 2.4 0a1.2 1.2 0 1 0 -2.4 0M463.9 220.8a1.2 1.2 0 1 0 2.4 0a1.2 1.2 0 1 0 -2.4 0M215.7 412.8a1.2 1.2 0 1 0 2.4 0a1.2 1.2 0 1 0 -2.4 0M99.9 428.5a1.2 1.2 0 1 0 2.4 0a1.2 1.2 0 1 0 -2.4 0M134.3 425.0a1.2 1.2 0 1 0 2.4 0a1.2 1.2 0 1 0 -2.4 0M426.4 298.4a1.2 1.2 0 1 0 2.4 0a1.2 1.2 0 1 0 -2.4 0M173.1 428.9a1.2 1.2 0 1 0 2.4 0a1.2 1.2 0 1 0 -2.4 0M372.6 359.2a1.2 1.2 0 1 0 2.4 0a1.2 1.2 0 1 0 -2.4 0M378.6 349.9a1.2 1.2 0 1 0 2.4 0a1.2 1.2 0 1 0 -2.4 0M494.9 290.5a1.2 1.2 0 1 0 2.4 0a1.2 1.2 0 1 0 -2.4 0M513.2 184.9a1.2 1.2 0 1 0 2.4 0a1.2 1.2 0 1 0 -2.4 0M188.1 428.6a1.2 1.2 0 1 0 2.4 0a1.2 1.2 0 1 0 -2.4 0M447.0 331.0a1.2 1.2 0 1 0 2.4 0a1.2 1.2 0 1 0 -2.4 0M255.2 334.6a1.2 1.2 0 1 0 2.4 0a1.2 1.2 0 1 0 -2.4 0M181.1 420.8a1.2 1.2 0 1 0 2.4 0a1.2 1.2 0 1 0 -2.4 0M231.9 422.9a1.2 1.2 0 1 0 2.4 0a1.2 1.2 0 1 0 -2.4 0M174.4 406.4a1.2 1.2 0 1 0 2.4 0a1.2 1.2 0 1 0 -2.4 0M512.8 307.2a1.2 1.2 0 1 0 2.4 0a1.2 1.2 0 1 0 -2.4 0M92.7 425.4a1.2 1.2 0 1 0 2.4 0a1.2 1.2 0 1 0 -2.4 0M450.6 347.0a1.2 1.2 0 1 0 2.4 0a1.2 1.2 0 1 0 -2.4 0M387.7 265.0a1.2 1.2 0 1 0 2.4 0a1.2 1.2 0 1 0 -2.4 0M327.4 372.3a1.2 1.2 0 1 0 2.4 0a1.2 1.2 0 1 0 -2.4 0M182.3 425.0a1.2 1.2 0 1 0 2.4 0a1.2 1.2 0 1 0 -2.4 0M223.7 369.3a1.2 1.2 0 1 0 2.4 0a1.2 1.2 0 1 0 -2.4 0M491.6 297.6a1.2 1.2 0 1 0 2.4 0a1.2 1.2 0 1 0 -2.4 0M436.5 266.9a1.2 1.2 0 1 0 2.4 0a1.2 1.2 0 1 0 -2.4 0M139.5 406.8a1.2 1.2 0 1 0 2.4 0a1.2 1.2 0 1 0 -2.4 0M491.1 220.2a1.2 1.2 0 1 0 2.4 0a1.2 1.2 0 1 0 -2.4 0M101.2 428.4a1.2 1.2 0 1 0 2.4 0a1.2 1.2 0 1 0 -2.4 0M313.5 333.7a1.2 1.2 0 1 0 2.4 0a1.2 1.2 0 1 0 -2.4 0M397.6 290.5a1.2 1.2 0 1 0 2.4 0a1.2 1.2 0 1 0 -2.4 0M261.9 342.7a1.2 1.2 0 1 0 2.4 0a1.2 1.2 0 1 0 -2.4 0M483.7 325.8a1.2 1.2 0 1 0 2.4 0a1.2 1.2 0 1 0 -2.4 0M348.9 286.3a1.2 1.2 0 1 0 2.4 0a1.2 1.2 0 1 0 -2.4 0M449.4 342.0a1.2 1.2 0 1 0 2.4 0a1.2 1.2 0 1 0 -2.4 0M384.3 283.7a1.2 1.2 0 1 0 2.4 0a1.2 1.2 0 1 0 -2.4 0M184.1 414.8a1.2 1.2 0 1 0 2.4 0a1.2 1.2 0 1 0 -2.4 0M348.2 350.0a1.2 1.2 0 1 0 2.4 0a1.2 1.2 0 1 0 -2.4 0M224.2 392.6a1.2 1.2 0 1 0 2.4 0a1.2 1.2 0 1 0 -2.4 0M116.9 421.2a1.2 1.2 0 1 0 2.4 0a1.2 1.2 0 1 0 -2.4 0M111.5 421.9a1.2 1.2 0 1 0 2.4 0a1.2 1.2 0 1 0 -2.4 0M431.9 254.4a1.2 1.2 0 1 0 2.4 0a1.2 1.2 0 1 0 -2.4 0M395.5 295.2a1.2 1.2 0 1 0 2.4 0a1.2 1.2 0 1 0 -2.4 0M449.5 244.4a1.2 1.2 0 1 0 2.4 0a1.2 1.2 0 1 0 -2.4 0M92.9 426.3a1.2 1.2 0 1 0 2.4 0a1.2 1.2 0 1 0 -2.4 0M342.7 352.7a1.2 1.2 0 1 0 2.4 0a1.2 1.2 0 1 0 -2.4 0M151.0 409.4a1.2 1.2 0 1 0 2.4 0a1.2 1.2 0 1 0 -2.4 0M464.4 271.5a1.2 1.2 0 1 0 2.4 0a1.2 1.2 0 1 0 -2.4 0M352.4 349.9a1.2 1.2 0 1 0 2.4 0a1.2 1.2 0 1 0 -2.4 0M103.7 418.2a1.2 1.2 0 1 0 2.4 0a1.2 1.2 0 1 0 -2.4 0M457.4 258.7a1.2 1.2 0 1 0 2.4 0a1.2 1.2 0 1 0 -2.4 0M193.2 417.5a1.2 1.2 0 1 0 2.4 0a1.2 1.2 0 1 0 -2.4 0M492.1 209.9a1.2 1.2 0 1 0 2.4 0a1.2 1.2 0 1 0 -2.4 0M228.6 367.7a1.2 1.2 0 1 0 2.4 0a1.2 1.2 0 1 0 -2.4 0M419.4 311.7a1.2 1.2 0 1 0 2.4 0a1.2 1.2 0 1 0 -2.4 0M303.0 371.1a1.2 1.2 0 1 0 2.4 0a1.2 1.2 0 1 0 -2.4 0M289.5 406.0a1.2 1.2 0 1 0 2.4 0a1.2 1.2 0 1 0 -2.4 0M215.8 379.8a1.2 1.2 0 1 0 2.4 0a1.2 1.2 0 1 0 -2.4 0M510.8 208.2a1.2 1.2 0 1 0 2.4 0a1.2 1.2 0 1 0 -2.4 0M461.7 259.5a1.2 1.2 0 1 0 2.4 0a1.2 1.2 0 1 0 -2.4 0M512.0 288.2a1.2 1.2 0 1 0 2.4 0a1.2 1.2 0 1 0 -2.4 0M346.2 368.6a1.2 1.2 0 1 0 2.4 0a1.2 1.2 0 1 0 -2.4 0M299.3 382.8a1.2 1.2 0 1 0 2.4 0a1.2 1.2 0 1 0 -2.4 0M212.1 426.2a1.2 1.2 0 1 0 2.4 0a1.2 1.2 0 1 0 -2.4 0M350.6 367.8a1.2 1.2 0 1 0 2.4 0a1.2 1.2 0 1 0 -2.4 0M496.0 272.8a1.2 1.2 0 1 0 2.4 0a1.2 1.2 0 1 0 -2.4 0"/>
<polyline points="512.9,316.3 512.9,316.4 512.9,316.6 512.9,316.7 513.1,316.7 513.6,316.4 514.6,315.6 516.2,314.2 518.4,312.3 520.9,310.2 523.6,307.8 526.2,305.4 528.5,303.1 530.6,300.9 532.6,298.6 534.6,296.3 536.5,294.0 538.3,291.7 540.0,289.6 541.5,287.6 542.9,285.8 544.1,284.1 545.4,282.3 546.6,280.5 548.0,278.6 549.5,276.5 551.0,274.4 552.6,272.2 554.1,269.9 555.7,267.6 557.3,265.3 558.9,263.0 560.5,260.6 562.1,258.2 563.7,255.7 565.3,253.2 566.9,250.6 568.5,247.9 570.0,245.2 571.6,242.4 573.2,239.6 574.8,236.6 576.5,233.6 578.3,230.4 580.1,227.0 581.9,223.5 583.8,220.0 585.7,216.6 587.5,213.5 589.3,210.6 591.1,207.7 592.8,205.0 594.6,202.4 596.3,199.9 598.1,197.6 599.9,195.4 601.8,193.3 603.6,191.3 605.4,189.5 607.1,187.8 608.7,186.3 610.1,185.0 611.4,183.8 612.5,182.8 613.7,181.9 614.8,181.1 616.0,180.2 617.2,179.4 618.4,178.6 619.5,177.8 620.8,177.1 622.1,176.4 623.5,175.6 625.1,174.8 626.8,173.9 628.6,173.1 630.4,172.2 632.2,171.4 634.0,170.6 635.8,169.9 637.5,169.2 639.2,168.5 641.0,167.8 642.8,167.2 644.6,166.6 646.4,166.0 648.3,165.5 650.2,165.0 652.1,164.5 654.0,164.1 656.0,163.6 658.2,163.1 660.6,162.7 663.1,162.2 665.4,161.8 667.4,161.5 668.8,161.2" fill="none" stroke="#653700" stroke-width="2.5" stroke-linejoin="round" stroke-linecap="round"/>
<path fill="#653700" d="M546.4 175.4a1.15 1.15 0 1 0 2.3 0a1.15 1.15 0 1 0 -2.3 0M596.9 117.4a1.15 1.15 0 1 0 2.3 0a1.15 1.15 0 1 0 -2.3 0M542.1 150.8a1.15 1.15 0 1 0 2.3 0a1.15 1.15 0 1 0 -2.3 0M578.8 154.7a1.15 1.15 0 1 0 2.3 0a1.15 1.15 0 1 0 -2.3 0M636.5 116.0a1.15 1.15 0 1 0 2.3 0a1.15 1.15 0 1 0 -2.3 0M559.2 239.7a1.15 1.15 0 1 0 2.3 0a1.15 1.15 0 1 0 -2.3 0M661.3 110.8a1.15 1.15 0 1 0 2.3 0a1.15 1.15 0 1 0 -2.3 0M585.0 114.7a1.15 1.15 0 1 0 2.3 0a1.15 1.15 0 1 0 -2.3 0M623.8 127.5a1.15 1.15 0 1 0 2.3 0a1.15 1.15 0 1 0 -2.3 0M602.5 121.7a1.15 1.15 0 1 0 2.3 0a1.15 1.15 0 1 0 -2.3 0M662.5 110.8a1.15 1.15 0 1 0 2.3 0a1.15 1.15 0 1 0 -2.3 0M645.9 92.8a1.15 1.15 0 1 0 2.3 0a1.15 1.15 0 1 0 -2.3 0M584.9 166.3a1.15 1.15 0 1 0 2.3 0a1.15 1.15 0 1 0 -2.3 0M621.8 160.7a1.15 1.15 0 1 0 2.3 0a1.15 1.15 0 1 0 -2.3 0M601.8 128.8a1.15 1.15 0 1 0 2.3 0a1.15 1.15 0 1 0 -2.3 0M565.2 241.8a1.15 1.15 0 1 0 2.3 0a1.15 1.15 0 1 0 -2.3 0M528.3 271.1a1.15 1.15 0 1 0 2.3 0a1.15 1.15 0 1 0 -2.3 0M584.5 188.2a1.15 1.15 0 1 0 2.3 0a1.15 1.15 0 1 0 -2.3 0M586.2 147.6a1.15 1.15 0 1 0 2.3 0a1.15 1.15 0 1 0 -2.3 0M598.8 94.4a1.15 1.15 0 1 0 2.3 0a1.15 1.15 0 1 0 -2.3 0M637.9 139.5a1.15 1.15 0 1 0 2.3 0a1.15 1.15 0 1 0 -2.3 0M630.8 136.7a1.15 1.15 0 1 0 2.3 0a1.15 1.15 0 1 0 -2.3 0M557.6 247.1a1.15 1.15 0 1 0 2.3 0a1.15 1.15 0 1 0 -2.3 0M535.9 198.5a1.15 1.15 0 1 0 2.3 0a1.15 1.15 0 1 0 -2.3 0M577.8 132.3a1.15 1.15 0 1 0 2.3 0a1.15 1.15 0 1 0 -2.3 0M534.9 170.7a1.15 1.15 0 1 0 2.3 0a1.15 1.15 0 1 0 -2.3 0M576.3 178.9a1.15 1.15 0 1 0 2.3 0a1.15 1.15 0 1 0 -2.3 0M583.0 184.6a1.15 1.15 0 1 0 2.3 0a1.15 1.15 0 1 0 -2.3 0M659.5 156.3a1.15 1.15 0 1 0 2.3 0a1.15 1.15 0 1 0 -2.3 0M627.6 139.3a1.15 1.15 0 1 0 2.3 0a1.15 1.15 0 1 0 -2.3 0M525.7 285.1a1.15 1.15 0 1 0 2.3 0a1.15 1.15 0 1 0 -2.3 0M567.9 198.1a1.15 1.15 0 1 0 2.3 0a1.15 1.15 0 1 0 -2.3 0M664.1 94.0a1.15 1.15 0 1 0 2.3 0a1.15 1.15 0 1 0 -2.3 0M642.3 141.6a1.15 1.15 0 1 0 2.3 0a1.15 1.15 0 1 0 -2.3 0M556.0 157.4a1.15 1.15 0 1 0 2.3 0a1.15 1.15 0 1 0 -2.3 0M663.7 103.1a1.15 1.15 0 1 0 2.3 0a1.15 1.15 0 1 0 -2.3 0M604.4 174.7a1.15 1.15 0 1 0 2.3 0a1.15 1.15 0 1 0 -2.3 0M605.9 173.3a1.15 1.15 0 1 0 2.3 0a1.15 1.15 0 1 0 -2.3 0M592.2 96.9a1.15 1.15 0 1 0 2.3 0a1.15 1.15 0 1 0 -2.3 0M594.7 135.8a1.15 1.15 0 1 0 2.3 0a1.15 1.15 0 1 0 -2.3 0M555.3 204.3a1.15 1.15 0 1 0 2.3 0a1.15 1.15 0 1 0 -2.3 0M624.8 158.9a1.15 1.15 0 1 0 2.3 0a1.15 1.15 0 1 0 -2.3 0M666.5 100.1a1.15 1.15 0 1 0 2.3 0a1.15 1.15 0 1 0 -2.3 0M599.1 111.4a1.15 1.15 0 1 0 2.3 0a1.15 1.15 0 1 0 -2.3 0M605.2 170.0a1.15 1.15 0 1 0 2.3 0a1.15 1.15 0 1 0 -2.3 0M640.6 166.3a1.15 1.15 0 1 0 2.3 0a1.15 1.15 0 1 0 -2.3 0M637.4 112.4a1.15 1.15 0 1 0 2.3 0a1.15 1.15 0 1 0 -2.3 0M557.4 160.4a1.15 1.15 0 1 0 2.3 0a1.15 1.15 0 1 0 -2.3 0M614.7 91.0a1.15 1.15 0 1 0 2.3 0a1.15 1.15 0 1 0 -2.3 0M576.1 205.6a1.15 1.15 0 1 0 2.3 0a1.15 1.15 0 1 0 -2.3 0M622.0 135.9a1.15 1.15 0 1 0 2.3 0a1.15 1.15 0 1 0 -2.3 0M553.8 199.7a1.15 1.15 0 1 0 2.3 0a1.15 1.15 0 1 0 -2.3 0M585.8 184.8a1.15 1.15 0 1 0 2.3 0a1.15 1.15 0 1 0 -2.3 0M519.7 265.6a1.15 1.15 0 1 0 2.3 0a1.15 1.15 0 1 0 -2.3 0M610.2 99.5a1.15 1.15 0 1 0 2.3 0a1.15 1.15 0 1 0 -2.3 0M618.1 175.9a1.15 1.15 0 1 0 2.3 0a1.15 1.15 0 1 0 -2.3 0M526.5 256.9a1.15 1.15 0 1 0 2.3 0a1.15 1.15 0 1 0 -2.3 0M659.8 112.8a1.15 1.15 0 1 0 2.3 0a1.15 1.15 0 1 0 -2.3 0M578.8 119.4a1.15 1.15 0 1 0 2.3 0a1.15 1.15 0 1 0 -2.3 0M621.8 153.8a1.15 1.15 0 1 0 2.3 0a1.15 1.15 0 1 0 -2.3 0M576.1 202.0a1.15 1.15 0 1 0 2.3 0a1.15 1.15 0 1 0 -2.3 0M624.6 165.8a1.15 1.15 0 1 0 2.3 0a1.15 1.15 0 1 0 -2.3 0M658.2 117.4a1.15 1.15 0 1 0 2.3 0a1.15 1.15 0 1 0 -2.3 0M554.6 233.9a1.15 1.15 0 1 0 2.3 0a1.15 1.15 0 1 0 -2.3 0M575.6 163.5a1.15 1.15 0 1 0 2.3 0a1.15 1.15 0 1 0 -2.3 0M545.9 259.3a1.15 1.15 0 1 0 2.3 0a1.15 1.15 0 1 0 -2.3 0M656.6 158.4a1.15 1.15 0 1 0 2.3 0a1.15 1.15 0 1 0 -2.3 0M602.4 161.1a1.15 1.15 0 1 0 2.3 0a1.15 1.15 0 1 0 -2.3 0M521.6 283.7a1.15 1.15 0 1 0 2.3 0a1.15 1.15 0 1 0 -2.3 0M563.8 173.0a1.15 1.15 0 1 0 2.3 0a1.15 1.15 0 1 0 -2.3 0M658.5 136.4a1.15 1.15 0 1 0 2.3 0a1.15 1.15 0 1 0 -2.3 0M616.7 115.5a1.15 1.15 0 1 0 2.3 0a1.15 1.15 0 1 0 -2.3 0M583.2 165.9a1.15 1.15 0 1 0 2.3 0a1.15 1.15 0 1 0 -2.3 0M556.1 232.6a1.15 1.15 0 1 0 2.3 0a1.15 1.15 0 1 0 -2.3 0M600.1 144.9a1.15 1.15 0 1 0 2.3 0a1.15 1.15 0 1 0 -2.3 0M645.1 128.2a1.15 1.15 0 1 0 2.3 0a1.15 1.15 0 1 0 -2.3 0M609.5 106.1a1.15 1.15 0 1 0 2.3 0a1.15 1.15 0 1 0 -2.3 0M546.4 256.7a1.15 1.15 0 1 0 2.3 0a1.15 1.15 0 1 0 -2.3 0M536.8 210.3a1.15 1.15 0 1 0 2.3 0a1.15 1.15 0 1 0 -2.3 0M577.8 228.0a1.15 1.15 0 1 0 2.3 0a1.15 1.15 0 1 0 -2.3 0M615.3 106.2a1.15 1.15 0 1 0 2.3 0a1.15 1.15 0 1 0 -2.3 0M606.3 154.7a1.15 1.15 0 1 0 2.3 0a1.15 1.15 0 1 0 -2.3 0M655.5 98.0a1.15 1.15 0 1 0 2.3 0a1.15 1.15 0 1 0 -2.3 0M515.8 222.1a1.15 1.15 0 1 0 2.3 0a1.15 1.15 0 1 0 -2.3 0M625.2 107.8a1.15 1.15 0 1 0 2.3 0a1.15 1.15 0 1 0 -2.3 0M660.9 160.8a1.15 1.15 0 1 0 2.3 0a1.15 1.15 0 1 0 -2.3 0M586.4 106.3a1.15 1.15 0 1 0 2.3 0a1.15 1.15 0 1 0 -2.3 0M555.5 177.0a1.15 1.15 0 1 0 2.3 0a1.15 1.15 0 1 0 -2.3 0M643.5 159.5a1.15 1.15 0 1 0 2.3 0a1.15 1.15 0 1 0 -2.3 0M528.9 192.0a1.15 1.15 0 1 0 2.3 0a1.15 1.15 0 1 0 -2.3 0M665.7 152.4a1.15 1.15 0 1 0 2.3 0a1.15 1.15 0 1 0 -2.3 0M543.2 202.1a1.15 1.15 0 1 0 2.3 0a1.15 1.15 0 1 0 -2.3 0M614.2 164.6a1.15 1.15 0 1 0 2.3 0a1.15 1.15 0 1 0 -2.3 0M547.9 161.6a1.15 1.15 0 1 0 2.3 0a1.15 1.15 0 1 0 -2.3 0M602.8 114.3a1.15 1.15 0 1 0 2.3 0a1.15 1.15 0 1 0 -2.3 0M645.8 106.7a1.15 1.15 0 1 0 2.3 0a1.15 1.15 0 1 0 -2.3 0M579.0 190.7a1.15 1.15 0 1 0 2.3 0a1.15 1.15 0 1 0 -2.3 0M626.9 141.7a1.15 1.15 0 1 0 2.3 0a1.15 1.15 0 1 0 -2.3 0M557.9 184.7a1.15 1.15 0 1 0 2.3 0a1.15 1.15 0 1 0 -2.3 0M647.4 151.3a1.15 1.15 0 1 0 2.3 0a1.15 1.15 0 1 0 -2.3 0M549.0 214.1a1.15 1.15 0 1 0 2.3 0a1.15 1.15 0 1 0 -2.3 0M523.5 190.2a1.15 1.15 0 1 0 2.3 0a1.15 1.15 0 1 0 -2.3 0M600.0 192.2a1.15 1.15 0 1 0 2.3 0a1.15 1.15 0 1 0 -2.3 0M575.1 118.1a1.15 1.15 0 1 0 2.3 0a1.15 1.15 0 1 0 -2.3 0M663.3 152.1a1.15 1.15 0 1 0 2.3 0a1.15 1.15 0 1 0 -2.3 0M552.6 141.4a1.15 1.15 0 1 0 2.3 0a1.15 1.15 0 1 0 -2.3 0M630.0 112.5a1.15 1.15 0 1 0 2.3 0a1.15 1.15 0 1 0 -2.3 0M571.4 147.7a1.15 1.15 0 1 0 2.3 0a1.15 1.15 0 1 0 -2.3 0M532.1 233.0a1.15 1.15 0 1 0 2.3 0a1.15 1.15 0 1 0 -2.3 0M605.0 95.7a1.15 1.15 0 1 0 2.3 0a1.15 1.15 0 1 0 -2.3 0M571.7 127.7a1.15 1.15 0 1 0 2.3 0a1.15 1.15 0 1 0 -2.3 0M523.9 249.1a1.15 1.15 0 1 0 2.3 0a1.15 1.15 0 1 0 -2.3 0M548.5 224.8a1.15 1.15 0 1 0 2.3 0a1.15 1.15 0 1 0 -2.3 0M638.8 167.8a1.15 1.15 0 1 0 2.3 0a1.15 1.15 0 1 0 -2.3 0M557.4 251.9a1.15 1.15 0 1 0 2.3 0a1.15 1.15 0 1 0 -2.3 0M579.5 159.8a1.15 1.15 0 1 0 2.3 0a1.15 1.15 0 1 0 -2.3 0M562.7 216.6a1.15 1.15 0 1 0 2.3 0a1.15 1.15 0 1 0 -2.3 0M663.6 155.1a1.15 1.15 0 1 0 2.3 0a1.15 1.15 0 1 0 -2.3 0M530.0 199.2a1.15 1.15 0 1 0 2.3 0a1.15 1.15 0 1 0 -2.3 0M627.3 117.0a1.15 1.15 0 1 0 2.3 0a1.15 1.15 0 1 0 -2.3 0M648.1 151.0a1.15 1.15 0 1 0 2.3 0a1.15 1.15 0 1 0 -2.3 0M573.5 204.5a1.15 1.15 0 1 0 2.3 0a1.15 1.15 0 1 0 -2.3 0M598.0 153.2a1.15 1.15 0 1 0 2.3 0a1.15 1.15 0 1 0 -2.3 0M651.6 129.3a1.15 1.15 0 1 0 2.3 0a1.15 1.15 0 1 0 -2.3 0M578.7 119.2a1.15 1.15 0 1 0 2.3 0a1.15 1.15 0 1 0 -2.3 0M585.5 138.8a1.15 1.15 0 1 0 2.3 0a1.15 1.15 0 1 0 -2.3 0M613.4 117.7a1.15 1.15 0 1 0 2.3 0a1.15 1.15 0 1 0 -2.3 0M645.0 118.0a1.15 1.15 0 1 0 2.3 0a1.15 1.15 0 1 0 -2.3 0M593.8 122.6a1.15 1.15 0 1 0 2.3 0a1.15 1.15 0 1 0 -2.3 0M600.5 126.5a1.15 1.15 0 1 0 2.3 0a1.15 1.15 0 1 0 -2.3 0M580.8 104.0a1.15 1.15 0 1 0 2.3 0a1.15 1.15 0 1 0 -2.3 0M580.0 216.0a1.15 1.15 0 1 0 2.3 0a1.15 1.15 0 1 0 -2.3 0M552.3 250.4a1.15 1.15 0 1 0 2.3 0a1.15 1.15 0 1 0 -2.3 0M635.6 132.3a1.15 1.15 0 1 0 2.3 0a1.15 1.15 0 1 0 -2.3 0M605.7 127.8a1.15 1.15 0 1 0 2.3 0a1.15 1.15 0 1 0 -2.3 0M656.6 158.6a1.15 1.15 0 1 0 2.3 0a1.15 1.15 0 1 0 -2.3 0M614.3 177.0a1.15 1.15 0 1 0 2.3 0a1.15 1.15 0 1 0 -2.3 0M555.5 164.7a1.15 1.15 0 1 0 2.3 0a1.15 1.15 0 1 0 -2.3 0M555.2 198.3a1.15 1.15 0 1 0 2.3 0a1.15 1.15 0 1 0 -2.3 0M598.9 146.4a1.15 1.15 0 1 0 2.3 0a1.15 1.15 0 1 0 -2.3 0M655.2 87.5a1.15 1.15 0 1 0 2.3 0a1.15 1.15 0 1 0 -2.3 0M526.5 170.4a1.15 1.15 0 1 0 2.3 0a1.15 1.15 0 1 0 -2.3 0M594.3 192.1a1.15 1.15 0 1 0 2.3 0a1.15 1.15 0 1 0 -2.3 0M656.2 139.4a1.15 1.15 0 1 0 2.3 0a1.15 1.15 0 1 0 -2.3 0M635.6 113.8a1.15 1.15 0 1 0 2.3 0a1.15 1.15 0 1 0 -2.3 0M567.8 136.7a1.15 1.15 0 1 0 2.3 0a1.15 1.15 0 1 0 -2.3 0M602.2 135.2a1.15 1.15 0 1 0 2.3 0a1.15 1.15 0 1 0 -2.3 0M653.1 123.9a1.15 1.15 0 1 0 2.3 0a1.15 1.15 0 1 0 -2.3 0M582.9 195.0a1.15 1.15 0 1 0 2.3 0a1.15 1.15 0 1 0 -2.3 0M578.9 158.5a1.15 1.15 0 1 0 2.3 0a1.15 1.15 0 1 0 -2.3 0M537.1 256.9a1.15 1.15 0 1 0 2.3 0a1.15 1.15 0 1 0 -2.3 0M576.9 141.4a1.15 1.15 0 1 0 2.3 0a1.15 1.15 0 1 0 -2.3 0M622.5 129.5a1.15 1.15 0 1 0 2.3 0a1.15 1.15 0 1 0 -2.3 0M513.9 193.4a1.15 1.15 0 1 0 2.3 0a1.15 1.15 0 1 0 -2.3 0M661.5 128.9a1.15 1.15 0 1 0 2.3 0a1.15 1.15 0 1 0 -2.3 0M584.7 189.9a1.15 1.15 0 1 0 2.3 0a1.15 1.15 0 1 0 -2.3 0M664.6 93.3a1.15 1.15 0 1 0 2.3 0a1.15 1.15 0 1 0 -2.3 0M610.1 181.0a1.15 1.15 0 1 0 2.3 0a1.15 1.15 0 1 0 -2.3 0M585.6 167.8a1.15 1.15 0 1 0 2.3 0a1.15 1.15 0 1 0 -2.3 0M656.2 161.9a1.15 1.15 0 1 0 2.3 0a1.15 1.15 0 1 0 -2.3 0M531.4 203.5a1.15 1.15 0 1 0 2.3 0a1.15 1.15 0 1 0 -2.3 0M664.5 160.8a1.15 1.15 0 1 0 2.3 0a1.15 1.15 0 1 0 -2.3 0M568.1 194.1a1.15 1.15 0 1 0 2.3 0a1.15 1.15 0 1 0 -2.3 0M585.0 168.1a1.15 1.15 0 1 0 2.3 0a1.15 1.15 0 1 0 -2.3 0M524.0 251.0a1.15 1.15 0 1 0 2.3 0a1.15 1.15 0 1 0 -2.3 0M538.6 166.6a1.15 1.15 0 1 0 2.3 0a1.15 1.15 0 1 0 -2.3 0M588.9 110.3a1.15 1.15 0 1 0 2.3 0a1.15 1.15 0 1 0 -2.3 0M622.6 138.0a1.15 1.15 0 1 0 2.3 0a1.15 1.15 0 1 0 -2.3 0M576.9 145.4a1.15 1.15 0 1 0 2.3 0a1.15 1.15 0 1 0 -2.3 0M666.1 134.9a1.15 1.15 0 1 0 2.3 0a1.15 1.15 0 1 0 -2.3 0M609.1 166.7a1.15 1.15 0 1 0 2.3 0a1.15 1.15 0 1 0 -2.3 0M657.0 94.8a1.15 1.15 0 1 0 2.3 0a1.15 1.15 0 1 0 -2.3 0M520.6 196.7a1.15 1.15 0 1 0 2.3 0a1.15 1.15 0 1 0 -2.3 0M580.4 169.5a1.15 1.15 0 1 0 2.3 0a1.15 1.15 0 1 0 -2.3 0M544.2 202.7a1.15 1.15 0 1 0 2.3 0a1.15 1.15 0 1 0 -2.3 0M638.4 148.9a1.15 1.15 0 1 0 2.3 0a1.15 1.15 0 1 0 -2.3 0M558.2 204.7a1.15 1.15 0 1 0 2.3 0a1.15 1.15 0 1 0 -2.3 0M547.9 155.2a1.15 1.15 0 1 0 2.3 0a1.15 1.15 0 1 0 -2.3 0M518.8 281.6a1.15 1.15 0 1 0 2.3 0a1.15 1.15 0 1 0 -2.3 0M592.5 126.8a1.15 1.15 0 1 0 2.3 0a1.15 1.15 0 1 0 -2.3 0M582.8 114.9a1.15 1.15 0 1 0 2.3 0a1.15 1.15 0 1 0 -2.3 0M636.7 148.1a1.15 1.15 0 1 0 2.3 0a1.15 1.15 0 1 0 -2.3 0M608.7 106.0a1.15 1.15 0 1 0 2.3 0a1.15 1.15 0 1 0 -2.3 0M552.1 182.2a1.15 1.15 0 1 0 2.3 0a1.15 1.15 0 1 0 -2.3 0M567.0 230.2a1.15 1.15 0 1 0 2.3 0a1.15 1.15 0 1 0 -2.3 0M667.8 106.4a1.15 1.15 0 1 0 2.3 0a1.15 1.15 0 1 0 -2.3 0M531.3 231.4a1.15 1.15 0 1 0 2.3 0a1.15 1.15 0 1 0 -2.3 0M515.3 313.7a1.15 1.15 0 1 0 2.3 0a1.15 1.15 0 1 0 -2.3 0M594.8 83.9a1.15 1.15 0 1 0 2.3 0a1.15 1.15 0 1 0 -2.3 0M648.2 128.0a1.15 1.15 0 1 0 2.3 0a1.15 1.15 0 1 0 -2.3 0M620.7 133.1a1.15 1.15 0 1 0 2.3 0a1.15 1.15 0 1 0 -2.3 0M663.0 133.1a1.15 1.15 0 1 0 2.3 0a1.15 1.15 0 1 0 -2.3 0M606.1 109.4a1.15 1.15 0 1 0 2.3 0a1.15 1.15 0 1 0 -2.3 0M536.5 257.0a1.15 1.15 0 1 0 2.3 0a1.15 1.15 0 1 0 -2.3 0M514.6 182.1a1.15 1.15 0 1 0 2.3 0a1.15 1.15 0 1 0 -2.3 0M540.0 226.5a1.15 1.15 0 1 0 2.3 0a1.15 1.15 0 1 0 -2.3 0M575.6 166.8a1.15 1.15 0 1 0 2.3 0a1.15 1.15 0 1 0 -2.3 0M580.0 131.9a1.15 1.15 0 1 0 2.3 0a1.15 1.15 0 1 0 -2.3 0M649.6 102.0a1.15 1.15 0 1 0 2.3 0a1.15 1.15 0 1 0 -2.3 0M556.6 212.2a1.15 1.15 0 1 0 2.3 0a1.15 1.15 0 1 0 -2.3 0M655.3 113.1a1.15 1.15 0 1 0 2.3 0a1.15 1.15 0 1 0 -2.3 0M516.6 234.8a1.15 1.15 0 1 0 2.3 0a1.15 1.15 0 1 0 -2.3 0M612.3 105.7a1.15 1.15 0 1 0 2.3 0a1.15 1.15 0 1 0 -2.3 0M588.7 194.2a1.15 1.15 0 1 0 2.3 0a1.15 1.15 0 1 0 -2.3 0M603.1 142.3a1.15 1.15 0 1 0 2.3 0a1.15 1.15 0 1 0 -2.3 0M631.5 86.5a1.15 1.15 0 1 0 2.3 0a1.15 1.15 0 1 0 -2.3 0M543.4 230.6a1.15 1.15 0 1 0 2.3 0a1.15 1.15 0 1 0 -2.3 0M633.1 161.7a1.15 1.15 0 1 0 2.3 0a1.15 1.15 0 1 0 -2.3 0M547.1 209.6a1.15 1.15 0 1 0 2.3 0a1.15 1.15 0 1 0 -2.3 0M521.7 212.1a1.15 1.15 0 1 0 2.3 0a1.15 1.15 0 1 0 -2.3 0M569.4 175.1a1.15 1.15 0 1 0 2.3 0a1.15 1.15 0 1 0 -2.3 0M630.0 169.9a1.15 1.15 0 1 0 2.3 0a1.15 1.15 0 1 0 -2.3 0M566.2 172.9a1.15 1.15 0 1 0 2.3 0a1.15 1.15 0 1 0 -2.3 0M592.6 201.9a1.15 1.15 0 1 0 2.3 0a1.15 1.15 0 1 0 -2.3 0M526.3 246.5a1.15 1.15 0 1 0 2.3 0a1.15 1.15 0 1 0 -2.3 0M633.3 101.6a1.15 1.15 0 1 0 2.3 0a1.15 1.15 0 1 0 -2.3 0M527.8 158.5a1.15 1.15 0 1 0 2.3 0a1.15 1.15 0 1 0 -2.3 0M593.0 132.2a1.15 1.15 0 1 0 2.3 0a1.15 1.15 0 1 0 -2.3 0M592.5 110.9a1.15 1.15 0 1 0 2.3 0a1.15 1.15 0 1 0 -2.3 0M668.1 137.3a1.15 1.15 0 1 0 2.3 0a1.15 1.15 0 1 0 -2.3 0M571.8 186.7a1.15 1.15 0 1 0 2.3 0a1.15 1.15 0 1 0 -2.3 0M572.0 234.1a1.15 1.15 0 1 0 2.3 0a1.15 1.15 0 1 0 -2.3 0M532.8 262.4a1.15 1.15 0 1 0 2.3 0a1.15 1.15 0 1 0 -2.3 0M629.3 102.4a1.15 1.15 0 1 0 2.3 0a1.15 1.15 0 1 0 -2.3 0M585.5 96.9a1.15 1.15 0 1 0 2.3 0a1.15 1.15 0 1 0 -2.3 0M654.7 160.6a1.15 1.15 0 1 0 2.3 0a1.15 1.15 0 1 0 -2.3 0M584.2 216.2a1.15 1.15 0 1 0 2.3 0a1.15 1.15 0 1 0 -2.3 0M549.7 173.7a1.15 1.15 0 1 0 2.3 0a1.15 1.15 0 1 0 -2.3 0M541.7 165.2a1.15 1.15 0 1 0 2.3 0a1.15 1.15 0 1 0 -2.3 0M605.9 141.2a1.15 1.15 0 1 0 2.3 0a1.15 1.15 0 1 0 -2.3 0M643.2 123.6a1.15 1.15 0 1 0 2.3 0a1.15 1.15 0 1 0 -2.3 0M636.2 164.7a1.15 1.15 0 1 0 2.3 0a1.15 1.15 0 1 0 -2.3 0M616.4 108.0a1.15 1.15 0 1 0 2.3 0a1.15 1.15 0 1 0 -2.3 0M666.0 132.3a1.15 1.15 0 1 0 2.3 0a1.15 1.15 0 1 0 -2.3 0M661.2 89.8a1.15 1.15 0 1 0 2.3 0a1.15 1.15 0 1 0 -2.3 0M576.8 203.7a1.15 1.15 0 1 0 2.3 0a1.15 1.15 0 1 0 -2.3 0M532.3 197.9a1.15 1.15 0 1 0 2.3 0a1.15 1.15 0 1 0 -2.3 0M537.0 249.4a1.15 1.15 0 1 0 2.3 0a1.15 1.15 0 1 0 -2.3 0M556.5 236.4a1.15 1.15 0 1 0 2.3 0a1.15 1.15 0 1 0 -2.3 0M525.6 176.3a1.15 1.15 0 1 0 2.3 0a1.15 1.15 0 1 0 -2.3 0M588.7 182.8a1.15 1.15 0 1 0 2.3 0a1.15 1.15 0 1 0 -2.3 0M614.1 102.6a1.15 1.15 0 1 0 2.3 0a1.15 1.15 0 1 0 -2.3 0M572.1 164.2a1.15 1.15 0 1 0 2.3 0a1.15 1.15 0 1 0 -2.3 0M640.6 146.1a1.15 1.15 0 1 0 2.3 0a1.15 1.15 0 1 0 -2.3 0M655.3 111.0a1.15 1.15 0 1 0 2.3 0a1.15 1.15 0 1 0 -2.3 0M526.7 255.6a1.15 1.15 0 1 0 2.3 0a1.15 1.15 0 1 0 -2.3 0M604.4 156.5a1.15 1.15 0 1 0 2.3 0a1.15 1.15 0 1 0 -2.3 0M625.8 144.3a1.15 1.15 0 1 0 2.3 0a1.15 1.15 0 1 0 -2.3 0M610.5 127.6a1.15 1.15 0 1 0 2.3 0a1.15 1.15 0 1 0 -2.3 0M651.6 137.1a1.15 1.15 0 1 0 2.3 0a1.15 1.15 0 1 0 -2.3 0M532.7 219.7a1.15 1.15 0 1 0 2.3 0a1.15 1.15 0 1 0 -2.3 0M625.5 124.9a1.15 1.15 0 1 0 2.3 0a1.15 1.15 0 1 0 -2.3 0M521.0 301.9a1.15 1.15 0 1 0 2.3 0a1.15 1.15 0 1 0 -2.3 0M604.1 171.6a1.15 1.15 0 1 0 2.3 0a1.15 1.15 0 1 0 -2.3 0M587.9 117.8a1.15 1.15 0 1 0 2.3 0a1.15 1.15 0 1 0 -2.3 0M586.5 136.7a1.15 1.15 0 1 0 2.3 0a1.15 1.15 0 1 0 -2.3 0M604.6 89.1a1.15 1.15 0 1 0 2.3 0a1.15 1.15 0 1 0 -2.3 0M620.9 167.8a1.15 1.15 0 1 0 2.3 0a1.15 1.15 0 1 0 -2.3 0M516.3 273.3a1.15 1.15 0 1 0 2.3 0a1.15 1.15 0 1 0 -2.3 0M617.9 112.9a1.15 1.15 0 1 0 2.3 0a1.15 1.15 0 1 0 -2.3 0M526.5 232.6a1.15 1.15 0 1 0 2.3 0a1.15 1.15 0 1 0 -2.3 0M562.2 204.0a1.15 1.15 0 1 0 2.3 0a1.15 1.15 0 1 0 -2.3 0M663.4 119.3a1.15 1.15 0 1 0 2.3 0a1.15 1.15 0 1 0 -2.3 0M638.6 140.7a1.15 1.15 0 1 0 2.3 0a1.15 1.15 0 1 0 -2.3 0M583.1 172.3a1.15 1.15 0 1 0 2.3 0a1.15 1.15 0 1 0 -2.3 0M538.5 186.1a1.15 1.15 0 1 0 2.3 0a1.15 1.15 0 1 0 -2.3 0M540.4 213.0a1.15 1.15 0 1 0 2.3 0a1.15 1.15 0 1 0 -2.3 0M651.7 92.7a1.15 1.15 0 1 0 2.3 0a1.15 1.15 0 1 0 -2.3 0M575.8 221.1a1.15 1.15 0 1 0 2.3 0a1.15 1.15 0 1 0 -2.3 0M525.4 221.3a1.15 1.15 0 1 0 2.3 0a1.15 1.15 0 1 0 -2.3 0M586.0 157.3a1.15 1.15 0 1 0 2.3 0a1.15 1.15 0 1 0 -2.3 0M574.2 200.5a1.15 1.15 0 1 0 2.3 0a1.15 1.15 0 1 0 -2.3 0M593.6 133.6a1.15 1.15 0 1 0 2.3 0a1.15 1.15 0 1 0 -2.3 0M594.7 89.0a1.15 1.15 0 1 0 2.3 0a1.15 1.15 0 1 0 -2.3 0M625.2 87.5a1.15 1.15 0 1 0 2.3 0a1.15 1.15 0 1 0 -2.3 0M585.3 176.3a1.15 1.15 0 1 0 2.3 0a1.15 1.15 0 1 0 -2.3 0M576.7 123.8a1.15 1.15 0 1 0 2.3 0a1.15 1.15 0 1 0 -2.3 0M570.3 227.5a1.15 1.15 0 1 0 2.3 0a1.15 1.15 0 1 0 -2.3 0M576.1 194.5a1.15 1.15 0 1 0 2.3 0a1.15 1.15 0 1 0 -2.3 0M642.1 102.2a1.15 1.15 0 1 0 2.3 0a1.15 1.15 0 1 0 -2.3 0M587.7 209.5a1.15 1.15 0 1 0 2.3 0a1.15 1.15 0 1 0 -2.3 0M599.9 144.0a1.15 1.15 0 1 0 2.3 0a1.15 1.15 0 1 0 -2.3 0M581.0 108.5a1.15 1.15 0 1 0 2.3 0a1.15 1.15 0 1 0 -2.3 0M541.3 195.5a1.15 1.15 0 1 0 2.3 0a1.15 1.15 0 1 0 -2.3 0M525.7 207.8a1.15 1.15 0 1 0 2.3 0a1.15 1.15 0 1 0 -2.3 0M530.9 264.1a1.15 1.15 0 1 0 2.3 0a1.15 1.15 0 1 0 -2.3 0M556.2 244.3a1.15 1.15 0 1 0 2.3 0a1.15 1.15 0 1 0 -2.3 0M631.8 167.5a1.15 1.15 0 1 0 2.3 0a1.15 1.15 0 1 0 -2.3 0M601.1 121.5a1.15 1.15 0 1 0 2.3 0a1.15 1.15 0 1 0 -2.3 0M567.5 186.4a1.15 1.15 0 1 0 2.3 0a1.15 1.15 0 1 0 -2.3 0M536.9 164.3a1.15 1.15 0 1 0 2.3 0a1.15 1.15 0 1 0 -2.3 0M528.6 296.3a1.15 1.15 0 1 0 2.3 0a1.15 1.15 0 1 0 -2.3 0M537.0 207.2a1.15 1.15 0 1 0 2.3 0a1.15 1.15 0 1 0 -2.3 0M547.0 246.4a1.15 1.15 0 1 0 2.3 0a1.15 1.15 0 1 0 -2.3 0M606.8 145.3a1.15 1.15 0 1 0 2.3 0a1.15 1.15 0 1 0 -2.3 0M623.2 123.1a1.15 1.15 0 1 0 2.3 0a1.15 1.15 0 1 0 -2.3 0M559.5 183.2a1.15 1.15 0 1 0 2.3 0a1.15 1.15 0 1 0 -2.3 0M591.4 137.9a1.15 1.15 0 1 0 2.3 0a1.15 1.15 0 1 0 -2.3 0M641.3 131.2a1.15 1.15 0 1 0 2.3 0a1.15 1.15 0 1 0 -2.3 0M626.9 104.0a1.15 1.15 0 1 0 2.3 0a1.15 1.15 0 1 0 -2.3 0M568.9 187.1a1.15 1.15 0 1 0 2.3 0a1.15 1.15 0 1 0 -2.3 0M632.5 107.9a1.15 1.15 0 1 0 2.3 0a1.15 1.15 0 1 0 -2.3 0M603.3 102.8a1.15 1.15 0 1 0 2.3 0a1.15 1.15 0 1 0 -2.3 0M580.0 192.9a1.15 1.15 0 1 0 2.3 0a1.15 1.15 0 1 0 -2.3 0M613.1 93.6a1.15 1.15 0 1 0 2.3 0a1.15 1.15 0 1 0 -2.3 0M591.0 155.8a1.15 1.15 0 1 0 2.3 0a1.15 1.15 0 1 0 -2.3 0M528.1 206.7a1.15 1.15 0 1 0 2.3 0a1.15 1.15 0 1 0 -2.3 0M582.2 177.7a1.15 1.15 0 1 0 2.3 0a1.15 1.15 0 1 0 -2.3 0M582.9 210.3a1.15 1.15 0 1 0 2.3 0a1.15 1.15 0 1 0 -2.3 0M514.9 189.4a1.15 1.15 0 1 0 2.3 0a1.15 1.15 0 1 0 -2.3 0M662.4 157.5a1.15 1.15 0 1 0 2.3 0a1.15 1.15 0 1 0 -2.3 0M525.3 240.9a1.15 1.15 0 1 0 2.3 0a1.15 1.15 0 1 0 -2.3 0M520.8 179.4a1.15 1.15 0 1 0 2.3 0a1.15 1.15 0 1 0 -2.3 0M557.5 199.0a1.15 1.15 0 1 0 2.3 0a1.15 1.15 0 1 0 -2.3 0M600.1 98.3a1.15 1.15 0 1 0 2.3 0a1.15 1.15 0 1 0 -2.3 0M535.5 231.9a1.15 1.15 0 1 0 2.3 0a1.15 1.15 0 1 0 -2.3 0M600.0 142.9a1.15 1.15 0 1 0 2.3 0a1.15 1.15 0 1 0 -2.3 0M518.9 257.9a1.15 1.15 0 1 0 2.3 0a1.15 1.15 0 1 0 -2.3 0M634.1 133.1a1.15 1.15 0 1 0 2.3 0a1.15 1.15 0 1 0 -2.3 0M632.0 119.0a1.15 1.15 0 1 0 2.3 0a1.15 1.15 0 1 0 -2.3 0M661.1 107.0a1.15 1.15 0 1 0 2.3 0a1.15 1.15 0 1 0 -2.3 0M540.1 235.1a1.15 1.15 0 1 0 2.3 0a1.15 1.15 0 1 0 -2.3 0M641.8 107.8a1.15 1.15 0 1 0 2.3 0a1.15 1.15 0 1 0 -2.3 0M568.9 178.4a1.15 1.15 0 1 0 2.3 0a1.15 1.15 0 1 0 -2.3 0M546.2 187.6a1.15 1.15 0 1 0 2.3 0a1.15 1.15 0 1 0 -2.3 0M600.3 146.5a1.15 1.15 0 1 0 2.3 0a1.15 1.15 0 1 0 -2.3 0M583.9 198.4a1.15 1.15 0 1 0 2.3 0a1.15 1.15 0 1 0 -2.3 0M579.2 148.3a1.15 1.15 0 1 0 2.3 0a1.15 1.15 0 1 0 -2.3 0M544.1 178.2a1.15 1.15 0 1 0 2.3 0a1.15 1.15 0 1 0 -2.3 0M587.4 148.5a1.15 1.15 0 1 0 2.3 0a1.15 1.15 0 1 0 -2.3 0M611.8 137.7a1.15 1.15 0 1 0 2.3 0a1.15 1.15 0 1 0 -2.3 0M618.3 168.4a1.15 1.15 0 1 0 2.3 0a1.15 1.15 0 1 0 -2.3 0M657.6 133.9a1.15 1.15 0 1 0 2.3 0a1.15 1.15 0 1 0 -2.3 0M654.2 110.7a1.15 1.15 0 1 0 2.3 0a1.15 1.15 0 1 0 -2.3 0M580.1 165.5a1.15 1.15 0 1 0 2.3 0a1.15 1.15 0 1 0 -2.3 0M614.0 122.1a1.15 1.15 0 1 0 2.3 0a1.15 1.15 0 1 0 -2.3 0M559.6 191.5a1.15 1.15 0 1 0 2.3 0a1.15 1.15 0 1 0 -2.3 0M643.8 81.7a1.15 1.15 0 1 0 2.3 0a1.15 1.15 0 1 0 -2.3 0M573.1 153.3a1.15 1.15 0 1 0 2.3 0a1.15 1.15 0 1 0 -2.3 0M652.5 111.5a1.15 1.15 0 1 0 2.3 0a1.15 1.15 0 1 0 -2.3 0M571.5 225.4a1.15 1.15 0 1 0 2.3 0a1.15 1.15 0 1 0 -2.3 0M667.8 105.8a1.15 1.15 0 1 0 2.3 0a1.15 1.15 0 1 0 -2.3 0M586.0 133.9a1.15 1.15 0 1 0 2.3 0a1.15 1.15 0 1 0 -2.3 0M560.3 220.1a1.15 1.15 0 1 0 2.3 0a1.15 1.15 0 1 0 -2.3 0M588.3 150.8a1.15 1.15 0 1 0 2.3 0a1.15 1.15 0 1 0 -2.3 0M649.4 160.3a1.15 1.15 0 1 0 2.3 0a1.15 1.15 0 1 0 -2.3 0M637.6 123.9a1.15 1.15 0 1 0 2.3 0a1.15 1.15 0 1 0 -2.3 0M555.9 186.5a1.15 1.15 0 1 0 2.3 0a1.15 1.15 0 1 0 -2.3 0M623.5 123.2a1.15 1.15 0 1 0 2.3 0a1.15 1.15 0 1 0 -2.3 0M515.2 299.1a1.15 1.15 0 1 0 2.3 0a1.15 1.15 0 1 0 -2.3 0M642.4 126.5a1.15 1.15 0 1 0 2.3 0a1.15 1.15 0 1 0 -2.3 0M594.1 127.2a1.15 1.15 0 1 0 2.3 0a1.15 1.15 0 1 0 -2.3 0M543.9 269.2a1.15 1.15 0 1 0 2.3 0a1.15 1.15 0 1 0 -2.3 0M643.0 165.4a1.15 1.15 0 1 0 2.3 0a1.15 1.15 0 1 0 -2.3 0M610.0 90.4a1.15 1.15 0 1 0 2.3 0a1.15 1.15 0 1 0 -2.3 0M655.2 96.9a1.15 1.15 0 1 0 2.3 0a1.15 1.15 0 1 0 -2.3 0M533.8 178.7a1.15 1.15 0 1 0 2.3 0a1.15 1.15 0 1 0 -2.3 0M561.3 255.1a1.15 1.15 0 1 0 2.3 0a1.15 1.15 0 1 0 -2.3 0M644.4 129.2a1.15 1.15 0 1 0 2.3 0a1.15 1.15 0 1 0 -2.3 0M539.1 246.8a1.15 1.15 0 1 0 2.3 0a1.15 1.15 0 1 0 -2.3 0M588.4 193.1a1.15 1.15 0 1 0 2.3 0a1.15 1.15 0 1 0 -2.3 0M589.5 156.4a1.15 1.15 0 1 0 2.3 0a1.15 1.15 0 1 0 -2.3 0M539.1 235.5a1.15 1.15 0 1 0 2.3 0a1.15 1.15 0 1 0 -2.3 0M522.5 232.7a1.15 1.15 0 1 0 2.3 0a1.15 1.15 0 1 0 -2.3 0M658.4 98.0a1.15 1.15 0 1 0 2.3 0a1.15 1.15 0 1 0 -2.3 0M625.1 129.7a1.15 1.15 0 1 0 2.3 0a1.15 1.15 0 1 0 -2.3 0M661.1 99.6a1.15 1.15 0 1 0 2.3 0a1.15 1.15 0 1 0 -2.3 0M645.1 132.3a1.15 1.15 0 1 0 2.3 0a1.15 1.15 0 1 0 -2.3 0M632.9 154.5a1.15 1.15 0 1 0 2.3 0a1.15 1.15 0 1 0 -2.3 0M657.6 102.2a1.15 1.15 0 1 0 2.3 0a1.15 1.15 0 1 0 -2.3 0M553.4 138.8a1.15 1.15 0 1 0 2.3 0a1.15 1.15 0 1 0 -2.3 0M586.6 137.2a1.15 1.15 0 1 0 2.3 0a1.15 1.15 0 1 0 -2.3 0M520.7 303.5a1.15 1.15 0 1 0 2.3 0a1.15 1.15 0 1 0 -2.3 0M641.9 156.2a1.15 1.15 0 1 0 2.3 0a1.15 1.15 0 1 0 -2.3 0M559.4 229.9a1.15 1.15 0 1 0 2.3 0a1.15 1.15 0 1 0 -2.3 0M591.9 172.4a1.15 1.15 0 1 0 2.3 0a1.15 1.15 0 1 0 -2.3 0M617.2 137.6a1.15 1.15 0 1 0 2.3 0a1.15 1.15 0 1 0 -2.3 0M519.5 298.9a1.15 1.15 0 1 0 2.3 0a1.15 1.15 0 1 0 -2.3 0M595.7 86.7a1.15 1.15 0 1 0 2.3 0a1.15 1.15 0 1 0 -2.3 0M663.4 156.4a1.15 1.15 0 1 0 2.3 0a1.15 1.15 0 1 0 -2.3 0M590.1 120.1a1.15 1.15 0 1 0 2.3 0a1.15 1.15 0 1 0 -2.3 0M618.2 128.7a1.15 1.15 0 1 0 2.3 0a1.15 1.15 0 1 0 -2.3 0M564.0 137.8a1.15 1.15 0 1 0 2.3 0a1.15 1.15 0 1 0 -2.3 0M518.5 297.3a1.15 1.15 0 1 0 2.3 0a1.15 1.15 0 1 0 -2.3 0M540.1 212.5a1.15 1.15 0 1 0 2.3 0a1.15 1.15 0 1 0 -2.3 0M607.4 150.5a1.15 1.15 0 1 0 2.3 0a1.15 1.15 0 1 0 -2.3 0M642.4 117.8a1.15 1.15 0 1 0 2.3 0a1.15 1.15 0 1 0 -2.3 0M655.5 158.8a1.15 1.15 0 1 0 2.3 0a1.15 1.15 0 1 0 -2.3 0M585.0 140.1a1.15 1.15 0 1 0 2.3 0a1.15 1.15 0 1 0 -2.3 0M524.9 202.9a1.15 1.15 0 1 0 2.3 0a1.15 1.15 0 1 0 -2.3 0M563.5 221.3a1.15 1.15 0 1 0 2.3 0a1.15 1.15 0 1 0 -2.3 0M544.0 174.3a1.15 1.15 0 1 0 2.3 0a1.15 1.15 0 1 0 -2.3 0M513.9 310.4a1.15 1.15 0 1 0 2.3 0a1.15 1.15 0 1 0 -2.3 0M571.3 225.9a1.15 1.15 0 1 0 2.3 0a1.15 1.15 0 1 0 -2.3 0M612.5 132.9a1.15 1.15 0 1 0 2.3 0a1.15 1.15 0 1 0 -2.3 0M559.9 247.9a1.15 1.15 0 1 0 2.3 0a1.15 1.15 0 1 0 -2.3 0M523.4 287.1a1.15 1.15 0 1 0 2.3 0a1.15 1.15 0 1 0 -2.3 0M590.9 124.0a1.15 1.15 0 1 0 2.3 0a1.15 1.15 0 1 0 -2.3 0M564.7 144.2a1.15 1.15 0 1 0 2.3 0a1.15 1.15 0 1 0 -2.3 0M643.9 141.0a1.15 1.15 0 1 0 2.3 0a1.15 1.15 0 1 0 -2.3 0M659.1 110.9a1.15 1.15 0 1 0 2.3 0a1.15 1.15 0 1 0 -2.3 0M522.7 297.8a1.15 1.15 0 1 0 2.3 0a1.15 1.15 0 1 0 -2.3 0M607.6 184.6a1.15 1.15 0 1 0 2.3 0a1.15 1.15 0 1 0 -2.3 0M615.1 147.3a1.15 1.15 0 1 0 2.3 0a1.15 1.15 0 1 0 -2.3 0M514.9 246.3a1.15 1.15 0 1 0 2.3 0a1.15 1.15 0 1 0 -2.3 0M545.5 270.9a1.15 1.15 0 1 0 2.3 0a1.15 1.15 0 1 0 -2.3 0M624.8 136.9a1.15 1.15 0 1 0 2.3 0a1.15 1.15 0 1 0 -2.3 0M540.2 182.6a1.15 1.15 0 1 0 2.3 0a1.15 1.15 0 1 0 -2.3 0M541.9 204.4a1.15 1.15 0 1 0 2.3 0a1.15 1.15 0 1 0 -2.3 0M530.2 250.4a1.15 1.15 0 1 0 2.3 0a1.15 1.15 0 1 0 -2.3 0M615.9 97.2a1.15 1.15 0 1 0 2.3 0a1.15 1.15 0 1 0 -2.3 0M612.0 107.8a1.15 1.15 0 1 0 2.3 0a1.15 1.15 0 1 0 -2.3 0M615.4 143.5a1.15 1.15 0 1 0 2.3 0a1.15 1.15 0 1 0 -2.3 0M531.1 235.4a1.15 1.15 0 1 0 2.3 0a1.15 1.15 0 1 0 -2.3 0M614.3 143.6a1.15 1.15 0 1 0 2.3 0a1.15 1.15 0 1 0 -2.3 0M533.6 202.9a1.15 1.15 0 1 0 2.3 0a1.15 1.15 0 1 0 -2.3 0M621.9 127.8a1.15 1.15 0 1 0 2.3 0a1.15 1.15 0 1 0 -2.3 0M549.1 191.4a1.15 1.15 0 1 0 2.3 0a1.15 1.15 0 1 0 -2.3 0M594.8 137.3a1.15 1.15 0 1 0 2.3 0a1.15 1.15 0 1 0 -2.3 0M595.7 166.6a1.15 1.15 0 1 0 2.3 0a1.15 1.15 0 1 0 -2.3 0M547.8 192.6a1.15 1.15 0 1 0 2.3 0a1.15 1.15 0 1 0 -2.3 0M657.2 117.5a1.15 1.15 0 1 0 2.3 0a1.15 1.15 0 1 0 -2.3 0M574.8 151.7a1.15 1.15 0 1 0 2.3 0a1.15 1.15 0 1 0 -2.3 0M516.4 232.5a1.15 1.15 0 1 0 2.3 0a1.15 1.15 0 1 0 -2.3 0M642.1 136.4a1.15 1.15 0 1 0 2.3 0a1.15 1.15 0 1 0 -2.3 0M636.6 115.9a1.15 1.15 0 1 0 2.3 0a1.15 1.15 0 1 0 -2.3 0M536.3 260.8a1.15 1.15 0 1 0 2.3 0a1.15 1.15 0 1 0 -2.3 0M532.0 267.8a1.15 1.15 0 1 0 2.3 0a1.15 1.15 0 1 0 -2.3 0M527.9 296.0a1.15 1.15 0 1 0 2.3 0a1.15 1.15 0 1 0 -2.3 0M568.6 204.7a1.15 1.15 0 1 0 2.3 0a1.15 1.15 0 1 0 -2.3 0M624.6 154.8a1.15 1.15 0 1 0 2.3 0a1.15 1.15 0 1 0 -2.3 0M600.8 130.8a1.15 1.15 0 1 0 2.3 0a1.15 1.15 0 1 0 -2.3 0M598.8 102.4a1.15 1.15 0 1 0 2.3 0a1.15 1.15 0 1 0 -2.3 0M599.6 139.0a1.15 1.15 0 1 0 2.3 0a1.15 1.15 0 1 0 -2.3 0M549.7 253.8a1.15 1.15 0 1 0 2.3 0a1.15 1.15 0 1 0 -2.3 0M594.3 196.0a1.15 1.15 0 1 0 2.3 0a1.15 1.15 0 1 0 -2.3 0M639.9 158.4a1.15 1.15 0 1 0 2.3 0a1.15 1.15 0 1 0 -2.3 0M623.1 131.4a1.15 1.15 0 1 0 2.3 0a1.15 1.15 0 1 0 -2.3 0M574.9 155.2a1.15 1.15 0 1 0 2.3 0a1.15 1.15 0 1 0 -2.3 0M533.9 275.1a1.15 1.15 0 1 0 2.3 0a1.15 1.15 0 1 0 -2.3 0M514.3 272.0a1.15 1.15 0 1 0 2.3 0a1.15 1.15 0 1 0 -2.3 0M620.0 87.4a1.15 1.15 0 1 0 2.3 0a1.15 1.15 0 1 0 -2.3 0M632.9 122.4a1.15 1.15 0 1 0 2.3 0a1.15 1.15 0 1 0 -2.3 0M532.3 280.2a1.15 1.15 0 1 0 2.3 0a1.15 1.15 0 1 0 -2.3 0M534.1 162.8a1.15 1.15 0 1 0 2.3 0a1.15 1.15 0 1 0 -2.3 0M539.3 184.4a1.15 1.15 0 1 0 2.3 0a1.15 1.15 0 1 0 -2.3 0M613.7 149.6a1.15 1.15 0 1 0 2.3 0a1.15 1.15 0 1 0 -2.3 0M655.6 120.8a1.15 1.15 0 1 0 2.3 0a1.15 1.15 0 1 0 -2.3 0M535.3 277.5a1.15 1.15 0 1 0 2.3 0a1.15 1.15 0 1 0 -2.3 0M528.2 178.4a1.15 1.15 0 1 0 2.3 0a1.15 1.15 0 1 0 -2.3 0M582.1 144.4a1.15 1.15 0 1 0 2.3 0a1.15 1.15 0 1 0 -2.3 0M650.7 122.3a1.15 1.15 0 1 0 2.3 0a1.15 1.15 0 1 0 -2.3 0M589.3 193.8a1.15 1.15 0 1 0 2.3 0a1.15 1.15 0 1 0 -2.3 0M531.3 229.3a1.15 1.15 0 1 0 2.3 0a1.15 1.15 0 1 0 -2.3 0M632.9 168.8a1.15 1.15 0 1 0 2.3 0a1.15 1.15 0 1 0 -2.3 0M602.6 167.8a1.15 1.15 0 1 0 2.3 0a1.15 1.15 0 1 0 -2.3 0M659.9 156.6a1.15 1.15 0 1 0 2.3 0a1.15 1.15 0 1 0 -2.3 0M598.0 186.7a1.15 1.15 0 1 0 2.3 0a1.15 1.15 0 1 0 -2.3 0M584.7 116.1a1.15 1.15 0 1 0 2.3 0a1.15 1.15 0 1 0 -2.3 0M557.8 245.5a1.15 1.15 0 1 0 2.3 0a1.15 1.15 0 1 0 -2.3 0M515.6 228.0a1.15 1.15 0 1 0 2.3 0a1.15 1.15 0 1 0 -2.3 0M541.7 191.1a1.15 1.15 0 1 0 2.3 0a1.15 1.15 0 1 0 -2.3 0M523.8 201.3a1.15 1.15 0 1 0 2.3 0a1.15 1.15 0 1 0 -2.3 0M622.0 140.6a1.15 1.15 0 1 0 2.3 0a1.15 1.15 0 1 0 -2.3 0M542.8 164.5a1.15 1.15 0 1 0 2.3 0a1.15 1.15 0 1 0 -2.3 0M592.8 141.9a1.15 1.15 0 1 0 2.3 0a1.15 1.15 0 1 0 -2.3 0M562.2 166.2a1.15 1.15 0 1 0 2.3 0a1.15 1.15 0 1 0 -2.3 0M629.1 168.8a1.15 1.15 0 1 0 2.3 0a1.15 1.15 0 1 0 -2.3 0M622.2 113.7a1.15 1.15 0 1 0 2.3 0a1.15 1.15 0 1 0 -2.3 0M534.2 194.8a1.15 1.15 0 1 0 2.3 0a1.15 1.15 0 1 0 -2.3 0M549.2 170.5a1.15 1.15 0 1 0 2.3 0a1.15 1.15 0 1 0 -2.3 0M572.4 146.3a1.15 1.15 0 1 0 2.3 0a1.15 1.15 0 1 0 -2.3 0M641.4 145.0a1.15 1.15 0 1 0 2.3 0a1.15 1.15 0 1 0 -2.3 0M532.4 234.2a1.15 1.15 0 1 0 2.3 0a1.15 1.15 0 1 0 -2.3 0M620.1 174.8a1.15 1.15 0 1 0 2.3 0a1.15 1.15 0 1 0 -2.3 0M577.8 222.0a1.15 1.15 0 1 0 2.3 0a1.15 1.15 0 1 0 -2.3 0M538.5 232.8a1.15 1.15 0 1 0 2.3 0a1.15 1.15 0 1 0 -2.3 0M627.2 134.6a1.15 1.15 0 1 0 2.3 0a1.15 1.15 0 1 0 -2.3 0M608.5 117.7a1.15 1.15 0 1 0 2.3 0a1.15 1.15 0 1 0 -2.3 0M634.9 157.4a1.15 1.15 0 1 0 2.3 0a1.15 1.15 0 1 0 -2.3 0M556.0 243.7a1.15 1.15 0 1 0 2.3 0a1.15 1.15 0 1 0 -2.3 0M630.8 87.5a1.15 1.15 0 1 0 2.3 0a1.15 1.15 0 1 0 -2.3 0M569.3 218.0a1.15 1.15 0 1 0 2.3 0a1.15 1.15 0 1 0 -2.3 0M619.3 126.0a1.15 1.15 0 1 0 2.3 0a1.15 1.15 0 1 0 -2.3 0M538.5 257.6a1.15 1.15 0 1 0 2.3 0a1.15 1.15 0 1 0 -2.3 0M662.8 126.0a1.15 1.15 0 1 0 2.3 0a1.15 1.15 0 1 0 -2.3 0M649.0 141.3a1.15 1.15 0 1 0 2.3 0a1.15 1.15 0 1 0 -2.3 0M541.1 164.6a1.15 1.15 0 1 0 2.3 0a1.15 1.15 0 1 0 -2.3 0M572.6 151.2a1.15 1.15 0 1 0 2.3 0a1.15 1.15 0 1 0 -2.3 0M517.5 304.8a1.15 1.15 0 1 0 2.3 0a1.15 1.15 0 1 0 -2.3 0M621.0 119.3a1.15 1.15 0 1 0 2.3 0a1.15 1.15 0 1 0 -2.3 0M584.0 189.5a1.15 1.15 0 1 0 2.3 0a1.15 1.15 0 1 0 -2.3 0M661.0 139.6a1.15 1.15 0 1 0 2.3 0a1.15 1.15 0 1 0 -2.3 0M591.5 123.0a1.15 1.15 0 1 0 2.3 0a1.15 1.15 0 1 0 -2.3 0M530.4 236.5a1.15 1.15 0 1 0 2.3 0a1.15 1.15 0 1 0 -2.3 0M622.8 153.9a1.15 1.15 0 1 0 2.3 0a1.15 1.15 0 1 0 -2.3 0M543.3 249.2a1.15 1.15 0 1 0 2.3 0a1.15 1.15 0 1 0 -2.3 0M630.6 159.8a1.15 1.15 0 1 0 2.3 0a1.15 1.15 0 1 0 -2.3 0M660.2 117.8a1.15 1.15 0 1 0 2.3 0a1.15 1.15 0 1 0 -2.3 0M596.6 113.8a1.15 1.15 0 1 0 2.3 0a1.15 1.15 0 1 0 -2.3 0M551.6 257.8a1.15 1.15 0 1 0 2.3 0a1.15 1.15 0 1 0 -2.3 0M623.5 111.2a1.15 1.15 0 1 0 2.3 0a1.15 1.15 0 1 0 -2.3 0M550.3 170.7a1.15 1.15 0 1 0 2.3 0a1.15 1.15 0 1 0 -2.3 0M645.7 107.5a1.15 1.15 0 1 0 2.3 0a1.15 1.15 0 1 0 -2.3 0M533.5 176.0a1.15 1.15 0 1 0 2.3 0a1.15 1.15 0 1 0 -2.3 0M611.8 181.5a1.15 1.15 0 1 0 2.3 0a1.15 1.15 0 1 0 -2.3 0M525.0 282.7a1.15 1.15 0 1 0 2.3 0a1.15 1.15 0 1 0 -2.3 0M533.1 215.0a1.15 1.15 0 1 0 2.3 0a1.15 1.15 0 1 0 -2.3 0M608.5 126.7a1.15 1.15 0 1 0 2.3 0a1.15 1.15 0 1 0 -2.3 0M537.0 205.3a1.15 1.15 0 1 0 2.3 0a1.15 1.15 0 1 0 -2.3 0M666.3 120.0a1.15 1.15 0 1 0 2.3 0a1.15 1.15 0 1 0 -2.3 0M654.5 128.7a1.15 1.15 0 1 0 2.3 0a1.15 1.15 0 1 0 -2.3 0M596.2 110.6a1.15 1.15 0 1 0 2.3 0a1.15 1.15 0 1 0 -2.3 0M632.3 145.9a1.15 1.15 0 1 0 2.3 0a1.15 1.15 0 1 0 -2.3 0M656.0 158.9a1.15 1.15 0 1 0 2.3 0a1.15 1.15 0 1 0 -2.3 0M580.7 141.7a1.15 1.15 0 1 0 2.3 0a1.15 1.15 0 1 0 -2.3 0M547.7 182.6a1.15 1.15 0 1 0 2.3 0a1.15 1.15 0 1 0 -2.3 0M539.3 172.5a1.15 1.15 0 1 0 2.3 0a1.15 1.15 0 1 0 -2.3 0M629.8 154.5a1.15 1.15 0 1 0 2.3 0a1.15 1.15 0 1 0 -2.3 0M539.8 194.9a1.15 1.15 0 1 0 2.3 0a1.15 1.15 0 1 0 -2.3 0M563.9 189.0a1.15 1.15 0 1 0 2.3 0a1.15 1.15 0 1 0 -2.3 0M598.1 164.8a1.15 1.15 0 1 0 2.3 0a1.15 1.15 0 1 0 -2.3 0M568.0 180.5a1.15 1.15 0 1 0 2.3 0a1.15 1.15 0 1 0 -2.3 0M585.1 146.1a1.15 1.15 0 1 0 2.3 0a1.15 1.15 0 1 0 -2.3 0M542.9 171.2a1.15 1.15 0 1 0 2.3 0a1.15 1.15 0 1 0 -2.3 0M531.9 178.0a1.15 1.15 0 1 0 2.3 0a1.15 1.15 0 1 0 -2.3 0M537.4 265.8a1.15 1.15 0 1 0 2.3 0a1.15 1.15 0 1 0 -2.3 0M562.1 158.8a1.15 1.15 0 1 0 2.3 0a1.15 1.15 0 1 0 -2.3 0M581.8 159.2a1.15 1.15 0 1 0 2.3 0a1.15 1.15 0 1 0 -2.3 0M600.5 154.7a1.15 1.15 0 1 0 2.3 0a1.15 1.15 0 1 0 -2.3 0M637.0 158.9a1.15 1.15 0 1 0 2.3 0a1.15 1.15 0 1 0 -2.3 0M599.5 165.0a1.15 1.15 0 1 0 2.3 0a1.15 1.15 0 1 0 -2.3 0M658.8 118.7a1.15 1.15 0 1 0 2.3 0a1.15 1.15 0 1 0 -2.3 0M614.3 138.0a1.15 1.15 0 1 0 2.3 0a1.15 1.15 0 1 0 -2.3 0M661.1 82.5a1.15 1.15 0 1 0 2.3 0a1.15 1.15 0 1 0 -2.3 0M650.8 153.5a1.15 1.15 0 1 0 2.3 0a1.15 1.15 0 1 0 -2.3 0M636.5 122.6a1.15 1.15 0 1 0 2.3 0a1.15 1.15 0 1 0 -2.3 0M583.8 184.7a1.15 1.15 0 1 0 2.3 0a1.15 1.15 0 1 0 -2.3 0M539.5 177.3a1.15 1.15 0 1 0 2.3 0a1.15 1.15 0 1 0 -2.3 0M648.1 105.9a1.15 1.15 0 1 0 2.3 0a1.15 1.15 0 1 0 -2.3 0M597.5 141.2a1.15 1.15 0 1 0 2.3 0a1.15 1.15 0 1 0 -2.3 0M615.7 157.1a1.15 1.15 0 1 0 2.3 0a1.15 1.15 0 1 0 -2.3 0M649.2 117.3a1.15 1.15 0 1 0 2.3 0a1.15 1.15 0 1 0 -2.3 0M633.6 109.9a1.15 1.15 0 1 0 2.3 0a1.15 1.15 0 1 0 -2.3 0M650.5 99.9a1.15 1.15 0 1 0 2.3 0a1.15 1.15 0 1 0 -2.3 0M596.2 94.8a1.15 1.15 0 1 0 2.3 0a1.15 1.15 0 1 0 -2.3 0M600.0 161.0a1.15 1.15 0 1 0 2.3 0a1.15 1.15 0 1 0 -2.3 0M611.1 170.3a1.15 1.15 0 1 0 2.3 0a1.15 1.15 0 1 0 -2.3 0M573.5 155.6a1.15 1.15 0 1 0 2.3 0a1.15 1.15 0 1 0 -2.3 0M648.2 158.4a1.15 1.15 0 1 0 2.3 0a1.15 1.15 0 1 0 -2.3 0M546.5 145.2a1.15 1.15 0 1 0 2.3 0a1.15 1.15 0 1 0 -2.3 0M622.6 160.9a1.15 1.15 0 1 0 2.3 0a1.15 1.15 0 1 0 -2.3 0M639.3 113.9a1.15 1.15 0 1 0 2.3 0a1.15 1.15 0 1 0 -2.3 0M640.4 145.3a1.15 1.15 0 1 0 2.3 0a1.15 1.15 0 1 0 -2.3 0M538.6 181.6a1.15 1.15 0 1 0 2.3 0a1.15 1.15 0 1 0 -2.3 0M574.0 151.5a1.15 1.15 0 1 0 2.3 0a1.15 1.15 0 1 0 -2.3 0M604.3 118.8a1.15 1.15 0 1 0 2.3 0a1.15 1.15 0 1 0 -2.3 0M612.3 180.0a1.15 1.15 0 1 0 2.3 0a1.15 1.15 0 1 0 -2.3 0M537.3 231.1a1.15 1.15 0 1 0 2.3 0a1.15 1.15 0 1 0 -2.3 0M554.4 152.7a1.15 1.15 0 1 0 2.3 0a1.15 1.15 0 1 0 -2.3 0M637.0 124.0a1.15 1.15 0 1 0 2.3 0a1.15 1.15 0 1 0 -2.3 0M515.4 286.1a1.15 1.15 0 1 0 2.3 0a1.15 1.15 0 1 0 -2.3 0M646.8 124.5a1.15 1.15 0 1 0 2.3 0a1.15 1.15 0 1 0 -2.3 0M531.8 207.5a1.15 1.15 0 1 0 2.3 0a1.15 1.15 0 1 0 -2.3 0M642.3 142.3a1.15 1.15 0 1 0 2.3 0a1.15 1.15 0 1 0 -2.3 0M544.8 163.5a1.15 1.15 0 1 0 2.3 0a1.15 1.15 0 1 0 -2.3 0M598.0 104.9a1.15 1.15 0 1 0 2.3 0a1.15 1.15 0 1 0 -2.3 0M631.2 132.3a1.15 1.15 0 1 0 2.3 0a1.15 1.15 0 1 0 -2.3 0M570.8 211.8a1.15 1.15 0 1 0 2.3 0a1.15 1.15 0 1 0 -2.3 0M573.5 191.3a1.15 1.15 0 1 0 2.3 0a1.15 1.15 0 1 0 -2.3 0M651.4 162.4a1.15 1.15 0 1 0 2.3 0a1.15 1.15 0 1 0 -2.3 0M528.1 204.2a1.15 1.15 0 1 0 2.3 0a1.15 1.15 0 1 0 -2.3 0M651.1 146.0a1.15 1.15 0 1 0 2.3 0a1.15 1.15 0 1 0 -2.3 0M547.8 267.2a1.15 1.15 0 1 0 2.3 0a1.15 1.15 0 1 0 -2.3 0M665.0 120.2a1.15 1.15 0 1 0 2.3 0a1.15 1.15 0 1 0 -2.3 0M532.9 286.7a1.15 1.15 0 1 0 2.3 0a1.15 1.15 0 1 0 -2.3 0M515.6 219.5a1.15 1.15 0 1 0 2.3 0a1.15 1.15 0 1 0 -2.3 0M552.9 168.4a1.15 1.15 0 1 0 2.3 0a1.15 1.15 0 1 0 -2.3 0M639.6 118.5a1.15 1.15 0 1 0 2.3 0a1.15 1.15 0 1 0 -2.3 0M637.3 149.3a1.15 1.15 0 1 0 2.3 0a1.15 1.15 0 1 0 -2.3 0M626.8 87.8a1.15 1.15 0 1 0 2.3 0a1.15 1.15 0 1 0 -2.3 0M652.4 98.7a1.15 1.15 0 1 0 2.3 0a1.15 1.15 0 1 0 -2.3 0M555.6 157.5a1.15 1.15 0 1 0 2.3 0a1.15 1.15 0 1 0 -2.3 0M554.3 227.7a1.15 1.15 0 1 0 2.3 0a1.15 1.15 0 1 0 -2.3 0M631.1 85.7a1.15 1.15 0 1 0 2.3 0a1.15 1.15 0 1 0 -2.3 0M587.5 134.2a1.15 1.15 0 1 0 2.3 0a1.15 1.15 0 1 0 -2.3 0M557.3 247.0a1.15 1.15 0 1 0 2.3 0a1.15 1.15 0 1 0 -2.3 0M559.6 150.9a1.15 1.15 0 1 0 2.3 0a1.15 1.15 0 1 0 -2.3 0M549.7 214.5a1.15 1.15 0 1 0 2.3 0a1.15 1.15 0 1 0 -2.3 0M561.9 256.5a1.15 1.15 0 1 0 2.3 0a1.15 1.15 0 1 0 -2.3 0M620.4 96.0a1.15 1.15 0 1 0 2.3 0a1.15 1.15 0 1 0 -2.3 0M603.1 114.2a1.15 1.15 0 1 0 2.3 0a1.15 1.15 0 1 0 -2.3 0M632.1 113.8a1.15 1.15 0 1 0 2.3 0a1.15 1.15 0 1 0 -2.3 0M614.7 144.1a1.15 1.15 0 1 0 2.3 0a1.15 1.15 0 1 0 -2.3 0M538.4 208.8a1.15 1.15 0 1 0 2.3 0a1.15 1.15 0 1 0 -2.3 0M525.0 255.1a1.15 1.15 0 1 0 2.3 0a1.15 1.15 0 1 0 -2.3 0M532.9 150.3a1.15 1.15 0 1 0 2.3 0a1.15 1.15 0 1 0 -2.3 0M630.0 95.2a1.15 1.15 0 1 0 2.3 0a1.15 1.15 0 1 0 -2.3 0M553.5 221.4a1.15 1.15 0 1 0 2.3 0a1.15 1.15 0 1 0 -2.3 0M579.5 174.8a1.15 1.15 0 1 0 2.3 0a1.15 1.15 0 1 0 -2.3 0M665.6 109.8a1.15 1.15 0 1 0 2.3 0a1.15 1.15 0 1 0 -2.3 0M545.7 264.9a1.15 1.15 0 1 0 2.3 0a1.15 1.15 0 1 0 -2.3 0M640.1 153.0a1.15 1.15 0 1 0 2.3 0a1.15 1.15 0 1 0 -2.3 0M603.0 171.8a1.15 1.15 0 1 0 2.3 0a1.15 1.15 0 1 0 -2.3 0M550.0 205.4a1.15 1.15 0 1 0 2.3 0a1.15 1.15 0 1 0 -2.3 0M620.1 173.9a1.15 1.15 0 1 0 2.3 0a1.15 1.15 0 1 0 -2.3 0M544.1 219.4a1.15 1.15 0 1 0 2.3 0a1.15 1.15 0 1 0 -2.3 0M636.6 124.8a1.15 1.15 0 1 0 2.3 0a1.15 1.15 0 1 0 -2.3 0M564.5 181.2a1.15 1.15 0 1 0 2.3 0a1.15 1.15 0 1 0 -2.3 0M628.7 156.2a1.15 1.15 0 1 0 2.3 0a1.15 1.15 0 1 0 -2.3 0M634.2 101.2a1.15 1.15 0 1 0 2.3 0a1.15 1.15 0 1 0 -2.3 0M521.7 181.3a1.15 1.15 0 1 0 2.3 0a1.15 1.15 0 1 0 -2.3 0M552.0 245.1a1.15 1.15 0 1 0 2.3 0a1.15 1.15 0 1 0 -2.3 0M531.7 185.3a1.15 1.15 0 1 0 2.3 0a1.15 1.15 0 1 0 -2.3 0M644.5 115.6a1.15 1.15 0 1 0 2.3 0a1.15 1.15 0 1 0 -2.3 0M533.5 263.3a1.15 1.15 0 1 0 2.3 0a1.15 1.15 0 1 0 -2.3 0M603.5 155.1a1.15 1.15 0 1 0 2.3 0a1.15 1.15 0 1 0 -2.3 0M594.6 114.7a1.15 1.15 0 1 0 2.3 0a1.15 1.15 0 1 0 -2.3 0M527.2 238.9a1.15 1.15 0 1 0 2.3 0a1.15 1.15 0 1 0 -2.3 0M543.6 278.7a1.15 1.15 0 1 0 2.3 0a1.15 1.15 0 1 0 -2.3 0M627.3 133.2a1.15 1.15 0 1 0 2.3 0a1.15 1.15 0 1 0 -2.3 0M570.3 195.4a1.15 1.15 0 1 0 2.3 0a1.15 1.15 0 1 0 -2.3 0M552.0 157.6a1.15 1.15 0 1 0 2.3 0a1.15 1.15 0 1 0 -2.3 0M524.3 276.6a1.15 1.15 0 1 0 2.3 0a1.15 1.15 0 1 0 -2.3 0M600.4 156.7a1.15 1.15 0 1 0 2.3 0a1.15 1.15 0 1 0 -2.3 0M622.5 153.0a1.15 1.15 0 1 0 2.3 0a1.15 1.15 0 1 0 -2.3 0M613.8 123.4a1.15 1.15 0 1 0 2.3 0a1.15 1.15 0 1 0 -2.3 0M657.5 95.4a1.15 1.15 0 1 0 2.3 0a1.15 1.15 0 1 0 -2.3 0M572.8 128.8a1.15 1.15 0 1 0 2.3 0a1.15 1.15 0 1 0 -2.3 0M618.1 138.7a1.15 1.15 0 1 0 2.3 0a1.15 1.15 0 1 0 -2.3 0M621.6 118.7a1.15 1.15 0 1 0 2.3 0a1.15 1.15 0 1 0 -2.3 0M640.9 120.3a1.15 1.15 0 1 0 2.3 0a1.15 1.15 0 1 0 -2.3 0M601.9 164.0a1.15 1.15 0 1 0 2.3 0a1.15 1.15 0 1 0 -2.3 0M660.0 129.2a1.15 1.15 0 1 0 2.3 0a1.15 1.15 0 1 0 -2.3 0M654.2 135.8a1.15 1.15 0 1 0 2.3 0a1.15 1.15 0 1 0 -2.3 0M516.8 272.7a1.15 1.15 0 1 0 2.3 0a1.15 1.15 0 1 0 -2.3 0M560.4 250.1a1.15 1.15 0 1 0 2.3 0a1.15 1.15 0 1 0 -2.3 0M563.5 150.1a1.15 1.15 0 1 0 2.3 0a1.15 1.15 0 1 0 -2.3 0M579.8 222.5a1.15 1.15 0 1 0 2.3 0a1.15 1.15 0 1 0 -2.3 0M656.2 123.2a1.15 1.15 0 1 0 2.3 0a1.15 1.15 0 1 0 -2.3 0M640.6 163.0a1.15 1.15 0 1 0 2.3 0a1.15 1.15 0 1 0 -2.3 0M558.9 249.8a1.15 1.15 0 1 0 2.3 0a1.15 1.15 0 1 0 -2.3 0M628.9 85.5a1.15 1.15 0 1 0 2.3 0a1.15 1.15 0 1 0 -2.3 0M560.5 236.9a1.15 1.15 0 1 0 2.3 0a1.15 1.15 0 1 0 -2.3 0M627.1 98.1a1.15 1.15 0 1 0 2.3 0a1.15 1.15 0 1 0 -2.3 0M580.7 209.1a1.15 1.15 0 1 0 2.3 0a1.15 1.15 0 1 0 -2.3 0M580.0 155.6a1.15 1.15 0 1 0 2.3 0a1.15 1.15 0 1 0 -2.3 0M664.1 112.9a1.15 1.15 0 1 0 2.3 0a1.15 1.15 0 1 0 -2.3 0M644.8 99.1a1.15 1.15 0 1 0 2.3 0a1.15 1.15 0 1 0 -2.3 0M633.9 142.9a1.15 1.15 0 1 0 2.3 0a1.15 1.15 0 1 0 -2.3 0M547.8 173.9a1.15 1.15 0 1 0 2.3 0a1.15 1.15 0 1 0 -2.3 0M660.7 130.3a1.15 1.15 0 1 0 2.3 0a1.15 1.15 0 1 0 -2.3 0M632.7 167.2a1.15 1.15 0 1 0 2.3 0a1.15 1.15 0 1 0 -2.3 0M515.7 231.6a1.15 1.15 0 1 0 2.3 0a1.15 1.15 0 1 0 -2.3 0M519.4 261.5a1.15 1.15 0 1 0 2.3 0a1.15 1.15 0 1 0 -2.3 0M624.9 104.7a1.15 1.15 0 1 0 2.3 0a1.15 1.15 0 1 0 -2.3 0M619.8 139.4a1.15 1.15 0 1 0 2.3 0a1.15 1.15 0 1 0 -2.3 0M581.4 189.8a1.15 1.15 0 1 0 2.3 0a1.15 1.15 0 1 0 -2.3 0M579.8 123.7a1.15 1.15 0 1 0 2.3 0a1.15 1.15 0 1 0 -2.3 0M634.3 91.6a1.15 1.15 0 1 0 2.3 0a1.15 1.15 0 1 0 -2.3 0M573.8 231.8a1.15 1.15 0 1 0 2.3 0a1.15 1.15 0 1 0 -2.3 0M555.8 168.3a1.15 1.15 0 1 0 2.3 0a1.15 1.15 0 1 0 -2.3 0M650.2 105.0a1.15 1.15 0 1 0 2.3 0a1.15 1.15 0 1 0 -2.3 0M579.6 212.7a1.15 1.15 0 1 0 2.3 0a1.15 1.15 0 1 0 -2.3 0M575.3 193.3a1.15 1.15 0 1 0 2.3 0a1.15 1.15 0 1 0 -2.3 0M557.1 132.5a1.15 1.15 0 1 0 2.3 0a1.15 1.15 0 1 0 -2.3 0M513.5 223.4a1.15 1.15 0 1 0 2.3 0a1.15 1.15 0 1 0 -2.3 0M604.4 128.4a1.15 1.15 0 1 0 2.3 0a1.15 1.15 0 1 0 -2.3 0M532.1 209.8a1.15 1.15 0 1 0 2.3 0a1.15 1.15 0 1 0 -2.3 0M600.0 190.0a1.15 1.15 0 1 0 2.3 0a1.15 1.15 0 1 0 -2.3 0M658.6 130.9a1.15 1.15 0 1 0 2.3 0a1.15 1.15 0 1 0 -2.3 0M625.7 107.1a1.15 1.15 0 1 0 2.3 0a1.15 1.15 0 1 0 -2.3 0M531.8 276.3a1.15 1.15 0 1 0 2.3 0a1.15 1.15 0 1 0 -2.3 0M570.0 233.5a1.15 1.15 0 1 0 2.3 0a1.15 1.15 0 1 0 -2.3 0M627.9 171.0a1.15 1.15 0 1 0 2.3 0a1.15 1.15 0 1 0 -2.3 0M585.3 174.2a1.15 1.15 0 1 0 2.3 0a1.15 1.15 0 1 0 -2.3 0M515.6 238.8a1.15 1.15 0 1 0 2.3 0a1.15 1.15 0 1 0 -2.3 0M568.3 199.9a1.15 1.15 0 1 0 2.3 0a1.15 1.15 0 1 0 -2.3 0M578.2 220.1a1.15 1.15 0 1 0 2.3 0a1.15 1.15 0 1 0 -2.3 0M601.0 157.8a1.15 1.15 0 1 0 2.3 0a1.15 1.15 0 1 0 -2.3 0M667.4 150.0a1.15 1.15 0 1 0 2.3 0a1.15 1.15 0 1 0 -2.3 0M643.7 151.7a1.15 1.15 0 1 0 2.3 0a1.15 1.15 0 1 0 -2.3 0M578.4 155.5a1.15 1.15 0 1 0 2.3 0a1.15 1.15 0 1 0 -2.3 0M543.6 158.4a1.15 1.15 0 1 0 2.3 0a1.15 1.15 0 1 0 -2.3 0M649.5 160.6a1.15 1.15 0 1 0 2.3 0a1.15 1.15 0 1 0 -2.3 0M650.0 89.3a1.15 1.15 0 1 0 2.3 0a1.15 1.15 0 1 0 -2.3 0M609.8 101.0a1.15 1.15 0 1 0 2.3 0a1.15 1.15 0 1 0 -2.3 0M583.2 188.4a1.15 1.15 0 1 0 2.3 0a1.15 1.15 0 1 0 -2.3 0M656.1 91.1a1.15 1.15 0 1 0 2.3 0a1.15 1.15 0 1 0 -2.3 0M584.7 193.1a1.15 1.15 0 1 0 2.3 0a1.15 1.15 0 1 0 -2.3 0M573.3 175.8a1.15 1.15 0 1 0 2.3 0a1.15 1.15 0 1 0 -2.3 0M594.6 95.4a1.15 1.15 0 1 0 2.3 0a1.15 1.15 0 1 0 -2.3 0M571.3 163.9a1.15 1.15 0 1 0 2.3 0a1.15 1.15 0 1 0 -2.3 0M612.2 132.2a1.15 1.15 0 1 0 2.3 0a1.15 1.15 0 1 0 -2.3 0M571.3 199.2a1.15 1.15 0 1 0 2.3 0a1.15 1.15 0 1 0 -2.3 0M550.2 233.7a1.15 1.15 0 1 0 2.3 0a1.15 1.15 0 1 0 -2.3 0M538.0 240.2a1.15 1.15 0 1 0 2.3 0a1.15 1.15 0 1 0 -2.3 0M640.8 160.5a1.15 1.15 0 1 0 2.3 0a1.15 1.15 0 1 0 -2.3 0M529.2 240.4a1.15 1.15 0 1 0 2.3 0a1.15 1.15 0 1 0 -2.3 0M551.9 194.4a1.15 1.15 0 1 0 2.3 0a1.15 1.15 0 1 0 -2.3 0M594.8 166.5a1.15 1.15 0 1 0 2.3 0a1.15 1.15 0 1 0 -2.3 0M537.7 243.3a1.15 1.15 0 1 0 2.3 0a1.15 1.15 0 1 0 -2.3 0M566.7 154.0a1.15 1.15 0 1 0 2.3 0a1.15 1.15 0 1 0 -2.3 0M606.3 147.6a1.15 1.15 0 1 0 2.3 0a1.15 1.15 0 1 0 -2.3 0M525.4 250.5a1.15 1.15 0 1 0 2.3 0a1.15 1.15 0 1 0 -2.3 0M613.5 84.4a1.15 1.15 0 1 0 2.3 0a1.15 1.15 0 1 0 -2.3 0M519.3 271.0a1.15 1.15 0 1 0 2.3 0a1.15 1.15 0 1 0 -2.3 0M613.6 175.3a1.15 1.15 0 1 0 2.3 0a1.15 1.15 0 1 0 -2.3 0M544.0 169.6a1.15 1.15 0 1 0 2.3 0a1.15 1.15 0 1 0 -2.3 0M601.3 95.6a1.15 1.15 0 1 0 2.3 0a1.15 1.15 0 1 0 -2.3 0M622.2 120.1a1.15 1.15 0 1 0 2.3 0a1.15 1.15 0 1 0 -2.3 0M595.8 117.6a1.15 1.15 0 1 0 2.3 0a1.15 1.15 0 1 0 -2.3 0M633.2 96.5a1.15 1.15 0 1 0 2.3 0a1.15 1.15 0 1 0 -2.3 0M646.9 136.0a1.15 1.15 0 1 0 2.3 0a1.15 1.15 0 1 0 -2.3 0M528.5 192.5a1.15 1.15 0 1 0 2.3 0a1.15 1.15 0 1 0 -2.3 0M656.4 151.4a1.15 1.15 0 1 0 2.3 0a1.15 1.15 0 1 0 -2.3 0M662.8 100.6a1.15 1.15 0 1 0 2.3 0a1.15 1.15 0 1 0 -2.3 0M626.7 102.0a1.15 1.15 0 1 0 2.3 0a1.15 1.15 0 1 0 -2.3 0M661.9 132.7a1.15 1.15 0 1 0 2.3 0a1.15 1.15 0 1 0 -2.3 0M574.1 165.9a1.15 1.15 0 1 0 2.3 0a1.15 1.15 0 1 0 -2.3 0M624.9 97.2a1.15 1.15 0 1 0 2.3 0a1.15 1.15 0 1 0 -2.3 0M622.4 152.4a1.15 1.15 0 1 0 2.3 0a1.15 1.15 0 1 0 -2.3 0M562.1 138.7a1.15 1.15 0 1 0 2.3 0a1.15 1.15 0 1 0 -2.3 0M599.0 174.2a1.15 1.15 0 1 0 2.3 0a1.15 1.15 0 1 0 -2.3 0M535.4 234.7a1.15 1.15 0 1 0 2.3 0a1.15 1.15 0 1 0 -2.3 0M619.3 133.4a1.15 1.15 0 1 0 2.3 0a1.15 1.15 0 1 0 -2.3 0M548.7 188.3a1.15 1.15 0 1 0 2.3 0a1.15 1.15 0 1 0 -2.3 0M620.0 85.0a1.15 1.15 0 1 0 2.3 0a1.15 1.15 0 1 0 -2.3 0M640.6 121.5a1.15 1.15 0 1 0 2.3 0a1.15 1.15 0 1 0 -2.3 0M621.7 95.8a1.15 1.15 0 1 0 2.3 0a1.15 1.15 0 1 0 -2.3 0M532.2 280.7a1.15 1.15 0 1 0 2.3 0a1.15 1.15 0 1 0 -2.3 0M601.2 87.0a1.15 1.15 0 1 0 2.3 0a1.15 1.15 0 1 0 -2.3 0M541.0 260.6a1.15 1.15 0 1 0 2.3 0a1.15 1.15 0 1 0 -2.3 0M576.5 187.4a1.15 1.15 0 1 0 2.3 0a1.15 1.15 0 1 0 -2.3 0M645.0 117.9a1.15 1.15 0 1 0 2.3 0a1.15 1.15 0 1 0 -2.3 0M572.0 216.1a1.15 1.15 0 1 0 2.3 0a1.15 1.15 0 1 0 -2.3 0M545.1 266.8a1.15 1.15 0 1 0 2.3 0a1.15 1.15 0 1 0 -2.3 0M614.5 122.8a1.15 1.15 0 1 0 2.3 0a1.15 1.15 0 1 0 -2.3 0M664.7 89.6a1.15 1.15 0 1 0 2.3 0a1.15 1.15 0 1 0 -2.3 0M648.4 132.7a1.15 1.15 0 1 0 2.3 0a1.15 1.15 0 1 0 -2.3 0M593.2 153.0a1.15 1.15 0 1 0 2.3 0a1.15 1.15 0 1 0 -2.3 0M623.4 161.0a1.15 1.15 0 1 0 2.3 0a1.15 1.15 0 1 0 -2.3 0M568.7 207.4a1.15 1.15 0 1 0 2.3 0a1.15 1.15 0 1 0 -2.3 0M627.2 158.3a1.15 1.15 0 1 0 2.3 0a1.15 1.15 0 1 0 -2.3 0M610.5 156.3a1.15 1.15 0 1 0 2.3 0a1.15 1.15 0 1 0 -2.3 0M610.5 125.0a1.15 1.15 0 1 0 2.3 0a1.15 1.15 0 1 0 -2.3 0M551.3 207.7a1.15 1.15 0 1 0 2.3 0a1.15 1.15 0 1 0 -2.3 0M548.2 215.4a1.15 1.15 0 1 0 2.3 0a1.15 1.15 0 1 0 -2.3 0M559.7 143.5a1.15 1.15 0 1 0 2.3 0a1.15 1.15 0 1 0 -2.3 0M601.2 179.9a1.15 1.15 0 1 0 2.3 0a1.15 1.15 0 1 0 -2.3 0M598.2 110.4a1.15 1.15 0 1 0 2.3 0a1.15 1.15 0 1 0 -2.3 0M568.3 150.6a1.15 1.15 0 1 0 2.3 0a1.15 1.15 0 1 0 -2.3 0M651.5 122.8a1.15 1.15 0 1 0 2.3 0a1.15 1.15 0 1 0 -2.3 0M536.0 173.2a1.15 1.15 0 1 0 2.3 0a1.15 1.15 0 1 0 -2.3 0M585.1 155.8a1.15 1.15 0 1 0 2.3 0a1.15 1.15 0 1 0 -2.3 0M558.1 255.9a1.15 1.15 0 1 0 2.3 0a1.15 1.15 0 1 0 -2.3 0M650.8 100.3a1.15 1.15 0 1 0 2.3 0a1.15 1.15 0 1 0 -2.3 0M561.8 177.9a1.15 1.15 0 1 0 2.3 0a1.15 1.15 0 1 0 -2.3 0M660.7 161.9a1.15 1.15 0 1 0 2.3 0a1.15 1.15 0 1 0 -2.3 0M522.7 248.7a1.15 1.15 0 1 0 2.3 0a1.15 1.15 0 1 0 -2.3 0M636.0 116.1a1.15 1.15 0 1 0 2.3 0a1.15 1.15 0 1 0 -2.3 0M609.4 103.3a1.15 1.15 0 1 0 2.3 0a1.15 1.15 0 1 0 -2.3 0M567.4 141.8a1.15 1.15 0 1 0 2.3 0a1.15 1.15 0 1 0 -2.3 0M527.5 278.6a1.15 1.15 0 1 0 2.3 0a1.15 1.15 0 1 0 -2.3 0M582.6 136.6a1.15 1.15 0 1 0 2.3 0a1.15 1.15 0 1 0 -2.3 0M531.6 232.6a1.15 1.15 0 1 0 2.3 0a1.15 1.15 0 1 0 -2.3 0M661.7 108.9a1.15 1.15 0 1 0 2.3 0a1.15 1.15 0 1 0 -2.3 0M559.7 258.2a1.15 1.15 0 1 0 2.3 0a1.15 1.15 0 1 0 -2.3 0M568.1 162.2a1.15 1.15 0 1 0 2.3 0a1.15 1.15 0 1 0 -2.3 0M526.7 179.2a1.15 1.15 0 1 0 2.3 0a1.15 1.15 0 1 0 -2.3 0M555.6 182.0a1.15 1.15 0 1 0 2.3 0a1.15 1.15 0 1 0 -2.3 0M547.4 236.6a1.15 1.15 0 1 0 2.3 0a1.15 1.15 0 1 0 -2.3 0M514.0 252.7a1.15 1.15 0 1 0 2.3 0a1.15 1.15 0 1 0 -2.3 0M596.2 105.8a1.15 1.15 0 1 0 2.3 0a1.15 1.15 0 1 0 -2.3 0M623.6 91.7a1.15 1.15 0 1 0 2.3 0a1.15 1.15 0 1 0 -2.3 0M579.8 188.1a1.15 1.15 0 1 0 2.3 0a1.15 1.15 0 1 0 -2.3 0M553.8 146.1a1.15 1.15 0 1 0 2.3 0a1.15 1.15 0 1 0 -2.3 0M530.5 207.4a1.15 1.15 0 1 0 2.3 0a1.15 1.15 0 1 0 -2.3 0M663.1 121.2a1.15 1.15 0 1 0 2.3 0a1.15 1.15 0 1 0 -2.3 0M606.8 118.3a1.15 1.15 0 1 0 2.3 0a1.15 1.15 0 1 0 -2.3 0M608.0 114.2a1.15 1.15 0 1 0 2.3 0a1.15 1.15 0 1 0 -2.3 0M572.3 235.6a1.15 1.15 0 1 0 2.3 0a1.15 1.15 0 1 0 -2.3 0M542.4 246.0a1.15 1.15 0 1 0 2.3 0a1.15 1.15 0 1 0 -2.3 0M627.8 105.2a1.15 1.15 0 1 0 2.3 0a1.15 1.15 0 1 0 -2.3 0M516.6 261.5a1.15 1.15 0 1 0 2.3 0a1.15 1.15 0 1 0 -2.3 0M588.9 184.9a1.15 1.15 0 1 0 2.3 0a1.15 1.15 0 1 0 -2.3 0M650.2 98.0a1.15 1.15 0 1 0 2.3 0a1.15 1.15 0 1 0 -2.3 0M540.3 191.4a1.15 1.15 0 1 0 2.3 0a1.15 1.15 0 1 0 -2.3 0M540.1 172.2a1.15 1.15 0 1 0 2.3 0a1.15 1.15 0 1 0 -2.3 0M617.5 105.1a1.15 1.15 0 1 0 2.3 0a1.15 1.15 0 1 0 -2.3 0M537.8 204.7a1.15 1.15 0 1 0 2.3 0a1.15 1.15 0 1 0 -2.3 0M526.6 234.9a1.15 1.15 0 1 0 2.3 0a1.15 1.15 0 1 0 -2.3 0M559.8 218.8a1.15 1.15 0 1 0 2.3 0a1.15 1.15 0 1 0 -2.3 0M604.0 188.5a1.15 1.15 0 1 0 2.3 0a1.15 1.15 0 1 0 -2.3 0M573.1 160.9a1.15 1.15 0 1 0 2.3 0a1.15 1.15 0 1 0 -2.3 0M559.9 229.5a1.15 1.15 0 1 0 2.3 0a1.15 1.15 0 1 0 -2.3 0M627.9 84.3a1.15 1.15 0 1 0 2.3 0a1.15 1.15 0 1 0 -2.3 0M639.2 168.2a1.15 1.15 0 1 0 2.3 0a1.15 1.15 0 1 0 -2.3 0M664.4 160.2a1.15 1.15 0 1 0 2.3 0a1.15 1.15 0 1 0 -2.3 0M656.1 135.8a1.15 1.15 0 1 0 2.3 0a1.15 1.15 0 1 0 -2.3 0M574.3 204.7a1.15 1.15 0 1 0 2.3 0a1.15 1.15 0 1 0 -2.3 0M550.6 175.9a1.15 1.15 0 1 0 2.3 0a1.15 1.15 0 1 0 -2.3 0M525.1 279.4a1.15 1.15 0 1 0 2.3 0a1.15 1.15 0 1 0 -2.3 0M535.9 219.3a1.15 1.15 0 1 0 2.3 0a1.15 1.15 0 1 0 -2.3 0M577.7 190.5a1.15 1.15 0 1 0 2.3 0a1.15 1.15 0 1 0 -2.3 0M552.0 245.1a1.15 1.15 0 1 0 2.3 0a1.15 1.15 0 1 0 -2.3 0M609.8 123.3a1.15 1.15 0 1 0 2.3 0a1.15 1.15 0 1 0 -2.3 0M522.0 303.5a1.15 1.15 0 1 0 2.3 0a1.15 1.15 0 1 0 -2.3 0M530.7 170.0a1.15 1.15 0 1 0 2.3 0a1.15 1.15 0 1 0 -2.3 0M661.6 144.4a1.15 1.15 0 1 0 2.3 0a1.15 1.15 0 1 0 -2.3 0M538.5 248.7a1.15 1.15 0 1 0 2.3 0a1.15 1.15 0 1 0 -2.3 0M527.9 255.1a1.15 1.15 0 1 0 2.3 0a1.15 1.15 0 1 0 -2.3 0M616.2 128.5a1.15 1.15 0 1 0 2.3 0a1.15 1.15 0 1 0 -2.3 0M561.2 148.5a1.15 1.15 0 1 0 2.3 0a1.15 1.15 0 1 0 -2.3 0M615.2 164.1a1.15 1.15 0 1 0 2.3 0a1.15 1.15 0 1 0 -2.3 0M604.5 112.0a1.15 1.15 0 1 0 2.3 0a1.15 1.15 0 1 0 -2.3 0M522.9 298.5a1.15 1.15 0 1 0 2.3 0a1.15 1.15 0 1 0 -2.3 0M559.1 172.0a1.15 1.15 0 1 0 2.3 0a1.15 1.15 0 1 0 -2.3 0M547.0 145.7a1.15 1.15 0 1 0 2.3 0a1.15 1.15 0 1 0 -2.3 0M615.6 113.2a1.15 1.15 0 1 0 2.3 0a1.15 1.15 0 1 0 -2.3 0"/>
<line x1="88.4" y1="345.5" x2="668.8" y2="345.5" stroke="#3c4b55" stroke-width="1.5" stroke-dasharray="5.85 2.33"/>
<line x1="88.4" y1="375.3" x2="668.8" y2="375.3" stroke="#000" stroke-width="1.5"/>
<g stroke="#000"><line x1="88.40" y1="442.4" x2="88.40" y2="447.7" stroke-width="1.1"/><line x1="117.52" y1="442.4" x2="117.52" y2="445.09999999999997" stroke-width="0.8"/><line x1="134.55" y1="442.4" x2="134.55" y2="445.09999999999997" stroke-width="0.8"/><line x1="146.64" y1="442.4" x2="146.64" y2="445.09999999999997" stroke-width="0.8"/><line x1="156.01" y1="442.4" x2="156.01" y2="445.09999999999997" stroke-width="0.8"/><line x1="163.67" y1="442.4" x2="163.67" y2="445.09999999999997" stroke-width="0.8"/><line x1="170.15" y1="442.4" x2="170.15" y2="445.09999999999997" stroke-width="0.8"/><line x1="175.76" y1="442.4" x2="175.76" y2="445.09999999999997" stroke-width="0.8"/><line x1="180.71" y1="442.4" x2="180.71" y2="445.09999999999997" stroke-width="0.8"/><line x1="185.13" y1="442.4" x2="185.13" y2="447.7" stroke-width="1.1"/><line x1="214.25" y1="442.4" x2="214.25" y2="445.09999999999997" stroke-width="0.8"/><line x1="231.29" y1="442.4" x2="231.29" y2="445.09999999999997" stroke-width="0.8"/><line x1="243.37" y1="442.4" x2="243.37" y2="445.09999999999997" stroke-width="0.8"/><line x1="252.75" y1="442.4" x2="252.75" y2="445.09999999999997" stroke-width="0.8"/><line x1="260.41" y1="442.4" x2="260.41" y2="445.09999999999997" stroke-width="0.8"/><line x1="266.88" y1="442.4" x2="266.88" y2="445.09999999999997" stroke-width="0.8"/><line x1="272.49" y1="442.4" x2="272.49" y2="445.09999999999997" stroke-width="0.8"/><line x1="277.44" y1="442.4" x2="277.44" y2="445.09999999999997" stroke-width="0.8"/><line x1="281.87" y1="442.4" x2="281.87" y2="447.7" stroke-width="1.1"/><line x1="310.99" y1="442.4" x2="310.99" y2="445.09999999999997" stroke-width="0.8"/><line x1="328.02" y1="442.4" x2="328.02" y2="445.09999999999997" stroke-width="0.8"/><line x1="340.11" y1="442.4" x2="340.11" y2="445.09999999999997" stroke-width="0.8"/><line x1="349.48" y1="442.4" x2="349.48" y2="445.09999999999997" stroke-width="0.8"/><line x1="357.14" y1="442.4" x2="357.14" y2="445.09999999999997" stroke-width="0.8"/><line x1="363.62" y1="442.4" x2="363.62" y2="445.09999999999997" stroke-width="0.8"/><line x1="369.23" y1="442.4" x2="369.23" y2="445.09999999999997" stroke-width="0.8"/><line x1="374.17" y1="442.4" x2="374.17" y2="445.09999999999997" stroke-width="0.8"/><line x1="378.60" y1="442.4" x2="378.60" y2="447.7" stroke-width="1.1"/><line x1="407.72" y1="442.4" x2="407.72" y2="445.09999999999997" stroke-width="0.8"/><line x1="424.75" y1="442.4" x2="424.75" y2="445.09999999999997" stroke-width="0.8"/><line x1="436.84" y1="442.4" x2="436.84" y2="445.09999999999997" stroke-width="0.8"/><line x1="446.21" y1="442.4" x2="446.21" y2="445.09999999999997" stroke-width="0.8"/><line x1="453.87" y1="442.4" x2="453.87" y2="445.09999999999997" stroke-width="0.8"/><line x1="460.35" y1="442.4" x2="460.35" y2="445.09999999999997" stroke-width="0.8"/><line x1="465.96" y1="442.4" x2="465.96" y2="445.09999999999997" stroke-width="0.8"/><line x1="470.91" y1="442.4" x2="470.91" y2="445.09999999999997" stroke-width="0.8"/><line x1="475.33" y1="442.4" x2="475.33" y2="447.7" stroke-width="1.1"/><line x1="504.45" y1="442.4" x2="504.45" y2="445.09999999999997" stroke-width="0.8"/><line x1="521.49" y1="442.4" x2="521.49" y2="445.09999999999997" stroke-width="0.8"/><line x1="533.57" y1="442.4" x2="533.57" y2="445.09999999999997" stroke-width="0.8"/><line x1="542.95" y1="442.4" x2="542.95" y2="445.09999999999997" stroke-width="0.8"/><line x1="550.61" y1="442.4" x2="550.61" y2="445.09999999999997" stroke-width="0.8"/><line x1="557.08" y1="442.4" x2="557.08" y2="445.09999999999997" stroke-width="0.8"/><line x1="562.69" y1="442.4" x2="562.69" y2="445.09999999999997" stroke-width="0.8"/><line x1="567.64" y1="442.4" x2="567.64" y2="445.09999999999997" stroke-width="0.8"/><line x1="572.07" y1="442.4" x2="572.07" y2="447.7" stroke-width="1.1"/><line x1="601.19" y1="442.4" x2="601.19" y2="445.09999999999997" stroke-width="0.8"/><line x1="618.22" y1="442.4" x2="618.22" y2="445.09999999999997" stroke-width="0.8"/><line x1="630.31" y1="442.4" x2="630.31" y2="445.09999999999997" stroke-width="0.8"/><line x1="639.68" y1="442.4" x2="639.68" y2="445.09999999999997" stroke-width="0.8"/><line x1="647.34" y1="442.4" x2="647.34" y2="445.09999999999997" stroke-width="0.8"/><line x1="653.82" y1="442.4" x2="653.82" y2="445.09999999999997" stroke-width="0.8"/><line x1="659.43" y1="442.4" x2="659.43" y2="445.09999999999997" stroke-width="0.8"/><line x1="664.37" y1="442.4" x2="664.37" y2="445.09999999999997" stroke-width="0.8"/><line x1="668.80" y1="442.4" x2="668.80" y2="447.7" stroke-width="1.1"/><line x1="88.4" y1="442.40" x2="85.7" y2="442.40" stroke-width="0.8"/><line x1="88.4" y1="438.54" x2="85.7" y2="438.54" stroke-width="0.8"/><line x1="88.4" y1="435.28" x2="85.7" y2="435.28" stroke-width="0.8"/><line x1="88.4" y1="432.46" x2="85.7" y2="432.46" stroke-width="0.8"/><line x1="88.4" y1="429.96" x2="85.7" y2="429.96" stroke-width="0.8"/><line x1="88.4" y1="427.73" x2="83.10000000000001" y2="427.73" stroke-width="1.1"/><line x1="88.4" y1="413.07" x2="85.7" y2="413.07" stroke-width="0.8"/><line x1="88.4" y1="404.49" x2="85.7" y2="404.49" stroke-width="0.8"/><line x1="88.4" y1="398.40" x2="85.7" y2="398.40" stroke-width="0.8"/><line x1="88.4" y1="393.68" x2="85.7" y2="393.68" stroke-width="0.8"/><line x1="88.4" y1="389.83" x2="85.7" y2="389.83" stroke-width="0.8"/><line x1="88.4" y1="386.56" x2="85.7" y2="386.56" stroke-width="0.8"/><line x1="88.4" y1="383.74" x2="85.7" y2="383.74" stroke-width="0.8"/><line x1="88.4" y1="381.25" x2="85.7" y2="381.25" stroke-width="0.8"/><line x1="88.4" y1="379.02" x2="83.10000000000001" y2="379.02" stroke-width="1.1"/><line x1="88.4" y1="364.35" x2="85.7" y2="364.35" stroke-width="0.8"/><line x1="88.4" y1="355.77" x2="85.7" y2="355.77" stroke-width="0.8"/><line x1="88.4" y1="349.69" x2="85.7" y2="349.69" stroke-width="0.8"/><line x1="88.4" y1="344.97" x2="85.7" y2="344.97" stroke-width="0.8"/><line x1="88.4" y1="341.11" x2="85.7" y2="341.11" stroke-width="0.8"/><line x1="88.4" y1="337.85" x2="85.7" y2="337.85" stroke-width="0.8"/><line x1="88.4" y1="335.02" x2="85.7" y2="335.02" stroke-width="0.8"/><line x1="88.4" y1="332.53" x2="85.7" y2="332.53" stroke-width="0.8"/><line x1="88.4" y1="330.30" x2="83.10000000000001" y2="330.30" stroke-width="1.1"/><line x1="88.4" y1="315.64" x2="85.7" y2="315.64" stroke-width="0.8"/><line x1="88.4" y1="307.06" x2="85.7" y2="307.06" stroke-width="0.8"/><line x1="88.4" y1="300.97" x2="85.7" y2="300.97" stroke-width="0.8"/><line x1="88.4" y1="296.25" x2="85.7" y2="296.25" stroke-width="0.8"/><line x1="88.4" y1="292.39" x2="85.7" y2="292.39" stroke-width="0.8"/><line x1="88.4" y1="289.13" x2="85.7" y2="289.13" stroke-width="0.8"/><line x1="88.4" y1="286.31" x2="85.7" y2="286.31" stroke-width="0.8"/><line x1="88.4" y1="283.81" x2="85.7" y2="283.81" stroke-width="0.8"/><line x1="88.4" y1="281.58" x2="83.10000000000001" y2="281.58" stroke-width="1.1"/><line x1="88.4" y1="266.92" x2="85.7" y2="266.92" stroke-width="0.8"/><line x1="88.4" y1="258.34" x2="85.7" y2="258.34" stroke-width="0.8"/><line x1="88.4" y1="252.25" x2="85.7" y2="252.25" stroke-width="0.8"/><line x1="88.4" y1="247.53" x2="85.7" y2="247.53" stroke-width="0.8"/><line x1="88.4" y1="243.68" x2="85.7" y2="243.68" stroke-width="0.8"/><line x1="88.4" y1="240.41" x2="85.7" y2="240.41" stroke-width="0.8"/><line x1="88.4" y1="237.59" x2="85.7" y2="237.59" stroke-width="0.8"/><line x1="88.4" y1="235.10" x2="85.7" y2="235.10" stroke-width="0.8"/><line x1="88.4" y1="232.87" x2="83.10000000000001" y2="232.87" stroke-width="1.1"/><line x1="88.4" y1="218.20" x2="85.7" y2="218.20" stroke-width="0.8"/><line x1="88.4" y1="209.62" x2="85.7" y2="209.62" stroke-width="0.8"/><line x1="88.4" y1="203.54" x2="85.7" y2="203.54" stroke-width="0.8"/><line x1="88.4" y1="198.82" x2="85.7" y2="198.82" stroke-width="0.8"/><line x1="88.4" y1="194.96" x2="85.7" y2="194.96" stroke-width="0.8"/><line x1="88.4" y1="191.70" x2="85.7" y2="191.70" stroke-width="0.8"/><line x1="88.4" y1="188.87" x2="85.7" y2="188.87" stroke-width="0.8"/><line x1="88.4" y1="186.38" x2="85.7" y2="186.38" stroke-width="0.8"/><line x1="88.4" y1="184.15" x2="83.10000000000001" y2="184.15" stroke-width="1.1"/><line x1="88.4" y1="169.49" x2="85.7" y2="169.49" stroke-width="0.8"/><line x1="88.4" y1="160.91" x2="85.7" y2="160.91" stroke-width="0.8"/><line x1="88.4" y1="154.82" x2="85.7" y2="154.82" stroke-width="0.8"/><line x1="88.4" y1="150.10" x2="85.7" y2="150.10" stroke-width="0.8"/><line x1="88.4" y1="146.24" x2="85.7" y2="146.24" stroke-width="0.8"/><line x1="88.4" y1="142.98" x2="85.7" y2="142.98" stroke-width="0.8"/><line x1="88.4" y1="140.15" x2="85.7" y2="140.15" stroke-width="0.8"/><line x1="88.4" y1="137.66" x2="85.7" y2="137.66" stroke-width="0.8"/><line x1="88.4" y1="135.43" x2="83.10000000000001" y2="135.43" stroke-width="1.1"/><line x1="88.4" y1="120.77" x2="85.7" y2="120.77" stroke-width="0.8"/><line x1="88.4" y1="112.19" x2="85.7" y2="112.19" stroke-width="0.8"/><line x1="88.4" y1="106.10" x2="85.7" y2="106.10" stroke-width="0.8"/><line x1="88.4" y1="101.38" x2="85.7" y2="101.38" stroke-width="0.8"/><line x1="88.4" y1="97.52" x2="85.7" y2="97.52" stroke-width="0.8"/><line x1="88.4" y1="94.26" x2="85.7" y2="94.26" stroke-width="0.8"/><line x1="88.4" y1="91.44" x2="85.7" y2="91.44" stroke-width="0.8"/><line x1="88.4" y1="88.95" x2="85.7" y2="88.95" stroke-width="0.8"/><line x1="88.4" y1="86.72" x2="83.10000000000001" y2="86.72" stroke-width="1.1"/><line x1="88.4" y1="72.05" x2="85.7" y2="72.05" stroke-width="0.8"/><line x1="88.4" y1="63.47" x2="85.7" y2="63.47" stroke-width="0.8"/><line x1="88.4" y1="57.39" x2="85.7" y2="57.39" stroke-width="0.8"/><line x1="88.4" y1="52.67" x2="85.7" y2="52.67" stroke-width="0.8"/><line x1="88.4" y1="48.81" x2="85.7" y2="48.81" stroke-width="0.8"/><line x1="88.4" y1="45.55" x2="85.7" y2="45.55" stroke-width="0.8"/><line x1="88.4" y1="42.72" x2="85.7" y2="42.72" stroke-width="0.8"/><line x1="88.4" y1="40.23" x2="85.7" y2="40.23" stroke-width="0.8"/><line x1="88.4" y1="38.00" x2="83.10000000000001" y2="38.00" stroke-width="1.1"/></g>
<rect x="88.4" y="38.0" width="580.40" height="404.40" fill="none" stroke="#000" stroke-width="1.1"/>
<rect x="98.0" y="47.4" width="201.2" height="91.0" rx="4" ry="4" fill="#fff" fill-opacity="0.8" stroke="#d6d6d6" stroke-width="1.6"/>
<circle cx="124.2" cy="63.9" r="4" fill="#0000ff"/>
<circle cx="124.2" cy="93.1" r="4" fill="#ff0000"/>
<circle cx="124.2" cy="120.4" r="4" fill="#653700"/>
<text x="159.00" y="65.80" font-family="Liberation Serif" font-size="18" font-style="italic" textLength="9.5" lengthAdjust="spacingAndGlyphs">&#967;</text><path d="M161.20 55.20c1.2-1.6 2.2-1.4 3 -0.6s1.9 0.9 3 -0.8" fill="none" stroke="#000" stroke-width="0.9"/><text x="169.30" y="59.10" font-family="Liberation Serif" font-size="13">0</text><text x="168.90" y="69.90" font-family="Liberation Serif" font-size="12">1</text>
<text x="158.00" y="93.80" font-family="Liberation Sans" font-size="16.2" textLength="88.0" lengthAdjust="spacingAndGlyphs">Axion (CO)</text>
<path d="M253.8 89.6H265.9M259.85 84V95.9" stroke="#000" stroke-width="0.95" fill="none"/>
<text x="274.90" y="95.20" font-family="Liberation Serif" font-size="18" font-style="italic" textLength="9.5" lengthAdjust="spacingAndGlyphs">&#967;</text><path d="M277.10 84.60c1.2-1.6 2.2-1.4 3 -0.6s1.9 0.9 3 -0.8" fill="none" stroke="#000" stroke-width="0.9"/><text x="285.20" y="88.50" font-family="Liberation Serif" font-size="13">0</text><text x="284.80" y="99.30" font-family="Liberation Serif" font-size="12">1</text>
<text x="158.00" y="124.00" font-family="Liberation Serif" font-size="19" textLength="14.0" lengthAdjust="spacingAndGlyphs">&#916;</text>
<text x="171.60" y="124.00" font-family="Liberation Serif" font-size="19" font-style="italic" textLength="17.5" lengthAdjust="spacingAndGlyphs">N</text>
<text x="187.70" y="127.90" font-family="Liberation Serif" font-size="12.5" font-style="italic" textLength="20.5" lengthAdjust="spacingAndGlyphs">eff</text>
<path d="M215.9 114.2L228.6 119.4L215.9 124.6" stroke="#000" stroke-width="1.05" fill="none"/>
<text x="233.60" y="124.00" font-family="Liberation Serif" font-size="18">1</text>
<text x="203.50" y="19.70" font-family="Liberation Sans" font-size="26.8" textLength="346.5" lengthAdjust="spacingAndGlyphs">Relic Density vs Breaking Scale</text>
<text x="67.90" y="477.20" font-family="Liberation Serif" font-size="22">10</text>
<text x="88.30" y="468.80" font-family="Liberation Serif" font-size="16.5">10</text>
<text x="164.63" y="477.20" font-family="Liberation Serif" font-size="22">10</text>
<text x="185.03" y="468.80" font-family="Liberation Serif" font-size="16.5">11</text>
<text x="261.37" y="477.20" font-family="Liberation Serif" font-size="22">10</text>
<text x="281.77" y="468.80" font-family="Liberation Serif" font-size="16.5">12</text>
<text x="358.10" y="477.20" font-family="Liberation Serif" font-size="22">10</text>
<text x="378.50" y="468.80" font-family="Liberation Serif" font-size="16.5">13</text>
<text x="454.83" y="477.20" font-family="Liberation Serif" font-size="22">10</text>
<text x="475.23" y="468.80" font-family="Liberation Serif" font-size="16.5">14</text>
<text x="551.57" y="477.20" font-family="Liberation Serif" font-size="22">10</text>
<text x="571.97" y="468.80" font-family="Liberation Serif" font-size="16.5">15</text>
<text x="648.30" y="477.20" font-family="Liberation Serif" font-size="22">10</text>
<text x="668.70" y="468.80" font-family="Liberation Serif" font-size="16.5">16</text>
<text x="72.30" y="427.53" font-family="Liberation Serif" font-size="16.5" text-anchor="end">2</text>
<rect x="53.6" y="423.13" width="10.4" height="0.9"/>
<text x="31.00" y="436.03" font-family="Liberation Serif" font-size="22">10</text>
<text x="72.30" y="378.82" font-family="Liberation Serif" font-size="16.5" text-anchor="end">1</text>
<rect x="53.6" y="374.42" width="10.4" height="0.9"/>
<text x="31.00" y="387.32" font-family="Liberation Serif" font-size="22">10</text>
<text x="72.60" y="330.10" font-family="Liberation Serif" font-size="16.5" text-anchor="end">0</text>
<text x="42.30" y="338.20" font-family="Liberation Serif" font-size="22">10</text>
<text x="72.60" y="281.38" font-family="Liberation Serif" font-size="16.5" text-anchor="end">1</text>
<text x="42.30" y="289.48" font-family="Liberation Serif" font-size="22">10</text>
<text x="72.60" y="232.67" font-family="Liberation Serif" font-size="16.5" text-anchor="end">2</text>
<text x="42.30" y="240.77" font-family="Liberation Serif" font-size="22">10</text>
<text x="72.60" y="183.95" font-family="Liberation Serif" font-size="16.5" text-anchor="end">3</text>
<text x="42.30" y="192.05" font-family="Liberation Serif" font-size="22">10</text>
<text x="72.60" y="135.23" font-family="Liberation Serif" font-size="16.5" text-anchor="end">4</text>
<text x="42.30" y="143.33" font-family="Liberation Serif" font-size="22">10</text>
<text x="72.60" y="86.52" font-family="Liberation Serif" font-size="16.5" text-anchor="end">5</text>
<text x="42.30" y="94.62" font-family="Liberation Serif" font-size="22">10</text>
<text x="72.60" y="37.80" font-family="Liberation Serif" font-size="16.5" text-anchor="end">6</text>
<text x="42.30" y="45.90" font-family="Liberation Serif" font-size="22">10</text>
<text x="332.00" y="513.30" font-family="Liberation Serif" font-size="26" font-style="italic">f</text>
<text x="343.60" y="517.40" font-family="Liberation Serif" font-size="16" font-style="italic" textLength="8.8" lengthAdjust="spacingAndGlyphs">a</text>
<text x="362.00" y="514.40" font-family="Liberation Sans" font-size="27">(</text>
<text x="371.80" y="513.00" font-family="Liberation Sans" font-size="23" textLength="42.5" lengthAdjust="spacingAndGlyphs">GeV</text>
<text x="416.80" y="514.40" font-family="Liberation Sans" font-size="27">)</text>
<g transform="translate(21.2,238.2) rotate(-90)"><text x="0.00" y="0.00" font-family="Liberation Serif" font-size="26.5" textLength="17" lengthAdjust="spacingAndGlyphs">&#937;</text><text x="17.30" y="0.00" font-family="Liberation Serif" font-size="26" font-style="italic" textLength="13.5" lengthAdjust="spacingAndGlyphs">h</text><text x="33.20" y="-9.20" font-family="Liberation Serif" font-size="16.5">2</text></g>
<text x="116.70" y="339.90" font-family="Liberation Serif" font-size="21.8" fill="#4a5b60" textLength="14.6" lengthAdjust="spacingAndGlyphs">&#937;</text><text x="132.00" y="339.90" font-family="Liberation Serif" font-size="23" font-style="italic" fill="#4a5b60" textLength="12" lengthAdjust="spacingAndGlyphs">h</text><text x="145.30" y="332.00" font-family="Liberation Serif" font-size="15.5" fill="#4a5b60">2</text><rect x="160.30" y="332.00" width="14.5" height="0.95" fill="#4a5b60"/><rect x="160.30" y="336.20" width="14.5" height="0.95" fill="#4a5b60"/><text x="181.90" y="340.50" font-family="Liberation Serif" font-size="22.5" fill="#4a5b60" textLength="37.6" lengthAdjust="spacingAndGlyphs">0.48</text>
<text x="503.50" y="400.40" font-family="Liberation Serif" font-size="21.8" textLength="14.6" lengthAdjust="spacingAndGlyphs">&#937;</text><text x="518.80" y="400.40" font-family="Liberation Serif" font-size="23" font-style="italic" textLength="12" lengthAdjust="spacingAndGlyphs">h</text><text x="532.10" y="392.50" font-family="Liberation Serif" font-size="15.5">2</text><rect x="547.10" y="392.50" width="14.5" height="0.95" fill="#000"/><rect x="547.10" y="396.70" width="14.5" height="0.95" fill="#000"/><text x="568.70" y="401.00" font-family="Liberation Serif" font-size="22.5" textLength="37.6" lengthAdjust="spacingAndGlyphs">0.12</text>
</svg>
</body></html>
